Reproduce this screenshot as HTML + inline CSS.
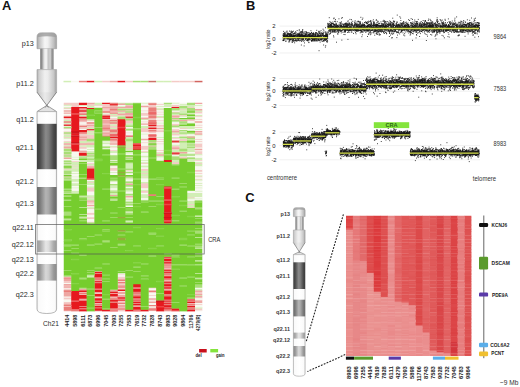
<!DOCTYPE html>
<html><head><meta charset="utf-8"><style>
html,body{margin:0;padding:0;background:#fff;width:520px;height:387px;overflow:hidden}
svg{display:block;font-family:"Liberation Sans",sans-serif}
</style></head><body>
<svg width="520" height="387" viewBox="0 0 520 387" font-family="Liberation Sans, sans-serif"><defs><linearGradient id="gcap" x1="0" y1="0" x2="1" y2="0"><stop offset="0" stop-color="#a8a8a8"/><stop offset="0.12" stop-color="#c4c4c4"/><stop offset="0.4" stop-color="#f6f6f6"/><stop offset="0.55" stop-color="#f0f0f0"/><stop offset="0.85" stop-color="#c0c0c0"/><stop offset="1" stop-color="#a0a0a0"/></linearGradient><linearGradient id="gstalk" x1="0" y1="0" x2="1" y2="0"><stop offset="0" stop-color="#a0a0a0"/><stop offset="0.12" stop-color="#8a8a8a"/><stop offset="0.3" stop-color="#e4e4e4"/><stop offset="0.45" stop-color="#f6f6f6"/><stop offset="0.6" stop-color="#c4c4c4"/><stop offset="0.75" stop-color="#d0d0d0"/><stop offset="0.88" stop-color="#8c8c8c"/><stop offset="1" stop-color="#a4a4a4"/></linearGradient><linearGradient id="gwide" x1="0" y1="0" x2="1" y2="0"><stop offset="0" stop-color="#a8a8a8"/><stop offset="0.1" stop-color="#cfcfcf"/><stop offset="0.4" stop-color="#f0f0f0"/><stop offset="0.55" stop-color="#ececec"/><stop offset="0.85" stop-color="#c8c8c8"/><stop offset="1" stop-color="#9c9c9c"/></linearGradient><linearGradient id="gdark" x1="0" y1="0" x2="1" y2="0"><stop offset="0" stop-color="#3e3e3e"/><stop offset="0.15" stop-color="#4a4a4a"/><stop offset="0.45" stop-color="#8a8a8a"/><stop offset="0.6" stop-color="#7c7c7c"/><stop offset="0.85" stop-color="#4a4a4a"/><stop offset="1" stop-color="#3a3a3a"/></linearGradient><linearGradient id="gmid" x1="0" y1="0" x2="1" y2="0"><stop offset="0" stop-color="#6a6a6a"/><stop offset="0.15" stop-color="#7a7a7a"/><stop offset="0.45" stop-color="#b4b4b4"/><stop offset="0.6" stop-color="#a8a8a8"/><stop offset="0.85" stop-color="#7a7a7a"/><stop offset="1" stop-color="#6a6a6a"/></linearGradient><linearGradient id="glight" x1="0" y1="0" x2="1" y2="0"><stop offset="0" stop-color="#a0a0a0"/><stop offset="0.15" stop-color="#a8a8a8"/><stop offset="0.45" stop-color="#e6e6e6"/><stop offset="0.6" stop-color="#dcdcdc"/><stop offset="0.85" stop-color="#aaaaaa"/><stop offset="1" stop-color="#9a9a9a"/></linearGradient><linearGradient id="gmid2" x1="0" y1="0" x2="1" y2="0"><stop offset="0" stop-color="#8c8c8c"/><stop offset="0.15" stop-color="#979797"/><stop offset="0.45" stop-color="#d8d8d8"/><stop offset="0.6" stop-color="#cccccc"/><stop offset="0.85" stop-color="#999999"/><stop offset="1" stop-color="#8a8a8a"/></linearGradient><linearGradient id="gwhite" x1="0" y1="0" x2="1" y2="0"><stop offset="0" stop-color="#e6e6e6"/><stop offset="0.08" stop-color="#fafafa"/><stop offset="0.5" stop-color="#ffffff"/><stop offset="0.92" stop-color="#fafafa"/><stop offset="1" stop-color="#e0e0e0"/></linearGradient><linearGradient id="gcone" x1="0" y1="0" x2="1" y2="0"><stop offset="0" stop-color="#c0c0c0"/><stop offset="0.4" stop-color="#e8e8e8"/><stop offset="0.6" stop-color="#dcdcdc"/><stop offset="1" stop-color="#b8b8b8"/></linearGradient></defs><text x="2.00" y="9.80" font-size="12.9" fill="#111" text-anchor="start" font-weight="bold" >A</text>
<path d="M37.00,48.70 L37.00,37.30 Q37.00,32.80 41.50,32.80 L52.10,32.80 Q56.60,32.80 56.60,37.30 L56.60,48.70 Z" fill="url(#gcap)" stroke="#a0a0a0" stroke-width="0.7"/>
<path d="M37.30,37.25 L37.30,37.30 Q37.30,33.10 41.50,33.10 L52.10,33.10 Q56.30,33.10 56.30,37.30 L56.30,37.25 Q46.80,35.47 37.30,37.25 Z" fill="#9c9c9c" opacity="0.8"/>
<rect x="40.00" y="48.70" width="13.80" height="20.90" fill="url(#gstalk)" />
<path d="M37.00,69.60 L56.60,69.60 L56.60,92.20 L46.80,105.40 L37.00,92.20 Z" fill="url(#gwide)"/>
<path d="M37.00,92.20 L56.60,92.20 L46.80,105.40 Z" fill="url(#gcone)" opacity="0.8"/>
<path d="M46.80,105.40 L56.60,111.60 L37.00,111.60 Z" fill="#e2e2e2"/>
<path d="M37.00,92.20 L48.41,107.57 M56.60,92.20 L45.19,107.57" stroke="#666" stroke-width="0.7" fill="none"/>
<path d="M37.00,111.60 L46.80,105.40 L56.60,111.60" stroke="#7a7a7a" stroke-width="0.7" fill="none"/>
<path d="M37.00,111.60 L56.60,111.60 L56.60,309.09 Q56.60,313.50 46.80,313.50 Q37.00,313.50 37.00,309.09 Z" fill="url(#gwhite)" stroke="#9a9a9a" stroke-width="0.7"/>
<rect x="37.00" y="123.80" width="19.60" height="45.40" fill="url(#gdark)" />
<rect x="37.00" y="187.00" width="19.60" height="27.50" fill="url(#gmid)" />
<rect x="37.00" y="240.40" width="19.60" height="11.70" fill="url(#glight)" />
<rect x="37.00" y="264.00" width="19.60" height="16.60" fill="url(#gmid2)" />
<path d="M37.00,92.20 L37.00,69.60 L56.60,69.60 L56.60,92.20" stroke="#a8a8a8" stroke-width="0.7" fill="none"/>
<text x="33.80" y="45.50" font-size="7.2" fill="#2a2a2a" text-anchor="end" font-weight="normal" >p13</text>
<text x="33.80" y="85.90" font-size="7.2" fill="#2a2a2a" text-anchor="end" font-weight="normal" >p11.2</text>
<text x="33.80" y="121.50" font-size="7.2" fill="#2a2a2a" text-anchor="end" font-weight="normal" >q11.2</text>
<text x="33.80" y="150.20" font-size="7.2" fill="#2a2a2a" text-anchor="end" font-weight="normal" >q21.1</text>
<text x="33.80" y="184.40" font-size="7.2" fill="#2a2a2a" text-anchor="end" font-weight="normal" >q21.2</text>
<text x="33.80" y="205.70" font-size="7.2" fill="#2a2a2a" text-anchor="end" font-weight="normal" >q21.3</text>
<text x="33.80" y="229.90" font-size="7.2" fill="#2a2a2a" text-anchor="end" font-weight="normal" >q22.11</text>
<text x="33.80" y="247.40" font-size="7.2" fill="#2a2a2a" text-anchor="end" font-weight="normal" >q22.12</text>
<text x="33.80" y="262.20" font-size="7.2" fill="#2a2a2a" text-anchor="end" font-weight="normal" >q22.13</text>
<text x="33.80" y="275.80" font-size="7.2" fill="#2a2a2a" text-anchor="end" font-weight="normal" >q22.2</text>
<text x="33.80" y="296.50" font-size="7.2" fill="#2a2a2a" text-anchor="end" font-weight="normal" >q22.3</text>
<text x="51.00" y="325.70" font-size="6.6" fill="#2a2a2a" text-anchor="middle" font-weight="normal" >Ch21</text>
<svg x="63.5" y="102.5" width="138.90" height="209.00" viewBox="0 0 18 190" preserveAspectRatio="none"><path fill="#f4cac6" d="M0 0h1.04v2.3h-1.04zM0 5h1.04v1.3h-1.04zM0 15h1.04v1.3h-1.04zM0 19h1.04v1.3h-1.04zM0 23h1.04v1.3h-1.04zM0 26h1.04v1.3h-1.04zM0 28h1.04v1.3h-1.04zM0 31h1.04v1.3h-1.04zM0 35h1.04v1.3h-1.04zM0 38h1.04v1.3h-1.04zM0 41h1.04v1.3h-1.04zM0 47h1.04v1.3h-1.04zM0 60h1.04v1.3h-1.04zM0 67h1.04v1.3h-1.04zM0 158h1.04v1.3h-1.04zM0 162h1.04v2.3h-1.04zM0 166h1.04v1.3h-1.04zM0 168h1.04v1.3h-1.04zM0 177h1.04v2.3h-1.04zM0 181h1.04v2.3h-1.04zM0 185h1.04v1.3h-1.04zM0 189h1.04v1.3h-1.04zM1 0h1.04v4.3h-1.04zM1 44h1.04v1.3h-1.04zM1 53h1.04v1.3h-1.04zM1 57h1.04v1.3h-1.04zM1 59h1.04v1.3h-1.04zM2 8h1.04v1.3h-1.04zM2 12h1.04v1.3h-1.04zM2 17h1.04v1.3h-1.04zM2 19h1.04v1.3h-1.04zM2 22h1.04v2.3h-1.04zM2 28h1.04v3.3h-1.04zM2 32h1.04v1.3h-1.04zM2 34h1.04v1.3h-1.04zM2 38h1.04v1.3h-1.04zM2 40h1.04v2.3h-1.04zM2 43h1.04v1.3h-1.04zM2 172h1.04v1.3h-1.04zM2 174h1.04v1.3h-1.04zM2 178h1.04v1.3h-1.04zM2 187h1.04v1.3h-1.04zM3 1h1.04v2.3h-1.04zM3 16h1.04v1.3h-1.04zM3 21h1.04v2.3h-1.04zM3 25h1.04v1.3h-1.04zM3 27h1.04v1.3h-1.04zM3 29h1.04v4.3h-1.04zM3 36h1.04v1.3h-1.04zM3 47h1.04v1.3h-1.04zM3 55h1.04v1.3h-1.04zM3 57h1.04v1.3h-1.04zM3 72h1.04v1.3h-1.04zM3 77h1.04v4.3h-1.04zM3 86h1.04v1.3h-1.04zM3 90h1.04v2.3h-1.04zM3 96h1.04v1.3h-1.04zM3 100h1.04v2.3h-1.04zM3 104h1.04v2.3h-1.04zM3 108h1.04v1.3h-1.04zM4 2h1.04v1.3h-1.04zM4 161h1.04v1.3h-1.04zM4 169h1.04v1.3h-1.04zM4 173h1.04v1.3h-1.04zM4 176h1.04v2.3h-1.04zM4 180h1.04v1.3h-1.04zM4 182h1.04v1.3h-1.04zM5 1h1.04v3.3h-1.04zM5 5h1.04v3.3h-1.04zM5 19h1.04v1.3h-1.04zM5 29h1.04v1.3h-1.04zM6 3h1.04v1.3h-1.04zM6 8h1.04v1.3h-1.04zM6 11h1.04v1.3h-1.04zM6 14h1.04v2.3h-1.04zM6 19h1.04v1.3h-1.04zM6 21h1.04v2.3h-1.04zM6 35h1.04v2.3h-1.04zM6 40h1.04v1.3h-1.04zM6 43h1.04v1.3h-1.04zM6 57h1.04v1.3h-1.04zM6 59h1.04v3.3h-1.04zM6 170h1.04v1.3h-1.04zM6 173h1.04v1.3h-1.04zM6 176h1.04v1.3h-1.04zM7 11h1.04v1.3h-1.04zM7 156h1.04v1.3h-1.04zM7 158h1.04v3.3h-1.04zM7 164h1.04v2.3h-1.04zM7 168h1.04v2.3h-1.04zM7 178h1.04v1.3h-1.04zM7 180h1.04v2.3h-1.04zM7 186h1.04v1.3h-1.04zM7 188h1.04v2.3h-1.04zM8 2h1.04v1.3h-1.04zM8 7h1.04v1.3h-1.04zM8 11h1.04v1.3h-1.04zM8 16h1.04v3.3h-1.04zM8 27h1.04v1.3h-1.04zM8 29h1.04v1.3h-1.04zM8 41h1.04v1.3h-1.04zM8 49h1.04v1.3h-1.04zM8 61h1.04v1.3h-1.04zM8 68h1.04v1.3h-1.04zM8 73h1.04v1.3h-1.04zM8 87h1.04v1.3h-1.04zM9 188h1.04v1.3h-1.04zM10 7h1.04v1.3h-1.04zM10 9h1.04v3.3h-1.04zM10 13h1.04v1.3h-1.04zM10 17h1.04v1.3h-1.04zM10 23h1.04v4.3h-1.04zM10 36h1.04v1.3h-1.04zM10 39h1.04v4.3h-1.04zM10 44h1.04v1.3h-1.04zM10 55h1.04v1.3h-1.04zM10 60h1.04v2.3h-1.04zM10 64h1.04v1.3h-1.04zM10 67h1.04v1.3h-1.04zM10 73h1.04v5.3h-1.04zM10 80h1.04v2.3h-1.04zM11 2h1.04v2.3h-1.04zM11 14h1.04v2.3h-1.04zM11 26h1.04v2.3h-1.04zM11 31h1.04v1.3h-1.04zM11 36h1.04v1.3h-1.04zM11 168h1.04v1.3h-1.04zM11 172h1.04v1.3h-1.04zM11 175h1.04v1.3h-1.04zM11 179h1.04v1.3h-1.04zM11 186h1.04v1.3h-1.04zM12 1h1.04v1.3h-1.04zM12 6h1.04v1.3h-1.04zM12 8h1.04v1.3h-1.04zM12 10h1.04v1.3h-1.04zM12 13h1.04v1.3h-1.04zM12 16h1.04v1.3h-1.04zM12 20h1.04v2.3h-1.04zM12 25h1.04v2.3h-1.04zM12 33h1.04v1.3h-1.04zM12 35h1.04v1.3h-1.04zM12 37h1.04v1.3h-1.04zM12 43h1.04v1.3h-1.04zM12 45h1.04v1.3h-1.04zM13 150h1.04v1.3h-1.04zM13 161h1.04v1.3h-1.04zM13 169h1.04v1.3h-1.04zM14 2h1.04v2.3h-1.04zM14 8h1.04v1.3h-1.04zM14 11h1.04v1.3h-1.04zM14 13h1.04v1.3h-1.04zM14 15h1.04v1.3h-1.04zM14 19h1.04v2.3h-1.04zM14 24h1.04v2.3h-1.04zM14 28h1.04v2.3h-1.04zM14 32h1.04v1.3h-1.04zM14 39h1.04v2.3h-1.04zM14 42h1.04v1.3h-1.04zM14 54h1.04v2.3h-1.04zM15 6h1.04v1.3h-1.04zM15 11h1.04v1.3h-1.04zM15 23h1.04v1.3h-1.04zM15 29h1.04v1.3h-1.04zM15 33h1.04v2.3h-1.04zM15 49h1.04v2.3h-1.04zM16 4h1.04v1.3h-1.04zM16 15h1.04v2.3h-1.04zM16 86h1.04v1.3h-1.04zM16 92h1.04v1.3h-1.04zM16 95h1.04v1.3h-1.04zM16 182h1.04v1.3h-1.04zM17 8h1.04v2.3h-1.04zM17 12h1.04v1.3h-1.04zM17 15h1.04v1.3h-1.04zM17 20h1.04v1.3h-1.04zM17 22h1.04v1.3h-1.04zM17 33h1.04v1.3h-1.04zM17 35h1.04v1.3h-1.04zM17 37h1.04v4.3h-1.04zM17 44h1.04v3.3h-1.04zM17 52h1.04v1.3h-1.04zM17 55h1.04v1.3h-1.04zM17 61h1.04v2.3h-1.04zM17 64h1.04v1.3h-1.04zM17 67h1.04v1.3h-1.04zM17 69h1.04v1.3h-1.04zM17 172h1.04v2.3h-1.04zM17 177h1.04v1.3h-1.04zM17 179h1.04v1.3h-1.04zM17 183h1.04v1.3h-1.04zM17 187h1.04v2.3h-1.04z"/><path fill="#d2eeb6" d="M0 2h1.04v1.3h-1.04zM0 4h1.04v1.3h-1.04zM0 16h1.04v1.3h-1.04zM0 18h1.04v1.3h-1.04zM0 29h1.04v2.3h-1.04zM0 32h1.04v1.3h-1.04zM0 36h1.04v1.3h-1.04zM0 39h1.04v1.3h-1.04zM0 44h1.04v1.3h-1.04zM0 49h1.04v1.3h-1.04zM0 52h1.04v1.3h-1.04zM0 54h1.04v1.3h-1.04zM0 61h1.04v1.3h-1.04zM0 65h1.04v1.3h-1.04zM0 70h1.04v1.3h-1.04zM0 78h1.04v1.3h-1.04zM0 82h1.04v1.3h-1.04zM0 88h1.04v1.3h-1.04zM0 106h1.04v1.3h-1.04zM1 49h1.04v1.3h-1.04zM1 51h1.04v1.3h-1.04zM1 54h1.04v3.3h-1.04zM1 58h1.04v1.3h-1.04zM1 60h1.04v3.3h-1.04zM1 64h1.04v1.3h-1.04zM1 67h1.04v1.3h-1.04zM1 69h1.04v3.3h-1.04zM1 73h1.04v3.3h-1.04zM1 77h1.04v1.3h-1.04zM1 80h1.04v3.3h-1.04zM2 2h1.04v1.3h-1.04zM2 11h1.04v1.3h-1.04zM2 35h1.04v2.3h-1.04zM2 39h1.04v1.3h-1.04zM2 48h1.04v1.3h-1.04zM2 50h1.04v1.3h-1.04zM2 52h1.04v2.3h-1.04zM2 68h1.04v1.3h-1.04zM2 85h1.04v1.3h-1.04zM2 95h1.04v1.3h-1.04zM2 101h1.04v1.3h-1.04zM2 104h1.04v1.3h-1.04zM3 3h1.04v2.3h-1.04zM3 15h1.04v1.3h-1.04zM3 23h1.04v1.3h-1.04zM3 26h1.04v1.3h-1.04zM3 28h1.04v1.3h-1.04zM3 35h1.04v1.3h-1.04zM3 38h1.04v3.3h-1.04zM3 42h1.04v1.3h-1.04zM3 44h1.04v2.3h-1.04zM3 49h1.04v2.3h-1.04zM3 52h1.04v2.3h-1.04zM3 56h1.04v1.3h-1.04zM3 71h1.04v1.3h-1.04zM3 73h1.04v2.3h-1.04zM3 76h1.04v1.3h-1.04zM3 84h1.04v2.3h-1.04zM3 87h1.04v2.3h-1.04zM3 95h1.04v1.3h-1.04zM3 157h1.04v2.3h-1.04zM4 0h1.04v2.3h-1.04zM4 4h1.04v1.3h-1.04zM5 9h1.04v1.3h-1.04zM5 36h1.04v2.3h-1.04zM5 39h1.04v1.3h-1.04zM6 10h1.04v1.3h-1.04zM6 12h1.04v1.3h-1.04zM6 17h1.04v1.3h-1.04zM6 20h1.04v1.3h-1.04zM6 23h1.04v1.3h-1.04zM6 27h1.04v1.3h-1.04zM6 39h1.04v1.3h-1.04zM6 44h1.04v2.3h-1.04zM6 54h1.04v1.3h-1.04zM6 63h1.04v1.3h-1.04zM6 71h1.04v1.3h-1.04zM6 75h1.04v3.3h-1.04zM6 79h1.04v2.3h-1.04zM6 82h1.04v2.3h-1.04zM7 0h1.04v1.3h-1.04zM7 3h1.04v1.3h-1.04zM7 5h1.04v1.3h-1.04zM7 8h1.04v2.3h-1.04zM7 12h1.04v1.3h-1.04zM8 0h1.04v1.3h-1.04zM8 5h1.04v1.3h-1.04zM8 14h1.04v1.3h-1.04zM8 19h1.04v2.3h-1.04zM8 23h1.04v1.3h-1.04zM8 25h1.04v1.3h-1.04zM8 31h1.04v2.3h-1.04zM8 35h1.04v6.3h-1.04zM8 42h1.04v2.3h-1.04zM8 46h1.04v1.3h-1.04zM8 51h1.04v1.3h-1.04zM8 55h1.04v5.3h-1.04zM8 69h1.04v1.3h-1.04zM8 71h1.04v1.3h-1.04zM8 76h1.04v1.3h-1.04zM8 79h1.04v2.3h-1.04zM8 84h1.04v1.3h-1.04zM8 88h1.04v1.3h-1.04zM8 91h1.04v1.3h-1.04zM8 93h1.04v1.3h-1.04zM8 107h1.04v2.3h-1.04zM10 0h1.04v1.3h-1.04zM10 15h1.04v1.3h-1.04zM10 21h1.04v2.3h-1.04zM10 28h1.04v1.3h-1.04zM10 45h1.04v1.3h-1.04zM10 48h1.04v2.3h-1.04zM10 52h1.04v1.3h-1.04zM10 54h1.04v1.3h-1.04zM10 57h1.04v2.3h-1.04zM10 62h1.04v2.3h-1.04zM10 65h1.04v2.3h-1.04zM10 68h1.04v1.3h-1.04zM10 72h1.04v1.3h-1.04zM10 79h1.04v1.3h-1.04zM10 83h1.04v4.3h-1.04zM10 88h1.04v1.3h-1.04zM12 3h1.04v1.3h-1.04zM12 5h1.04v1.3h-1.04zM12 12h1.04v1.3h-1.04zM12 18h1.04v1.3h-1.04zM12 31h1.04v1.3h-1.04zM12 46h1.04v1.3h-1.04zM12 48h1.04v2.3h-1.04zM13 1h1.04v3.3h-1.04zM14 0h1.04v1.3h-1.04zM14 10h1.04v1.3h-1.04zM14 17h1.04v1.3h-1.04zM14 22h1.04v1.3h-1.04zM14 27h1.04v1.3h-1.04zM14 31h1.04v1.3h-1.04zM14 38h1.04v1.3h-1.04zM14 43h1.04v2.3h-1.04zM14 48h1.04v1.3h-1.04zM14 52h1.04v2.3h-1.04zM15 1h1.04v1.3h-1.04zM15 5h1.04v1.3h-1.04zM15 7h1.04v3.3h-1.04zM15 12h1.04v1.3h-1.04zM15 15h1.04v1.3h-1.04zM15 19h1.04v1.3h-1.04zM15 21h1.04v2.3h-1.04zM15 28h1.04v1.3h-1.04zM15 32h1.04v1.3h-1.04zM15 36h1.04v6.3h-1.04zM15 44h1.04v1.3h-1.04zM15 46h1.04v1.3h-1.04zM15 48h1.04v1.3h-1.04zM16 2h1.04v2.3h-1.04zM16 9h1.04v2.3h-1.04zM16 12h1.04v1.3h-1.04zM16 18h1.04v1.3h-1.04zM16 21h1.04v3.3h-1.04zM16 25h1.04v1.3h-1.04zM16 28h1.04v1.3h-1.04zM16 30h1.04v1.3h-1.04zM16 33h1.04v1.3h-1.04zM16 37h1.04v1.3h-1.04zM16 39h1.04v1.3h-1.04zM16 41h1.04v4.3h-1.04zM16 46h1.04v1.3h-1.04zM16 49h1.04v1.3h-1.04zM16 51h1.04v3.3h-1.04zM16 82h1.04v4.3h-1.04zM16 87h1.04v1.3h-1.04zM16 89h1.04v3.3h-1.04zM16 93h1.04v2.3h-1.04zM17 2h1.04v1.3h-1.04zM17 7h1.04v1.3h-1.04zM17 11h1.04v1.3h-1.04zM17 24h1.04v1.3h-1.04zM17 29h1.04v1.3h-1.04zM17 47h1.04v1.3h-1.04zM17 50h1.04v2.3h-1.04zM17 54h1.04v1.3h-1.04zM17 56h1.04v2.3h-1.04zM17 66h1.04v1.3h-1.04zM17 70h1.04v1.3h-1.04zM17 73h1.04v1.3h-1.04zM17 75h1.04v1.3h-1.04zM17 77h1.04v1.3h-1.04zM17 80h1.04v1.3h-1.04zM17 82h1.04v4.3h-1.04zM17 87h1.04v1.3h-1.04zM17 103h1.04v1.3h-1.04zM17 122h1.04v1.3h-1.04zM17 132h1.04v1.3h-1.04zM17 137h1.04v1.3h-1.04zM17 143h1.04v1.3h-1.04zM17 147h1.04v1.3h-1.04zM17 155h1.04v1.3h-1.04zM17 159h1.04v1.3h-1.04zM17 169h1.04v2.3h-1.04zM17 175h1.04v1.3h-1.04zM17 186h1.04v1.3h-1.04z"/><path fill="#f8f8f0" d="M0 3h1.04v1.3h-1.04zM0 6h1.04v1.3h-1.04zM0 8h1.04v1.3h-1.04zM0 10h1.04v2.3h-1.04zM0 14h1.04v1.3h-1.04zM0 21h1.04v1.3h-1.04zM0 24h1.04v2.3h-1.04zM0 33h1.04v2.3h-1.04zM0 51h1.04v1.3h-1.04zM0 56h1.04v1.3h-1.04zM0 164h1.04v1.3h-1.04zM0 169h1.04v1.3h-1.04zM0 176h1.04v1.3h-1.04zM0 179h1.04v2.3h-1.04zM1 45h1.04v4.3h-1.04zM1 50h1.04v1.3h-1.04zM1 52h1.04v1.3h-1.04zM1 63h1.04v1.3h-1.04zM1 65h1.04v2.3h-1.04zM1 68h1.04v1.3h-1.04zM1 72h1.04v1.3h-1.04zM1 76h1.04v1.3h-1.04zM1 78h1.04v2.3h-1.04zM2 3h1.04v1.3h-1.04zM2 18h1.04v1.3h-1.04zM2 20h1.04v1.3h-1.04zM2 24h1.04v1.3h-1.04zM2 42h1.04v1.3h-1.04zM3 17h1.04v1.3h-1.04zM3 19h1.04v1.3h-1.04zM3 41h1.04v1.3h-1.04zM3 43h1.04v1.3h-1.04zM3 54h1.04v1.3h-1.04zM3 70h1.04v1.3h-1.04zM3 75h1.04v1.3h-1.04zM3 81h1.04v3.3h-1.04zM3 92h1.04v1.3h-1.04zM3 94h1.04v1.3h-1.04zM3 97h1.04v3.3h-1.04zM3 102h1.04v2.3h-1.04zM3 106h1.04v2.3h-1.04zM4 3h1.04v1.3h-1.04zM5 10h1.04v1.3h-1.04zM5 15h1.04v1.3h-1.04zM5 26h1.04v1.3h-1.04zM5 35h1.04v1.3h-1.04zM5 38h1.04v1.3h-1.04zM5 41h1.04v1.3h-1.04zM6 13h1.04v1.3h-1.04zM6 38h1.04v1.3h-1.04zM6 41h1.04v2.3h-1.04zM6 46h1.04v2.3h-1.04zM6 52h1.04v1.3h-1.04zM6 58h1.04v1.3h-1.04zM6 62h1.04v1.3h-1.04zM6 64h1.04v2.3h-1.04zM6 72h1.04v2.3h-1.04zM6 78h1.04v1.3h-1.04zM6 88h1.04v1.3h-1.04zM7 2h1.04v1.3h-1.04zM7 155h1.04v1.3h-1.04zM7 157h1.04v1.3h-1.04zM7 162h1.04v1.3h-1.04zM7 171h1.04v1.3h-1.04zM7 174h1.04v1.3h-1.04zM7 183h1.04v1.3h-1.04zM8 22h1.04v1.3h-1.04zM8 26h1.04v1.3h-1.04zM8 28h1.04v1.3h-1.04zM8 45h1.04v1.3h-1.04zM8 47h1.04v1.3h-1.04zM8 62h1.04v1.3h-1.04zM8 64h1.04v2.3h-1.04zM8 70h1.04v1.3h-1.04zM8 77h1.04v1.3h-1.04zM8 81h1.04v2.3h-1.04zM8 86h1.04v1.3h-1.04zM8 89h1.04v1.3h-1.04zM8 94h1.04v1.3h-1.04zM8 99h1.04v1.3h-1.04zM10 1h1.04v2.3h-1.04zM10 4h1.04v3.3h-1.04zM10 8h1.04v1.3h-1.04zM10 12h1.04v1.3h-1.04zM10 16h1.04v1.3h-1.04zM10 18h1.04v1.3h-1.04zM10 20h1.04v1.3h-1.04zM10 27h1.04v1.3h-1.04zM10 29h1.04v4.3h-1.04zM10 34h1.04v2.3h-1.04zM10 37h1.04v2.3h-1.04zM10 43h1.04v1.3h-1.04zM10 46h1.04v2.3h-1.04zM10 50h1.04v2.3h-1.04zM10 53h1.04v1.3h-1.04zM10 56h1.04v1.3h-1.04zM10 59h1.04v1.3h-1.04zM10 69h1.04v3.3h-1.04zM10 78h1.04v1.3h-1.04zM10 82h1.04v1.3h-1.04zM10 87h1.04v1.3h-1.04zM11 24h1.04v1.3h-1.04zM11 28h1.04v1.3h-1.04zM11 169h1.04v2.3h-1.04zM11 173h1.04v2.3h-1.04zM11 176h1.04v2.3h-1.04zM11 180h1.04v1.3h-1.04zM11 182h1.04v2.3h-1.04zM11 185h1.04v1.3h-1.04zM11 189h1.04v1.3h-1.04zM12 0h1.04v1.3h-1.04zM12 2h1.04v1.3h-1.04zM12 4h1.04v1.3h-1.04zM12 7h1.04v1.3h-1.04zM12 9h1.04v1.3h-1.04zM12 11h1.04v1.3h-1.04zM12 14h1.04v2.3h-1.04zM12 17h1.04v1.3h-1.04zM12 19h1.04v1.3h-1.04zM12 22h1.04v1.3h-1.04zM12 24h1.04v1.3h-1.04zM12 27h1.04v4.3h-1.04zM12 32h1.04v1.3h-1.04zM12 34h1.04v1.3h-1.04zM12 36h1.04v1.3h-1.04zM12 38h1.04v5.3h-1.04zM12 44h1.04v1.3h-1.04zM12 50h1.04v3.3h-1.04zM13 4h1.04v1.3h-1.04zM14 1h1.04v1.3h-1.04zM14 7h1.04v1.3h-1.04zM14 18h1.04v1.3h-1.04zM14 23h1.04v1.3h-1.04zM14 30h1.04v1.3h-1.04zM14 33h1.04v1.3h-1.04zM14 36h1.04v2.3h-1.04zM14 47h1.04v1.3h-1.04zM15 0h1.04v1.3h-1.04zM15 2h1.04v1.3h-1.04zM15 13h1.04v1.3h-1.04zM15 24h1.04v1.3h-1.04zM15 26h1.04v1.3h-1.04zM15 30h1.04v1.3h-1.04zM16 17h1.04v1.3h-1.04zM16 24h1.04v1.3h-1.04zM16 29h1.04v1.3h-1.04zM16 45h1.04v1.3h-1.04zM16 48h1.04v1.3h-1.04zM16 80h1.04v2.3h-1.04zM16 88h1.04v1.3h-1.04zM17 1h1.04v1.3h-1.04zM17 3h1.04v3.3h-1.04zM17 10h1.04v1.3h-1.04zM17 13h1.04v2.3h-1.04zM17 16h1.04v1.3h-1.04zM17 18h1.04v2.3h-1.04zM17 21h1.04v1.3h-1.04zM17 23h1.04v1.3h-1.04zM17 25h1.04v1.3h-1.04zM17 27h1.04v1.3h-1.04zM17 30h1.04v3.3h-1.04zM17 34h1.04v1.3h-1.04zM17 36h1.04v1.3h-1.04zM17 41h1.04v1.3h-1.04zM17 43h1.04v1.3h-1.04zM17 48h1.04v2.3h-1.04zM17 53h1.04v1.3h-1.04zM17 58h1.04v3.3h-1.04zM17 63h1.04v1.3h-1.04zM17 65h1.04v1.3h-1.04zM17 68h1.04v1.3h-1.04zM17 71h1.04v2.3h-1.04zM17 74h1.04v1.3h-1.04zM17 76h1.04v1.3h-1.04zM17 78h1.04v2.3h-1.04zM17 81h1.04v1.3h-1.04zM17 86h1.04v1.3h-1.04zM17 88h1.04v1.3h-1.04zM17 168h1.04v1.3h-1.04zM17 178h1.04v1.3h-1.04zM17 182h1.04v1.3h-1.04zM17 184h1.04v2.3h-1.04zM17 189h1.04v1.3h-1.04z"/><path fill="#eea6a2" d="M0 7h1.04v1.3h-1.04zM0 9h1.04v1.3h-1.04zM0 12h1.04v1.3h-1.04zM0 37h1.04v1.3h-1.04zM0 40h1.04v1.3h-1.04zM0 50h1.04v1.3h-1.04zM0 160h1.04v2.3h-1.04zM0 165h1.04v1.3h-1.04zM0 167h1.04v1.3h-1.04zM0 170h1.04v1.3h-1.04zM0 172h1.04v4.3h-1.04zM0 183h1.04v1.3h-1.04zM1 180h1.04v1.3h-1.04zM2 5h1.04v2.3h-1.04zM2 9h1.04v1.3h-1.04zM2 15h1.04v2.3h-1.04zM2 31h1.04v1.3h-1.04zM2 33h1.04v1.3h-1.04zM2 37h1.04v1.3h-1.04zM2 44h1.04v2.3h-1.04zM2 169h1.04v2.3h-1.04zM2 185h1.04v1.3h-1.04zM3 0h1.04v1.3h-1.04zM3 20h1.04v1.3h-1.04zM3 37h1.04v1.3h-1.04zM3 58h1.04v2.3h-1.04zM3 89h1.04v1.3h-1.04zM3 93h1.04v1.3h-1.04zM4 153h1.04v1.3h-1.04zM4 155h1.04v1.3h-1.04zM4 172h1.04v1.3h-1.04zM4 184h1.04v1.3h-1.04zM4 186h1.04v1.3h-1.04zM4 189h1.04v1.3h-1.04zM5 4h1.04v1.3h-1.04zM5 11h1.04v1.3h-1.04zM5 16h1.04v3.3h-1.04zM5 20h1.04v3.3h-1.04zM5 24h1.04v2.3h-1.04zM5 27h1.04v2.3h-1.04zM6 4h1.04v2.3h-1.04zM6 7h1.04v1.3h-1.04zM6 24h1.04v1.3h-1.04zM6 28h1.04v1.3h-1.04zM6 32h1.04v1.3h-1.04zM6 34h1.04v1.3h-1.04zM6 37h1.04v1.3h-1.04zM6 84h1.04v1.3h-1.04zM6 177h1.04v1.3h-1.04zM6 187h1.04v1.3h-1.04zM7 1h1.04v1.3h-1.04zM7 4h1.04v1.3h-1.04zM7 7h1.04v1.3h-1.04zM7 10h1.04v1.3h-1.04zM7 166h1.04v1.3h-1.04zM7 172h1.04v2.3h-1.04zM7 175h1.04v2.3h-1.04zM7 184h1.04v2.3h-1.04zM8 3h1.04v2.3h-1.04zM8 9h1.04v2.3h-1.04zM8 12h1.04v1.3h-1.04zM8 74h1.04v1.3h-1.04zM8 85h1.04v1.3h-1.04zM9 174h1.04v1.3h-1.04zM9 182h1.04v1.3h-1.04zM9 184h1.04v2.3h-1.04zM10 3h1.04v1.3h-1.04zM10 14h1.04v1.3h-1.04zM10 19h1.04v1.3h-1.04zM10 33h1.04v1.3h-1.04zM11 0h1.04v1.3h-1.04zM11 4h1.04v1.3h-1.04zM11 8h1.04v1.3h-1.04zM11 11h1.04v1.3h-1.04zM11 21h1.04v2.3h-1.04zM11 39h1.04v1.3h-1.04zM11 178h1.04v1.3h-1.04zM11 181h1.04v1.3h-1.04zM12 23h1.04v1.3h-1.04zM12 47h1.04v1.3h-1.04zM13 146h1.04v1.3h-1.04zM13 148h1.04v1.3h-1.04zM13 151h1.04v1.3h-1.04zM13 155h1.04v1.3h-1.04zM13 157h1.04v1.3h-1.04zM13 167h1.04v1.3h-1.04zM13 174h1.04v1.3h-1.04zM13 179h1.04v1.3h-1.04zM13 186h1.04v1.3h-1.04zM13 189h1.04v1.3h-1.04zM14 12h1.04v1.3h-1.04zM14 26h1.04v1.3h-1.04zM14 34h1.04v1.3h-1.04zM14 41h1.04v1.3h-1.04zM15 16h1.04v1.3h-1.04zM15 45h1.04v1.3h-1.04zM16 31h1.04v1.3h-1.04zM16 178h1.04v1.3h-1.04zM16 184h1.04v1.3h-1.04zM17 0h1.04v1.3h-1.04zM17 6h1.04v1.3h-1.04zM17 17h1.04v1.3h-1.04zM17 26h1.04v1.3h-1.04zM17 28h1.04v1.3h-1.04zM17 42h1.04v1.3h-1.04zM17 171h1.04v1.3h-1.04zM17 174h1.04v1.3h-1.04zM17 176h1.04v1.3h-1.04zM17 180h1.04v2.3h-1.04z"/><path fill="#e6191e" d="M0 13h1.04v1.3h-1.04zM1 4h1.04v6.3h-1.04zM1 11h1.04v15.3h-1.04zM1 28h1.04v2.3h-1.04zM1 31h1.04v5.3h-1.04zM1 38h1.04v6.3h-1.04zM1 171h1.04v9.3h-1.04zM1 181h1.04v7.3h-1.04zM2 0h1.04v2.3h-1.04zM2 4h1.04v1.3h-1.04zM2 7h1.04v1.3h-1.04zM2 13h1.04v1.3h-1.04zM2 25h1.04v2.3h-1.04zM2 46h1.04v2.3h-1.04zM2 171h1.04v1.3h-1.04zM2 175h1.04v3.3h-1.04zM2 180h1.04v5.3h-1.04zM2 186h1.04v1.3h-1.04zM2 188h1.04v2.3h-1.04zM3 5h1.04v1.3h-1.04zM3 60h1.04v9.3h-1.04zM4 154h1.04v1.3h-1.04zM4 156h1.04v3.3h-1.04zM4 162h1.04v1.3h-1.04zM4 164h1.04v5.3h-1.04zM4 170h1.04v2.3h-1.04zM4 174h1.04v2.3h-1.04zM4 178h1.04v2.3h-1.04zM4 181h1.04v1.3h-1.04zM4 185h1.04v1.3h-1.04zM4 187h1.04v2.3h-1.04zM5 0h1.04v1.3h-1.04zM5 12h1.04v1.3h-1.04zM5 14h1.04v1.3h-1.04zM5 188h1.04v2.3h-1.04zM6 1h1.04v1.3h-1.04zM6 29h1.04v1.3h-1.04zM6 31h1.04v1.3h-1.04zM6 172h1.04v1.3h-1.04zM6 174h1.04v2.3h-1.04zM6 179h1.04v2.3h-1.04zM6 182h1.04v5.3h-1.04zM6 189h1.04v1.3h-1.04zM7 15h1.04v7.3h-1.04zM7 23h1.04v16.3h-1.04zM7 170h1.04v1.3h-1.04zM7 177h1.04v1.3h-1.04zM7 179h1.04v1.3h-1.04zM8 188h1.04v2.3h-1.04zM9 38h1.04v2.3h-1.04zM9 42h1.04v1.3h-1.04zM9 165h1.04v3.3h-1.04zM9 169h1.04v3.3h-1.04zM9 176h1.04v2.3h-1.04zM9 179h1.04v1.3h-1.04zM9 181h1.04v1.3h-1.04zM9 183h1.04v1.3h-1.04zM9 186h1.04v2.3h-1.04zM9 189h1.04v1.3h-1.04zM10 188h1.04v2.3h-1.04zM11 9h1.04v1.3h-1.04zM11 18h1.04v1.3h-1.04zM11 20h1.04v1.3h-1.04zM11 23h1.04v1.3h-1.04zM11 29h1.04v1.3h-1.04zM11 32h1.04v2.3h-1.04zM12 181h1.04v4.3h-1.04zM12 186h1.04v4.3h-1.04zM13 52h1.04v2.3h-1.04zM13 76h1.04v1.3h-1.04zM13 78h1.04v10.3h-1.04zM13 89h1.04v3.3h-1.04zM13 93h1.04v7.3h-1.04zM13 101h1.04v3.3h-1.04zM13 105h1.04v2.3h-1.04zM13 108h1.04v2.3h-1.04zM13 140h1.04v1.3h-1.04zM13 142h1.04v2.3h-1.04zM13 145h1.04v1.3h-1.04zM13 152h1.04v1.3h-1.04zM13 154h1.04v1.3h-1.04zM13 158h1.04v2.3h-1.04zM13 163h1.04v1.3h-1.04zM13 165h1.04v2.3h-1.04zM13 168h1.04v1.3h-1.04zM13 171h1.04v3.3h-1.04zM13 176h1.04v3.3h-1.04zM13 180h1.04v1.3h-1.04zM13 182h1.04v1.3h-1.04zM13 184h1.04v2.3h-1.04zM13 187h1.04v1.3h-1.04zM14 4h1.04v1.3h-1.04zM14 187h1.04v2.3h-1.04zM16 179h1.04v1.3h-1.04zM16 181h1.04v1.3h-1.04zM16 185h1.04v1.3h-1.04zM16 188h1.04v2.3h-1.04z"/><path fill="#ea7e7a" d="M0 17h1.04v1.3h-1.04zM0 159h1.04v1.3h-1.04zM0 171h1.04v1.3h-1.04zM0 184h1.04v1.3h-1.04zM0 186h1.04v3.3h-1.04zM1 188h1.04v2.3h-1.04zM2 10h1.04v1.3h-1.04zM2 14h1.04v1.3h-1.04zM2 21h1.04v1.3h-1.04zM2 27h1.04v1.3h-1.04zM2 173h1.04v1.3h-1.04zM2 179h1.04v1.3h-1.04zM3 18h1.04v1.3h-1.04zM4 159h1.04v2.3h-1.04zM4 163h1.04v1.3h-1.04zM4 183h1.04v1.3h-1.04zM5 8h1.04v1.3h-1.04zM5 23h1.04v1.3h-1.04zM5 30h1.04v1.3h-1.04zM6 0h1.04v1.3h-1.04zM6 2h1.04v1.3h-1.04zM6 6h1.04v1.3h-1.04zM6 9h1.04v1.3h-1.04zM6 16h1.04v1.3h-1.04zM6 18h1.04v1.3h-1.04zM6 25h1.04v2.3h-1.04zM6 30h1.04v1.3h-1.04zM6 33h1.04v1.3h-1.04zM6 171h1.04v1.3h-1.04zM6 178h1.04v1.3h-1.04zM6 181h1.04v1.3h-1.04zM6 188h1.04v1.3h-1.04zM7 161h1.04v1.3h-1.04zM7 163h1.04v1.3h-1.04zM7 167h1.04v1.3h-1.04zM7 182h1.04v1.3h-1.04zM7 187h1.04v1.3h-1.04zM8 30h1.04v1.3h-1.04zM9 168h1.04v1.3h-1.04zM9 172h1.04v2.3h-1.04zM9 175h1.04v1.3h-1.04zM9 178h1.04v1.3h-1.04zM9 180h1.04v1.3h-1.04zM11 1h1.04v1.3h-1.04zM11 5h1.04v3.3h-1.04zM11 10h1.04v1.3h-1.04zM11 12h1.04v2.3h-1.04zM11 16h1.04v2.3h-1.04zM11 19h1.04v1.3h-1.04zM11 25h1.04v1.3h-1.04zM11 30h1.04v1.3h-1.04zM11 83h1.04v2.3h-1.04zM11 171h1.04v1.3h-1.04zM11 184h1.04v1.3h-1.04zM11 187h1.04v2.3h-1.04zM13 141h1.04v1.3h-1.04zM13 144h1.04v1.3h-1.04zM13 147h1.04v1.3h-1.04zM13 149h1.04v1.3h-1.04zM13 153h1.04v1.3h-1.04zM13 156h1.04v1.3h-1.04zM13 160h1.04v1.3h-1.04zM13 162h1.04v1.3h-1.04zM13 164h1.04v1.3h-1.04zM13 170h1.04v1.3h-1.04zM13 175h1.04v1.3h-1.04zM13 181h1.04v1.3h-1.04zM13 183h1.04v1.3h-1.04zM13 188h1.04v1.3h-1.04zM14 45h1.04v1.3h-1.04zM16 180h1.04v1.3h-1.04zM16 183h1.04v1.3h-1.04zM16 186h1.04v2.3h-1.04z"/><path fill="#e43c3c" d="M0 20h1.04v1.3h-1.04zM3 24h1.04v1.3h-1.04zM8 13h1.04v1.3h-1.04zM14 35h1.04v1.3h-1.04zM14 46h1.04v1.3h-1.04z"/><path fill="#a8de76" d="M0 22h1.04v1.3h-1.04zM0 27h1.04v1.3h-1.04zM0 42h1.04v2.3h-1.04zM0 45h1.04v2.3h-1.04zM0 48h1.04v1.3h-1.04zM0 53h1.04v1.3h-1.04zM0 55h1.04v1.3h-1.04zM0 57h1.04v1.3h-1.04zM0 59h1.04v1.3h-1.04zM0 62h1.04v3.3h-1.04zM0 68h1.04v2.3h-1.04zM0 80h1.04v2.3h-1.04zM0 84h1.04v2.3h-1.04zM0 94h1.04v1.3h-1.04zM0 99h1.04v4.3h-1.04zM0 105h1.04v1.3h-1.04zM0 130h1.04v1.3h-1.04zM0 134h1.04v1.3h-1.04zM0 152h1.04v1.3h-1.04zM0 157h1.04v1.3h-1.04zM1 129h1.04v1.3h-1.04zM1 132h1.04v1.3h-1.04zM2 49h1.04v1.3h-1.04zM2 55h1.04v1.3h-1.04zM2 65h1.04v1.3h-1.04zM2 74h1.04v1.3h-1.04zM2 84h1.04v1.3h-1.04zM2 86h1.04v1.3h-1.04zM2 88h1.04v1.3h-1.04zM2 103h1.04v1.3h-1.04zM2 105h1.04v1.3h-1.04zM2 107h1.04v1.3h-1.04zM2 123h1.04v1.3h-1.04zM2 138h1.04v1.3h-1.04zM2 159h1.04v2.3h-1.04zM2 168h1.04v1.3h-1.04zM3 33h1.04v2.3h-1.04zM3 46h1.04v1.3h-1.04zM3 48h1.04v1.3h-1.04zM3 51h1.04v1.3h-1.04zM3 109h1.04v1.3h-1.04zM3 121h1.04v1.3h-1.04zM3 152h1.04v1.3h-1.04zM3 154h1.04v1.3h-1.04zM3 156h1.04v1.3h-1.04zM3 175h1.04v1.3h-1.04zM4 22h1.04v1.3h-1.04zM4 27h1.04v1.3h-1.04zM4 120h1.04v1.3h-1.04zM4 150h1.04v1.3h-1.04zM5 34h1.04v1.3h-1.04zM5 40h1.04v1.3h-1.04zM5 42h1.04v1.3h-1.04zM5 115h1.04v1.3h-1.04zM5 125h1.04v2.3h-1.04zM5 146h1.04v1.3h-1.04zM5 162h1.04v1.3h-1.04zM5 178h1.04v1.3h-1.04zM6 48h1.04v4.3h-1.04zM6 53h1.04v1.3h-1.04zM6 68h1.04v1.3h-1.04zM6 70h1.04v1.3h-1.04zM6 74h1.04v1.3h-1.04zM6 81h1.04v1.3h-1.04zM6 85h1.04v1.3h-1.04zM6 87h1.04v1.3h-1.04zM6 100h1.04v1.3h-1.04zM6 104h1.04v1.3h-1.04zM6 131h1.04v1.3h-1.04zM7 6h1.04v1.3h-1.04zM7 13h1.04v2.3h-1.04zM7 46h1.04v1.3h-1.04zM7 60h1.04v1.3h-1.04zM7 80h1.04v1.3h-1.04zM7 95h1.04v1.3h-1.04zM7 120h1.04v1.3h-1.04zM7 128h1.04v2.3h-1.04zM7 153h1.04v1.3h-1.04zM8 1h1.04v1.3h-1.04zM8 6h1.04v1.3h-1.04zM8 8h1.04v1.3h-1.04zM8 15h1.04v1.3h-1.04zM8 21h1.04v1.3h-1.04zM8 24h1.04v1.3h-1.04zM8 33h1.04v2.3h-1.04zM8 50h1.04v1.3h-1.04zM8 54h1.04v1.3h-1.04zM8 60h1.04v1.3h-1.04zM8 63h1.04v1.3h-1.04zM8 67h1.04v1.3h-1.04zM8 72h1.04v1.3h-1.04zM8 75h1.04v1.3h-1.04zM8 78h1.04v1.3h-1.04zM8 83h1.04v1.3h-1.04zM8 90h1.04v1.3h-1.04zM8 92h1.04v1.3h-1.04zM8 96h1.04v1.3h-1.04zM8 98h1.04v1.3h-1.04zM8 100h1.04v2.3h-1.04zM8 104h1.04v1.3h-1.04zM8 152h1.04v1.3h-1.04zM9 0h1.04v1.3h-1.04zM9 23h1.04v1.3h-1.04zM9 91h1.04v1.3h-1.04zM9 149h1.04v1.3h-1.04zM9 153h1.04v1.3h-1.04zM10 90h1.04v1.3h-1.04zM10 146h1.04v1.3h-1.04zM10 185h1.04v1.3h-1.04zM11 34h1.04v2.3h-1.04zM11 38h1.04v1.3h-1.04zM11 40h1.04v3.3h-1.04zM11 50h1.04v1.3h-1.04zM11 69h1.04v1.3h-1.04zM11 94h1.04v1.3h-1.04zM11 119h1.04v1.3h-1.04zM12 85h1.04v1.3h-1.04zM12 173h1.04v1.3h-1.04zM13 0h1.04v1.3h-1.04zM13 47h1.04v1.3h-1.04zM14 5h1.04v2.3h-1.04zM14 9h1.04v1.3h-1.04zM14 14h1.04v1.3h-1.04zM14 16h1.04v1.3h-1.04zM14 21h1.04v1.3h-1.04zM14 49h1.04v3.3h-1.04zM14 56h1.04v1.3h-1.04zM14 78h1.04v1.3h-1.04zM14 107h1.04v1.3h-1.04zM14 147h1.04v1.3h-1.04zM14 181h1.04v1.3h-1.04zM15 3h1.04v2.3h-1.04zM15 10h1.04v1.3h-1.04zM15 17h1.04v2.3h-1.04zM15 25h1.04v1.3h-1.04zM15 27h1.04v1.3h-1.04zM15 31h1.04v1.3h-1.04zM15 35h1.04v1.3h-1.04zM15 42h1.04v2.3h-1.04zM15 47h1.04v1.3h-1.04zM15 73h1.04v1.3h-1.04zM15 76h1.04v1.3h-1.04zM15 98h1.04v1.3h-1.04zM15 129h1.04v1.3h-1.04zM15 147h1.04v1.3h-1.04zM15 166h1.04v1.3h-1.04zM16 0h1.04v2.3h-1.04zM16 5h1.04v3.3h-1.04zM16 13h1.04v1.3h-1.04zM16 27h1.04v1.3h-1.04zM16 32h1.04v1.3h-1.04zM16 34h1.04v1.3h-1.04zM16 36h1.04v1.3h-1.04zM16 38h1.04v1.3h-1.04zM16 40h1.04v1.3h-1.04zM16 47h1.04v1.3h-1.04zM16 50h1.04v1.3h-1.04zM16 130h1.04v1.3h-1.04zM17 90h1.04v1.3h-1.04zM17 95h1.04v2.3h-1.04zM17 102h1.04v1.3h-1.04zM17 105h1.04v1.3h-1.04zM17 108h1.04v1.3h-1.04zM17 110h1.04v1.3h-1.04zM17 114h1.04v1.3h-1.04zM17 116h1.04v3.3h-1.04zM17 128h1.04v1.3h-1.04zM17 130h1.04v2.3h-1.04zM17 139h1.04v1.3h-1.04zM17 144h1.04v1.3h-1.04zM17 160h1.04v1.3h-1.04zM17 163h1.04v1.3h-1.04zM17 165h1.04v3.3h-1.04z"/><path fill="#76cd2e" d="M0 58h1.04v1.3h-1.04zM0 66h1.04v1.3h-1.04zM0 71h1.04v7.3h-1.04zM0 79h1.04v1.3h-1.04zM0 83h1.04v1.3h-1.04zM0 86h1.04v2.3h-1.04zM0 89h1.04v5.3h-1.04zM0 95h1.04v4.3h-1.04zM0 103h1.04v2.3h-1.04zM0 107h1.04v8.3h-1.04zM0 116h1.04v8.3h-1.04zM0 126h1.04v3.3h-1.04zM0 131h1.04v3.3h-1.04zM0 135h1.04v17.3h-1.04zM0 153h1.04v4.3h-1.04zM1 83h1.04v46.3h-1.04zM1 130h1.04v2.3h-1.04zM1 133h1.04v3.3h-1.04zM1 137h1.04v5.3h-1.04zM1 143h1.04v12.3h-1.04zM1 156h1.04v8.3h-1.04zM1 165h1.04v6.3h-1.04zM2 51h1.04v1.3h-1.04zM2 54h1.04v1.3h-1.04zM2 56h1.04v9.3h-1.04zM2 66h1.04v2.3h-1.04zM2 69h1.04v5.3h-1.04zM2 75h1.04v9.3h-1.04zM2 87h1.04v1.3h-1.04zM2 89h1.04v6.3h-1.04zM2 96h1.04v5.3h-1.04zM2 102h1.04v1.3h-1.04zM2 106h1.04v1.3h-1.04zM2 108h1.04v15.3h-1.04zM2 125h1.04v13.3h-1.04zM2 139h1.04v20.3h-1.04zM2 161h1.04v7.3h-1.04zM3 6h1.04v5.3h-1.04zM3 12h1.04v3.3h-1.04zM3 110h1.04v11.3h-1.04zM3 122h1.04v7.3h-1.04zM3 130h1.04v22.3h-1.04zM3 153h1.04v1.3h-1.04zM3 155h1.04v1.3h-1.04zM3 159h1.04v10.3h-1.04zM3 170h1.04v5.3h-1.04zM3 176h1.04v10.3h-1.04zM3 187h1.04v3.3h-1.04zM4 5h1.04v2.3h-1.04zM4 10h1.04v12.3h-1.04zM4 23h1.04v4.3h-1.04zM4 28h1.04v23.3h-1.04zM4 53h1.04v43.3h-1.04zM4 97h1.04v23.3h-1.04zM4 121h1.04v7.3h-1.04zM4 129h1.04v21.3h-1.04zM4 151h1.04v2.3h-1.04zM5 31h1.04v3.3h-1.04zM5 43h1.04v4.3h-1.04zM5 48h1.04v16.3h-1.04zM5 65h1.04v13.3h-1.04zM5 79h1.04v28.3h-1.04zM5 108h1.04v7.3h-1.04zM5 117h1.04v8.3h-1.04zM5 127h1.04v19.3h-1.04zM5 147h1.04v9.3h-1.04zM5 157h1.04v3.3h-1.04zM5 161h1.04v1.3h-1.04zM5 163h1.04v11.3h-1.04zM5 175h1.04v3.3h-1.04zM5 179h1.04v8.3h-1.04zM6 55h1.04v2.3h-1.04zM6 66h1.04v2.3h-1.04zM6 69h1.04v1.3h-1.04zM6 86h1.04v1.3h-1.04zM6 89h1.04v11.3h-1.04zM6 101h1.04v3.3h-1.04zM6 105h1.04v26.3h-1.04zM6 132h1.04v38.3h-1.04zM7 39h1.04v1.3h-1.04zM7 41h1.04v5.3h-1.04zM7 47h1.04v13.3h-1.04zM7 61h1.04v2.3h-1.04zM7 64h1.04v2.3h-1.04zM7 67h1.04v13.3h-1.04zM7 81h1.04v14.3h-1.04zM7 96h1.04v8.3h-1.04zM7 105h1.04v11.3h-1.04zM7 117h1.04v3.3h-1.04zM7 121h1.04v2.3h-1.04zM7 125h1.04v3.3h-1.04zM7 130h1.04v23.3h-1.04zM7 154h1.04v1.3h-1.04zM8 44h1.04v1.3h-1.04zM8 48h1.04v1.3h-1.04zM8 52h1.04v2.3h-1.04zM8 66h1.04v1.3h-1.04zM8 95h1.04v1.3h-1.04zM8 97h1.04v1.3h-1.04zM8 102h1.04v2.3h-1.04zM8 105h1.04v2.3h-1.04zM8 109h1.04v8.3h-1.04zM8 118h1.04v16.3h-1.04zM8 135h1.04v17.3h-1.04zM8 153h1.04v5.3h-1.04zM8 159h1.04v29.3h-1.04zM9 1h1.04v12.3h-1.04zM9 14h1.04v9.3h-1.04zM9 25h1.04v12.3h-1.04zM9 43h1.04v4.3h-1.04zM9 48h1.04v15.3h-1.04zM9 64h1.04v5.3h-1.04zM9 70h1.04v4.3h-1.04zM9 75h1.04v16.3h-1.04zM9 92h1.04v2.3h-1.04zM9 95h1.04v18.3h-1.04zM9 114h1.04v16.3h-1.04zM9 131h1.04v14.3h-1.04zM9 146h1.04v3.3h-1.04zM9 150h1.04v3.3h-1.04zM9 154h1.04v11.3h-1.04zM10 89h1.04v1.3h-1.04zM10 91h1.04v8.3h-1.04zM10 100h1.04v46.3h-1.04zM10 147h1.04v10.3h-1.04zM10 158h1.04v2.3h-1.04zM10 161h1.04v24.3h-1.04zM10 186h1.04v2.3h-1.04zM11 37h1.04v1.3h-1.04zM11 43h1.04v7.3h-1.04zM11 51h1.04v18.3h-1.04zM11 70h1.04v13.3h-1.04zM11 85h1.04v4.3h-1.04zM11 90h1.04v4.3h-1.04zM11 95h1.04v23.3h-1.04zM11 120h1.04v12.3h-1.04zM11 133h1.04v6.3h-1.04zM11 140h1.04v28.3h-1.04zM12 53h1.04v15.3h-1.04zM12 70h1.04v4.3h-1.04zM12 75h1.04v10.3h-1.04zM12 86h1.04v3.3h-1.04zM12 90h1.04v2.3h-1.04zM12 93h1.04v21.3h-1.04zM12 115h1.04v6.3h-1.04zM12 122h1.04v8.3h-1.04zM12 131h1.04v31.3h-1.04zM12 163h1.04v10.3h-1.04zM12 174h1.04v6.3h-1.04zM13 5h1.04v20.3h-1.04zM13 26h1.04v17.3h-1.04zM13 44h1.04v3.3h-1.04zM13 48h1.04v4.3h-1.04zM13 54h1.04v22.3h-1.04zM13 110h1.04v27.3h-1.04zM13 138h1.04v2.3h-1.04zM14 57h1.04v11.3h-1.04zM14 69h1.04v9.3h-1.04zM14 79h1.04v6.3h-1.04zM14 86h1.04v16.3h-1.04zM14 103h1.04v4.3h-1.04zM14 108h1.04v30.3h-1.04zM14 139h1.04v1.3h-1.04zM14 141h1.04v6.3h-1.04zM14 148h1.04v3.3h-1.04zM14 152h1.04v29.3h-1.04zM14 182h1.04v5.3h-1.04zM15 14h1.04v1.3h-1.04zM15 20h1.04v1.3h-1.04zM15 51h1.04v22.3h-1.04zM15 74h1.04v2.3h-1.04zM15 77h1.04v12.3h-1.04zM15 90h1.04v3.3h-1.04zM15 94h1.04v4.3h-1.04zM15 99h1.04v24.3h-1.04zM15 125h1.04v4.3h-1.04zM15 130h1.04v17.3h-1.04zM15 148h1.04v11.3h-1.04zM15 160h1.04v6.3h-1.04zM15 167h1.04v23.3h-1.04zM16 8h1.04v1.3h-1.04zM16 11h1.04v1.3h-1.04zM16 14h1.04v1.3h-1.04zM16 19h1.04v2.3h-1.04zM16 26h1.04v1.3h-1.04zM16 35h1.04v1.3h-1.04zM16 54h1.04v9.3h-1.04zM16 64h1.04v16.3h-1.04zM16 96h1.04v7.3h-1.04zM16 104h1.04v12.3h-1.04zM16 117h1.04v3.3h-1.04zM16 121h1.04v9.3h-1.04zM16 131h1.04v9.3h-1.04zM16 141h1.04v6.3h-1.04zM16 148h1.04v10.3h-1.04zM16 159h1.04v15.3h-1.04zM16 175h1.04v2.3h-1.04zM17 89h1.04v1.3h-1.04zM17 91h1.04v4.3h-1.04zM17 97h1.04v5.3h-1.04zM17 104h1.04v1.3h-1.04zM17 106h1.04v2.3h-1.04zM17 109h1.04v1.3h-1.04zM17 111h1.04v3.3h-1.04zM17 115h1.04v1.3h-1.04zM17 119h1.04v3.3h-1.04zM17 123h1.04v5.3h-1.04zM17 129h1.04v1.3h-1.04zM17 133h1.04v4.3h-1.04zM17 138h1.04v1.3h-1.04zM17 140h1.04v3.3h-1.04zM17 145h1.04v2.3h-1.04zM17 148h1.04v7.3h-1.04zM17 156h1.04v3.3h-1.04zM17 161h1.04v2.3h-1.04zM17 164h1.04v1.3h-1.04z"/><path fill="#86d446" d="M0 115h1.04v1.3h-1.04zM0 124h1.04v2.3h-1.04zM0 129h1.04v1.3h-1.04zM1 136h1.04v1.3h-1.04zM1 142h1.04v1.3h-1.04zM1 155h1.04v1.3h-1.04zM1 164h1.04v1.3h-1.04zM2 124h1.04v1.3h-1.04zM3 11h1.04v1.3h-1.04zM3 129h1.04v1.3h-1.04zM3 169h1.04v1.3h-1.04zM3 186h1.04v1.3h-1.04zM4 7h1.04v3.3h-1.04zM4 51h1.04v2.3h-1.04zM4 96h1.04v1.3h-1.04zM4 128h1.04v1.3h-1.04zM5 47h1.04v1.3h-1.04zM5 64h1.04v1.3h-1.04zM5 78h1.04v1.3h-1.04zM5 107h1.04v1.3h-1.04zM5 116h1.04v1.3h-1.04zM5 156h1.04v1.3h-1.04zM5 160h1.04v1.3h-1.04zM5 174h1.04v1.3h-1.04zM5 187h1.04v1.3h-1.04zM8 117h1.04v1.3h-1.04zM8 134h1.04v1.3h-1.04zM8 158h1.04v1.3h-1.04zM9 13h1.04v1.3h-1.04zM9 24h1.04v1.3h-1.04zM9 47h1.04v1.3h-1.04zM9 63h1.04v1.3h-1.04zM9 69h1.04v1.3h-1.04zM9 74h1.04v1.3h-1.04zM9 94h1.04v1.3h-1.04zM9 113h1.04v1.3h-1.04zM9 130h1.04v1.3h-1.04zM9 145h1.04v1.3h-1.04zM10 99h1.04v1.3h-1.04zM10 157h1.04v1.3h-1.04zM10 160h1.04v1.3h-1.04zM11 89h1.04v1.3h-1.04zM11 118h1.04v1.3h-1.04zM11 132h1.04v1.3h-1.04zM11 139h1.04v1.3h-1.04zM12 68h1.04v2.3h-1.04zM12 74h1.04v1.3h-1.04zM12 89h1.04v1.3h-1.04zM12 92h1.04v1.3h-1.04zM12 114h1.04v1.3h-1.04zM12 121h1.04v1.3h-1.04zM12 130h1.04v1.3h-1.04zM12 162h1.04v1.3h-1.04zM13 25h1.04v1.3h-1.04zM13 43h1.04v1.3h-1.04zM13 137h1.04v1.3h-1.04zM14 68h1.04v1.3h-1.04zM14 85h1.04v1.3h-1.04zM14 102h1.04v1.3h-1.04zM14 138h1.04v1.3h-1.04zM14 140h1.04v1.3h-1.04zM14 151h1.04v1.3h-1.04zM15 89h1.04v1.3h-1.04zM15 93h1.04v1.3h-1.04zM15 123h1.04v2.3h-1.04zM15 159h1.04v1.3h-1.04zM16 63h1.04v1.3h-1.04zM16 103h1.04v1.3h-1.04zM16 116h1.04v1.3h-1.04zM16 120h1.04v1.3h-1.04zM16 140h1.04v1.3h-1.04zM16 147h1.04v1.3h-1.04zM16 158h1.04v1.3h-1.04zM16 174h1.04v1.3h-1.04zM16 177h1.04v1.3h-1.04z"/><path fill="#ec4646" d="M1 10h1.04v1.3h-1.04zM1 37h1.04v1.3h-1.04zM3 69h1.04v1.3h-1.04zM5 13h1.04v1.3h-1.04zM7 22h1.04v1.3h-1.04zM9 37h1.04v1.3h-1.04zM9 40h1.04v2.3h-1.04zM12 185h1.04v1.3h-1.04zM13 77h1.04v1.3h-1.04zM13 88h1.04v1.3h-1.04zM13 92h1.04v1.3h-1.04zM13 107h1.04v1.3h-1.04zM14 189h1.04v1.3h-1.04z"/><path fill="#d2141c" d="M1 26h1.04v2.3h-1.04zM1 30h1.04v1.3h-1.04zM1 36h1.04v1.3h-1.04zM12 180h1.04v1.3h-1.04zM13 100h1.04v1.3h-1.04zM13 104h1.04v1.3h-1.04z"/><path fill="#96aa3c" d="M7 40h1.04v1.3h-1.04zM7 63h1.04v1.3h-1.04zM7 66h1.04v1.3h-1.04zM7 104h1.04v1.3h-1.04zM7 116h1.04v1.3h-1.04zM7 123h1.04v2.3h-1.04z"/></svg>
<rect x="63.50" y="80.80" width="7.77" height="1.50" fill="#d2eeb6" />
<rect x="71.22" y="80.80" width="7.77" height="1.50" fill="#f8f8f0" />
<rect x="78.93" y="80.80" width="7.77" height="1.50" fill="#ea7e7a" />
<rect x="86.65" y="80.80" width="7.77" height="1.50" fill="#e6191e" />
<rect x="94.37" y="80.80" width="7.77" height="1.50" fill="#d2eeb6" />
<rect x="102.08" y="80.80" width="7.77" height="1.50" fill="#f4cac6" />
<rect x="109.80" y="80.80" width="7.77" height="1.50" fill="#eea6a2" />
<rect x="117.52" y="80.80" width="7.77" height="1.50" fill="#e6191e" />
<rect x="125.23" y="80.80" width="7.77" height="1.50" fill="#f4cac6" />
<rect x="132.95" y="80.80" width="7.77" height="1.50" fill="#a8de76" />
<rect x="140.67" y="80.80" width="7.77" height="1.50" fill="#a8de76" />
<rect x="148.38" y="80.80" width="7.77" height="1.50" fill="#cd7369" />
<rect x="156.10" y="80.80" width="7.77" height="1.50" fill="#d2eeb6" />
<rect x="163.82" y="80.80" width="7.77" height="1.50" fill="#d2eeb6" />
<rect x="171.53" y="80.80" width="7.77" height="1.50" fill="#f4cac6" />
<rect x="179.25" y="80.80" width="7.77" height="1.50" fill="#f4cac6" />
<rect x="186.97" y="80.80" width="7.77" height="1.50" fill="#f4cac6" />
<rect x="194.68" y="80.80" width="7.77" height="1.50" fill="#d2645f" />
<rect x="35.6" y="224.4" width="168.6" height="29.6" fill="none" stroke="#555" stroke-width="0.8" opacity="0.85"/>
<text x="208.20" y="242.00" font-size="6.8" fill="#2a2a2a" text-anchor="start" font-weight="normal"  textLength="12.2" lengthAdjust="spacingAndGlyphs">CRA</text>
<text transform="translate(69.26,314.8) rotate(-90)" font-size="5.5" fill="#222" font-weight="bold" text-anchor="end" textLength="12.0" lengthAdjust="spacingAndGlyphs">4414</text>
<text transform="translate(76.98,314.8) rotate(-90)" font-size="5.5" fill="#222" font-weight="bold" text-anchor="end" textLength="12.0" lengthAdjust="spacingAndGlyphs">5898</text>
<text transform="translate(84.69,314.8) rotate(-90)" font-size="5.5" fill="#222" font-weight="bold" text-anchor="end" textLength="12.0" lengthAdjust="spacingAndGlyphs">6111</text>
<text transform="translate(92.41,314.8) rotate(-90)" font-size="5.5" fill="#222" font-weight="bold" text-anchor="end" textLength="12.0" lengthAdjust="spacingAndGlyphs">6873</text>
<text transform="translate(100.12,314.8) rotate(-90)" font-size="5.5" fill="#222" font-weight="bold" text-anchor="end" textLength="12.0" lengthAdjust="spacingAndGlyphs">6996</text>
<text transform="translate(107.84,314.8) rotate(-90)" font-size="5.5" fill="#222" font-weight="bold" text-anchor="end" textLength="12.0" lengthAdjust="spacingAndGlyphs">7045</text>
<text transform="translate(115.56,314.8) rotate(-90)" font-size="5.5" fill="#222" font-weight="bold" text-anchor="end" textLength="12.0" lengthAdjust="spacingAndGlyphs">7093</text>
<text transform="translate(123.28,314.8) rotate(-90)" font-size="5.5" fill="#222" font-weight="bold" text-anchor="end" textLength="12.0" lengthAdjust="spacingAndGlyphs">7255</text>
<text transform="translate(130.99,314.8) rotate(-90)" font-size="5.5" fill="#222" font-weight="bold" text-anchor="end" textLength="12.0" lengthAdjust="spacingAndGlyphs">7583</text>
<text transform="translate(138.71,314.8) rotate(-90)" font-size="5.5" fill="#222" font-weight="bold" text-anchor="end" textLength="12.0" lengthAdjust="spacingAndGlyphs">7619</text>
<text transform="translate(146.43,314.8) rotate(-90)" font-size="5.5" fill="#222" font-weight="bold" text-anchor="end" textLength="12.0" lengthAdjust="spacingAndGlyphs">7732</text>
<text transform="translate(154.14,314.8) rotate(-90)" font-size="5.5" fill="#222" font-weight="bold" text-anchor="end" textLength="12.0" lengthAdjust="spacingAndGlyphs">7828</text>
<text transform="translate(161.86,314.8) rotate(-90)" font-size="5.5" fill="#222" font-weight="bold" text-anchor="end" textLength="12.0" lengthAdjust="spacingAndGlyphs">8743</text>
<text transform="translate(169.58,314.8) rotate(-90)" font-size="5.5" fill="#222" font-weight="bold" text-anchor="end" textLength="12.0" lengthAdjust="spacingAndGlyphs">8983</text>
<text transform="translate(177.29,314.8) rotate(-90)" font-size="5.5" fill="#222" font-weight="bold" text-anchor="end" textLength="12.0" lengthAdjust="spacingAndGlyphs">9028</text>
<text transform="translate(185.01,314.8) rotate(-90)" font-size="5.5" fill="#222" font-weight="bold" text-anchor="end" textLength="12.0" lengthAdjust="spacingAndGlyphs">9864</text>
<text transform="translate(192.72,314.8) rotate(-90)" font-size="5.5" fill="#222" font-weight="bold" text-anchor="end" textLength="13.8" lengthAdjust="spacingAndGlyphs">11706</text>
<text transform="translate(200.44,314.8) rotate(-90)" font-size="5.5" fill="#222" font-weight="bold" text-anchor="end" textLength="16.3" lengthAdjust="spacingAndGlyphs">4279(R)</text>
<rect x="199.10" y="349.00" width="7.60" height="3.50" fill="#c8101c" />
<rect x="210.30" y="349.00" width="7.80" height="3.40" fill="#84e43c" />
<text x="195.40" y="357.40" font-size="4.8" fill="#222" text-anchor="start" font-weight="bold"  textLength="6.2" lengthAdjust="spacingAndGlyphs">del</text>
<text x="216.00" y="357.40" font-size="4.8" fill="#222" text-anchor="start" font-weight="bold"  textLength="8.5" lengthAdjust="spacingAndGlyphs">gain</text>
<text x="246.00" y="9.80" font-size="12.9" fill="#111" text-anchor="start" font-weight="bold" >B</text>
<line x1="279.5" y1="26.10" x2="480" y2="26.10" stroke="#e6e6e6" stroke-width="0.6"/>
<line x1="279.5" y1="39.10" x2="480" y2="39.10" stroke="#e6e6e6" stroke-width="0.6"/>
<line x1="279.5" y1="53.00" x2="480" y2="53.00" stroke="#e6e6e6" stroke-width="0.6"/>
<text transform="translate(269.60,39.20) rotate(-90)" font-size="4.7" fill="#222" text-anchor="middle">log2 ratio</text>
<text x="274.0" y="28.20" font-size="5.9" fill="#222" text-anchor="middle">2</text>
<text x="274.0" y="41.20" font-size="5.9" fill="#222" text-anchor="middle">0</text>
<text x="274.0" y="55.10" font-size="5.9" fill="#222" text-anchor="middle">-2</text>
<text x="493.60" y="38.90" font-size="6.4" fill="#333" text-anchor="start" font-weight="normal"  textLength="12.7" lengthAdjust="spacingAndGlyphs">9864</text>
<line x1="279.5" y1="78.50" x2="480" y2="78.50" stroke="#e6e6e6" stroke-width="0.6"/>
<line x1="279.5" y1="91.20" x2="480" y2="91.20" stroke="#e6e6e6" stroke-width="0.6"/>
<line x1="279.5" y1="105.50" x2="480" y2="105.50" stroke="#e6e6e6" stroke-width="0.6"/>
<text transform="translate(269.60,91.60) rotate(-90)" font-size="4.7" fill="#222" text-anchor="middle">log2 ratio</text>
<text x="274.0" y="80.60" font-size="5.9" fill="#222" text-anchor="middle">2</text>
<text x="274.0" y="93.30" font-size="5.9" fill="#222" text-anchor="middle">0</text>
<text x="274.0" y="107.60" font-size="5.9" fill="#222" text-anchor="middle">-2</text>
<text x="493.60" y="91.30" font-size="6.4" fill="#333" text-anchor="start" font-weight="normal"  textLength="12.7" lengthAdjust="spacingAndGlyphs">7583</text>
<line x1="279.5" y1="132.20" x2="480" y2="132.20" stroke="#e6e6e6" stroke-width="0.6"/>
<line x1="279.5" y1="145.60" x2="480" y2="145.60" stroke="#e6e6e6" stroke-width="0.6"/>
<line x1="279.5" y1="159.80" x2="480" y2="159.80" stroke="#e6e6e6" stroke-width="0.6"/>
<text transform="translate(269.60,146.40) rotate(-90)" font-size="4.7" fill="#222" text-anchor="middle">log2 ratio</text>
<text x="274.0" y="134.30" font-size="5.9" fill="#222" text-anchor="middle">2</text>
<text x="274.0" y="147.70" font-size="5.9" fill="#222" text-anchor="middle">0</text>
<text x="274.0" y="161.90" font-size="5.9" fill="#222" text-anchor="middle">-2</text>
<text x="493.60" y="146.10" font-size="6.4" fill="#333" text-anchor="start" font-weight="normal"  textLength="12.7" lengthAdjust="spacingAndGlyphs">8983</text>
<path transform="scale(0.1)" stroke="#1a1a1a" stroke-width="9" fill="none" d="M2824 909h9m-9 24h9m-8-60h9m-9 20h9m-8 20h9m-9-509h9m-9-51h9m-8 23h9m-9 30h9m-9 551h9m-9 3h9m-9-90h9m-8-481h9m-9-40h9m-9-10h9m-9 563h9m-9-539h9m-9 551h9m-9 505h9m-9 24h9m-8-1045h9m-9 517h9m-9 513h9m-9-542h9m-9-24h9m-9 59h9m-9 542h9m-8-38h9m-9-538h9m-9 7h9m-9 519h9m-9-1079h9m-9 1093h9m-9-1064h9m-8 1069h9m-9-1027h9m-9 514h9m-9 0h9m-9 550h9m-9-576h9m-9 28h9m-8-516h9m-9-37h9m-9 538h9m-9 35h9m-9-627h9m-9 630h9m-9 507h9m-8-1069h9m-9 1032h9m-9-1056h9m-9 1087h9m-9-16h9m-9 28h9m-9-32h9m-9-1071h9m-9 516h9m-9 45h9m-9-541h9m-8 503h9m-9 13h9m-9 55h9m-9-35h9m-9-548h9m-9 1074h9m-9-521h9m-9 539h9m-8-1100h9m-9 1081h9m-9 20h9m-9-545h9m-9 51h9m-9-597h9m-9 1062h9m-9 17h9m-9 4h9m-9-1047h9m-8 0h9m-9 1023h9m-9-540h9m-9 560h9m-9-20h9m-9-1074h9m-8 27h9m-9 544h9m-9 531h9m-9-1102h9m-9 34h9m-9 1056h9m-8-1073h9m-9 1060h9m-9-1081h9m-9 541h9m-9 11h9m-9 531h9m-8-4h9m-9 29h9m-9-14h9m-9-1072h9m-9-7h9m-9-23h9m-9 1085h9m-9-516h9m-9 554h9m-8-548h9m-9 492h9m-9-1031h9m-9 1091h9m-9-66h9m-9-486h9m-8 497h9m-9-559h9m-9-523h9m-9 58h9m-8-30h9m-9 1103h9m-9-20h9m-9-527h9m-9-30h9m-8 20h9m-9 532h9m-9-25h9m-9-1036h9m-9-38h9m-9 546h9m-8-495h9m-9 1026h9m-9-532h9m-8-485h9m-9 503h9m-9-534h9m-9 1093h9m-9-1088h9m-9 1071h9m-9-534h9m-9-562h9m-9 1092h9m-8 18h9m-9-45h9m-9-1048h9m-9 570h9m-9-589h9m-9 1064h9m-9-527h9m-9-525h9m-9 1112h9m-9-10h9m-9-556h9m-8 555h9m-9-577h9m-9 597h9m-8-20h9m-9-2h9m-9-554h9m-9-21h9m-9-503h9m-9 1057h9m-9 11h9m-9 2h9m-8-510h9m-9-48h9m-9-548h9m-9 23h9m-9 615h9m-9 472h9m-8-602h9m-9 577h9m-9-1074h9m-9 1091h9m-9-528h9m-9-12h9m-8-9h9m-9-511h9m-9 1049h9m-9-532h9m-8-485h9m-9 1021h9m-9-1064h9m-9 3h9m-8 1060h9m-9-1055h9m-9 1073h9m-8-1127h9m-8 629h9m-9 503h9m-9-25h9m-8-1073h9m-9 589h9m-9-21h9m-9-50h9m-9-510h9m-9 1088h9m-9-580h9m-8-462h9m-9 506h9m-9 8h9m-9 510h9m-9-1069h9m-9 513h9m-9 8h9m-9-513h9m-9 1058h9m-9-1076h9m-9-1h9m-8 14h9m-9 5h9m-9 521h9m-9 564h9m-8-1080h9m-9 523h9m-8-530h9m-9 545h9m-9 544h9m-9-1105h9m-8 1081h9m-9-548h9m-9 17h9m-9 565h9m-9-66h9m-9-470h9m-8-32h9m-9 539h9m-9-20h9m-9-494h9m-8-53h9m-9 25h9m-9 506h9m-9-522h9m-9-522h9m-9-14h9m-8 540h9m-9-525h9m-9 543h9m-9-587h9m-9 1142h9m-8-1097h9m-9 15h9m-9 530h9m-8-32h9m-9 552h9m-9-1046h9m-9-32h9m-9-40h9m-9 601h9m-8-567h9m-9 1108h9m-9-1064h9m-9 3h9m-9 503h9m-9-538h9m-8 1067h9m-9 34h9m-9-4h9m-9-607h9m-9 567h9m-9-540h9m-9-543h9m-9 54h9m-9-48h9m-9 553h9m-8 539h9m-9-1047h9m-9 1030h9m-9 43h9m-8-534h9m-9-51h9m-9-517h9m-9 537h9m-9 563h9m-8-1074h9m-9-11h9m-9-5h9m-9 1099h9m-9-1102h9m-9-5h9m-9 589h9m-9-118h9m-8-458h9m-9-19h9m-9 34h9m-9 554h9m-8 488h9m-9 27h9m-9-1068h9m-9 537h9m-9-564h9m-9 1101h9m-9-1106h9m-9 33h9m-9 518h9m-9 33h9m-8-60h9m-9-515h9m-9 21h9m-9 1056h9m-9-565h9m-8 572h9m-9-61h9m-9 49h9m-9-17h9m-9-497h9m-8-542h9m-9 1057h9m-9-538h9m-9-563h9m-9 571h9m-9-44h9m-9 46h9m-9 499h9m-9-476h9m-9-590h9m-8-3h9m-9 1140h9m-9-1101h9m-9 1065h9m-9-1107h9m-8 65h9m-9 555h9m-9-571h9m-9 524h9m-9 3h9m-9 552h9m-9-1112h9m-9 1087h9m-9-7h9m-9-522h9m-8 573h9m-9-16h9m-9-542h9m-9-579h9m-8 28h9m-9 533h9m-9-518h9m-9 553h9m-8-554h9m-9-8h9m-9 1058h9m-9-1070h9m-9-3h9m-9 1044h9m-9 60h9m-8-14h9m-9-570h9m-9 20h9m-9-536h9m-9 1048h9m-9-514h9m-9-481h9m-9 1019h9m-8-579h9m-9-488h9m-9 1076h9m-9-1079h9m-8 1059h9m-9-543h9m-9 579h9m-9-92h9m-9-1003h9m-9 1063h9m-9-559h9m-9 38h9m-9 545h9m-9-5h9m-9-1110h9m-8 1076h9m-9-1051h9m-9 546h9m-9 526h9m-9 23h9m-9-35h9m-9-525h9m-9-4h9m-8 507h9m-9-548h9m-9 62h9m-9-16h9m-9 524h9m-9 10h9m-9-1064h9m-9 1076h9m-8-1062h9m-9 1052h9m-9-550h9m-9 571h9m-9-41h9m-8-1057h9m-9 567h9m-9-581h9m-9 51h9m-9 1075h9m-9-563h9m-9-560h9m-9 563h9m-9 7h9m-8-19h9m-9 5h9m-9-513h9m-9 1064h9m-9-6h9m-9-528h9m-8-585h9m-9 21h9m-9 553h9m-9-10h9m-9-483h9m-9 1016h9m-9 34h9m-8-52h9m-9 41h9m-9-1077h9m-9 512h9m-9-489h9m-9-92h9m-8 579h9m-9-534h9m-9 1060h9m-9-528h9m-9 21h9m-9 496h9m-9-502h9m-9-557h9m-9 1095h9m-9-543h9m-8 5h9m-9-28h9m-9 6h9m-9 37h9m-9 533h9m-9-17h9m-9 63h9m-8-1089h9m-9 545h9m-9-581h9m-9 539h9m-8 539h9m-9-1085h9m-9 1089h9m-9-22h9m-9 4h9m-9-1076h9m-9 567h9m-8-588h9m-9 1086h9m-9 16h9m-9-21h9m-9-10h9m-9-491h9m-9-574h9m-9 51h9m-9 500h9m-8 10h9m-9-571h9m-9 55h9m-9 501h9m-8-526h9m-9-15h9m-9 37h9m-9 5h9m-9 557h9m-9 414h9m-9-1004h9m-9 1070h9m-8-1069h9m-9 567h9m-9-37h9m-9 534h9m-9 3h9m-9-1055h9m-9 524h9m-9-557h9m-9 1106h9m-9-1052h9m-9-24h9m-8 1062h9m-9-31h9m-9-513h9m-9 42h9m-9-21h9m-9 519h9m-8-502h9m-9 15h9m-9-574h9m-8 531h9m-9 538h9m-9-567h9m-9 54h9m-9 514h9m-8-17h9m-9-1079h9m-9 548h9m-9 539h9m-9-549h9m-9 547h9m-9-579h9m-9 601h9m-9-575h9m-9-484h9m-9 1025h9m-9-1016h9m-8 477h9m-9 573h9m-9-574h9m-9 25h9m-9 527h9m-9-1089h9m-8 566h9m-9-585h9m-9 33h9m-9 1084h9m-9-12h9m-9-504h9m-9-558h9m-9 533h9m-9 2h9m-9 594h9m-8-528h9m-9-69h9m-9-526h9m-9 1091h9m-9-1108h9m-9 550h9m-9 55h9m-9 460h9m-9 25h9m-9-1063h9m-8-11h9m-9-39h9m-9 31h9m-9 564h9m-9-566h9m-9 42h9m-9 512h9m-9 10h9m-9 553h9m-8-589h9m-9 543h9m-9-1116h9m-9 37h9m-9 1066h9m-9-1062h9m-8 539h9m-9 562h9m-9-18h9m-9-1110h9m-9 1110h9m-9-1070h9m-8 16h9m-9 1044h9m-9-507h9m-9-5h9m-9-554h9m-8 539h9m-9 552h9m-9-531h9m-9 521h9m-9-509h9m-9 472h9m-9-558h9m-9-500h9m-9 537h9m-9 34h9m-8-23h9m-9 547h9m-9-493h9m-9-567h9m-9 1072h9m-9-563h9m-9-16h9m-9 570h9m-9-521h9m-9 18h9m-8-7h9m-9 509h9m-9-1083h9m-9-1h9m-9 542h9m-9-30h9m-9 558h9m-9 52h9m-8-21h9m-9-1038h9m-9 535h9m-9-603h9m-9 12h9m-9 569h9m-8-40h9m-9-513h9m-9 15h9m-9 1026h9m-9-1072h9m-9 1125h9m-9 3h9m-9-1106h9m-9 1039h9m-8 18h9m-9-1042h9m-9 517h9m-9 6h9m-9 42h9m-9-634h9m-9 1104h9m-9-1040h9m-8 1049h9m-9 23h9m-9-562h9m-8-488h9m-9-65h9m-9 1154h9m-9-1111h9m-9 521h9m-9-18h9m-8-32h9m-9 576h9m-9-1109h9m-9 1118h9m-9-517h9m-8-514h9m-9-38h9m-9 55h9m-9 1007h9m-8 32h9m-9-530h9m-9-32h9m-9-534h9m-9 0h9m-9-5h9m-8 1092h9m-9-1054h9m-9-22h9m-9 546h9m-9-600h9m-8 598h9m-9 478h9m-9-1015h9m-9 1043h9m-9-554h9m-9-511h9m-9 1069h9m-8-1080h9m-9 532h9m-9-467h9m-8 1021h9m-9-1070h9m-9 559h9m-9-11h9m-9-541h9m-9 1043h9m-8-1038h9m-9-18h9m-9 557h9m-9-16h9m-9-533h9m-9 535h9m-9-505h9m-9-56h9m-9 561h9m-9-537h9m-9 511h9m-8 549h9m-9-12h9m-9-509h9m-9 546h9m-9-547h9m-9 20h9m-9 19h9m-9 517h9m-9-580h9m-9-521h9m-8 555h9m-9 505h9m-9-1039h9m-9 1042h9m-8 25h9m-9 10h9m-9-537h9m-9 538h9m-9-565h9m-9-499h9m-9-27h9m-8-10h9m-9 1085h9m-9-12h9m-9 13h9m-9-544h9m-9 540h9m-9-566h9m-9-466h9m-9-50h9m-9-46h9m-8 589h9m-9 1h9m-9 517h9m-9-531h9m-9 31h9m-9 476h9m-9-492h9m-8 5h9m-9-572h9m-9 574h9m-9-551h9m-8-10h9m-9 41h9m-9-21h9m-9 1016h9m-9-1002h9m-9 487h9m-9 13h9m-9-520h9m-9 37h9m-8 489h9m-9 502h9m-9 13h9m-9-487h9m-9 500h9m-9-35h9m-9 21h9m-8-505h9m-9 485h9m-9 25h9m-9-452h9m-9-546h9m-9-30h9m-9 502h9m-9-511h9m-8 530h9m-9-533h9m-9-31h9m-9 1053h9m-9 13h9m-8-492h9m-9 511h9m-9-1013h9m-9 983h9m-9-1015h9m-9-2h9m-9-39h9m-9 1064h9m-9-497h9m-8-531h9m-9-16h9m-9 570h9m-9-564h9m-8 1022h9m-9-1021h9m-9 4h9m-9 1h9m-9 542h9m-9-533h9m-9-16h9m-8 1026h9m-9 20h9m-9-12h9m-9-513h9m-9 91h9m-9-641h9m-9 26h9m-9 1048h9m-9-8h9m-9 35h9m-8-506h9m-9 13h9m-9 468h9m-9-493h9m-9-29h9m-9-502h9m-9 520h9m-8-567h9m-9 1071h9m-9-44h9m-9 18h9m-9-471h9m-9-550h9m-9 17h9m-9 532h9m-9-533h9m-9 51h9m-8 477h9m-9-7h9m-9-9h9m-9 8h9m-8-494h9m-9 1002h9m-9-18h9m-9-488h9m-9 496h9m-9-506h9m-9-6h9m-9 42h9m-9-569h9m-9 552h9m-9 490h9m-8-1019h9m-9-53h9m-9 34h9m-9 1039h9m-9 3h9m-8 23h9m-9-581h9m-9 525h9m-9-508h9m-8-455h9m-9-44h9m-9 562h9m-9-61h9m-9 531h9m-8 12h9m-9 3h9m-9-511h9m-9-518h9m-9 1022h9m-9-529h9m-9-527h9m-8 34h9m-9 3h9m-9 1042h9m-9-1022h9m-9 1019h9m-9-1086h9m-9 1056h9m-9 5h9m-9-568h9m-8 91h9m-9-561h9m-9 532h9m-9-483h9m-9-52h9m-9 550h9m-9-4h9m-9 512h9m-9-30h9m-9 52h9m-8-52h9m-9-487h9m-9-579h9m-9 550h9m-8 541h9m-9-490h9m-9 10h9m-9-536h9m-9 1010h9m-9-483h9m-9 486h9m-9-11h9m-8-485h9m-9 471h9m-9 33h9m-9-28h9m-9-1033h9m-8 21h9m-9 483h9m-9 525h9m-9 28h9m-9-501h9m-8-508h9m-9 521h9m-9 502h9m-9-550h9m-8 55h9m-9-606h9m-9 577h9m-9-537h9m-9 515h9m-9 36h9m-9-4h9m-8-8h9m-9 516h9m-9-5h9m-9 12h9m-9-46h9m-9-1022h9m-9 558h9m-9 10h9m-9-15h9m-8-26h9m-9 11h9m-8 49h9m-9 10h9m-9 418h9m-9 35h9m-9-1040h9m-9 1045h9m-8-1009h9m-9 1020h9m-9 0h9m-9-24h9m-9-497h9m-9-559h9m-8 67h9m-9-50h9m-9 19h9m-9 1025h9m-9-489h9m-8-526h9m-9-18h9m-8 1046h9m-9-28h9m-9 16h9m-9-1064h9m-9 1081h9m-9-8h9m-9 9h9m-9-9h9m-8-462h9m-9 451h9m-9-514h9m-9 518h9m-9-509h9m-8 4h9m-9 11h9m-9 12h9m-9-570h9m-8 1056h9m-9-24h9m-9 3h9m-9-477h9m-9-503h9m-8 969h9m-9 65h9m-9-585h9m-9 503h9m-9-1056h9m-9 84h9m-8 536h9m-9-11h9m-9 16h9m-9-13h9m-9 471h9m-9 30h9m-9-529h9m-9 535h9m-8-1060h9m-9-17h9m-8 11h9m-9 1041h9m-9-499h9m-9 511h9m-9-507h9m-9 477h9m-9-488h9m-9-20h9m-9-516h9m-9 1074h9m-9-1093h9m-8 48h9m-9 494h9m-9 510h9m-9-7h9m-9-492h9m-9 8h9m-8-522h9m-9 27h9m-9 1024h9m-9 0h9m-8-12h9m-9-1032h9m-9-4h9m-9 3h9m-9-4h9m-8 508h9m-9-528h9m-9 22h9m-8-43h9m-9 1087h9m-9-514h9m-9-533h9m-9 18h9m-9 519h9m-9-26h9m-8 518h9m-9-4h9m-9-479h9m-9 460h9m-9 13h9m-9-1023h9m-9 1013h9m-8 16h9m-9-1057h9m-9 5h9m-9 13h9m-9-2h9m-9-12h9m-9 1041h9m-8-476h9m-9 501h9m-9-1034h9m-9 515h9m-9 502h9m-9-1052h9m-9 531h9m-8 32h9m-9-17h9m-9 504h9m-9-1065h9m-9 14h9m-9 584h9m-9-572h9m-9 544h9m-9 17h9m-9 480h9m-8 1h9m-9-1009h9m-9 1016h9m-9-542h9m-9 51h9m-9-17h9m-8 520h9m-9-37h9m-9-482h9m-9 7h9m-9 504h9m-9 21h9m-8-542h9m-9-502h9m-9 522h9m-9-559h9m-9 1056h9m-9-517h9m-9 492h9m-9-510h9m-9 26h9m-9 20h9m-8-578h9m-9 561h9m-9-497h9m-9 501h9m-9-23h9m-9-511h9m-9 13h9m-9 1026h9m-8-86h9m-9-427h9m-9 466h9m-9-959h9m-9-19h9m-9 498h9m-8 495h9m-9 19h9m-9-1007h9m-9 1007h9m-9-1013h9m-9 499h9m-9 30h9m-9 9h9m-8 498h9m-9-2h9m-9-18h9m-9-9h9m-9-501h9m-9-540h9m-9 1057h9m-9-494h9m-9-31h9m-9-533h9m-9 1049h9m-8-1012h9m-9 1036h9m-9-542h9m-9 498h9m-9-496h9m-9 23h9m-8-57h9m-9-483h9m-9-69h9m-9 72h9m-9 4h9m-9 1027h9m-9-1092h9m-9 79h9m-9 1023h9m-8-1062h9m-9 1h9m-9 59h9m-9-28h9m-9 540h9m-9-563h9m-9 511h9m-9-483h9m-8-1h9m-9-43h9m-8 1067h9m-9-1h9m-9-17h9m-9-477h9m-9-8h9m-9-536h9m-9-4h9m-9 1023h9m-8 35h9m-9-97h9m-9-415h9m-9-13h9m-9 3h9m-9-1h9m-9-545h9m-9 532h9m-9-546h9m-8-10h9m-9 585h9m-9-37h9m-9 512h9m-9 0h9m-9-1018h9m-9 1h9m-8-24h9m-9 34h9m-9 538h9m-9-551h9m-9 566h9m-8-600h9m-9 8h9m-9 1070h9m-9-10h9m-9-1044h9m-9 1091h9m-9-55h9m-9-526h9m-9 69h9m-9-17h9m-9 456h9m-9 39h9m-9-22h9m-9-1029h9m-9 540h9m-8 14h9m-9 465h9m-9-1013h9m-9-20h9m-9-9h9m-9 544h9m-9 93h9m-9 393h9m-9 10h9m-9-469h9m-9-587h9m-8 1105h9m-9-1057h9m-9 515h9m-9 487h9m-8-971h9m-9-34h9m-9-16h9m-8-34h9m-9 1085h9m-9 14h9m-9-1044h9m-8 1023h9m-9-1040h9m-9 578h9m-8-27h9m-9 23h9m-9-14h9m-9-31h9m-9 474h9m-8-963h9m-9 469h9m-9-492h9m-9-60h9m-9 59h9m-9 507h9m-9-7h9m-9 80h9m-9-595h9m-8 562h9m-9-568h9m-9 564h9m-9-39h9m-9-518h9m-8 536h9m-9 16h9m-9-540h9m-9 1042h9m-9-511h9m-8 480h9m-9-15h9m-8-986h9m-9 1025h9m-9-13h9m-9-1038h9m-9 1049h9m-9-1053h9m-9 1043h9m-9-1037h9m-8 525h9m-9 29h9m-9-57h9m-9 533h9m-9-1038h9m-9 43h9m-9 471h9m-9 50h9m-9-44h9m-8-528h9m-9 13h9m-9 553h9m-9 510h9m-9-21h9m-9-483h9m-9 524h9m-8-1063h9m-9-35h9m-9 1079h9m-9-513h9m-9-459h9m-9-110h9m-9 1046h9m-9-479h9m-9-538h9m-9-39h9m-8 84h9m-9 521h9m-9-26h9m-9-521h9m-8-69h9m-9 605h9m-9-522h9m-9 533h9m-9-40h9m-9 480h9m-9 70h9m-8-550h9m-9-542h9m-9 20h9m-9-53h9m-8 51h9m-9 540h9m-9 510h9m-9-27h9m-9-502h9m-9 491h9m-9 61h9m-9-50h9m-9-10h9m-8-533h9m-9 560h9m-9-1047h9m-9-10h9m-8 1064h9m-9-469h9m-9 469h9m-9-522h9m-9 501h9m-9-21h9m-9-8h9m-9-994h9m-8 1025h9m-9-1085h9m-9 608h9m-9-546h9m-9-30h9m-9 549h9m-9 522h9m-9-6h9m-8-560h9m-9-515h9m-9 21h9m-9 29h9m-9 517h9m-9-531h9m-8 557h9m-9 481h9m-9-476h9m-9-12h9m-9-569h9m-9 1054h9m-9-1046h9m-9-34h9m-8 68h9m-9-79h9m-9 552h9m-9 522h9m-8-1010h9m-9 510h9m-9 530h9m-9-1058h9m-9-2h9m-9 1052h9m-9 9h9m-9-1046h9m-8 0h9m-9 527h9m-9 30h9m-9-27h9m-9 20h9m-9-572h9m-9-30h9m-9 1057h9m-9 44h9m-9-505h9m-8 468h9m-9-1002h9m-9 1018h9m-9-452h9m-9 445h9m-9-1092h9m-9 65h9m-8 1073h9m-9-1095h9m-9 1052h9m-9-1040h9m-9 20h9m-9-84h9m-9 1107h9m-9-3h9m-9-1020h9m-9 986h9m-9-440h9m-8-22h9m-9 502h9m-9-1002h9m-9 1027h9m-8-531h9m-9-498h9m-9 1032h9m-9-532h9m-9-504h9m-9 491h9m-9 37h9m-9 465h9m-9-22h9m-8-1010h9m-9 2h9m-9 555h9m-9-542h9m-9 528h9m-9-559h9m-9 1086h9m-8 3h9m-9-1036h9m-9 517h9m-8 33h9m-9-532h9m-9 458h9m-9 521h9m-9-461h9m-9 472h9m-8-467h9m-9 458h9m-9 19h9m-9-1048h9m-9 569h9m-9 506h9m-9-1060h9m-8 999h9m-9 22h9m-9-14h9m-9 19h9m-9 8h9m-9-1033h9m-9 526h9m-9-585h9m-9 1092h9m-9-481h9m-9-24h9m-9-525h9m-9 983h9m-8 28h9m-9-490h9m-9 40h9m-9-587h9m-9 7h9m-8 530h9m-9 483h9m-9 23h9m-9-498h9m-9 519h9m-9-1039h9m-9-18h9m-9 539h9m-9 495h9m-9 5h9m-8-493h9m-9 22h9m-9-538h9m-9-37h9m-9 580h9m-9-41h9m-8 530h9m-9-1092h9m-9 1043h9m-9-463h9m-9-544h9m-9 1047h9m-9-1042h9m-9 511h9m-7 525h9m-9-25h9m-9-495h9m-9-541h9m-9 9h9m-8 541h9m-9-529h9m-9 553h9m-9-569h9m-9 556h9m-9-453h9m-9-89h9m-9 526h9m-9 3h9m-9-542h9m-8 1h9m-9 559h9m-9-43h9m-9-512h9m-9 564h9m-8-15h9m-9 488h9m-9 20h9m-9 6h9m-9 0h9m-8-567h9m-9-499h9m-9 1023h9m-9 22h9m-9-1030h9m-9 543h9m-8-552h9m-9 64h9m-9-61h9m-9-48h9m-8 1098h9m-9-1049h9m-9 493h9m-9 37h9m-9 0h9m-9-492h9m-9 460h9m-8-488h9m-9 1038h9m-8-29h9m-9-19h9m-9 33h9m-9-3h9m-9-1065h9m-8 514h9m-9-491h9m-9 1076h9m-9-1060h9m-9-9h9m-9 546h9m-8 466h9m-9 5h9m-9-474h9m-9-27h9m-9-535h9m-9 24h9m-9-4h9m-8 1049h9m-9-7h9m-9-1053h9m-9 1047h9m-9-1036h9m-9 13h9m-9 988h9m-9 44h9m-9-24h9m-8-487h9m-9 505h9m-9-495h9m-9-20h9m-9 491h9m-9-489h9m-9-6h9m-9-534h9m-9 1045h9m-9-517h9m-9 36h9m-8 511h9m-9-1070h9m-9 1025h9m-9-488h9m-9-5h9m-9-14h9m-9 27h9m-9 3h9m-9 493h9m-8-486h9m-9 493h9m-9 20h9m-9-535h9m-9-493h9m-9 1024h9m-8-511h9m-9-525h9m-9 3h9m-9 0h9m-8-42h9m-9 554h9m-9-3h9m-9 32h9m-9 6h9m-8 457h9m-9-1006h9m-9 986h9m-9-496h9m-9-520h9m-9 530h9m-9-519h9m-8 555h9m-9 481h9m-9 8h9m-9-7h9m-9-537h9m-9-501h9m-9-33h9m-8 7h9m-9 23h9m-9 497h9m-9-501h9m-9-43h9m-9 66h9m-9-34h9m-8 1055h9m-9-484h9m-9 483h9m-9-484h9m-9 491h9m-9-533h9m-9-504h9m-8 1038h9m-9-1088h9m-9 1094h9m-9-10h9m-9-1057h9m-9-13h9m-9 1071h9m-8-512h9m-9 510h9m-9-1038h9m-9 509h9m-9 18h9m-8-570h9m-9 1077h9m-9 10h9m-9 8h9m-9-512h9m-9 479h9m-9-474h9m-9 496h9m-8-1039h9m-9 1037h9m-9-1017h9m-9-5h9m-9 495h9m-9 17h9m-8 546h9m-9-1092h9m-9 1066h9m-9-518h9m-8 24h9m-9 497h9m-9-1056h9m-8 521h9m-9 504h9m-9-504h9m-9 7h9m-9 66h9m-9-553h9m-9 479h9m-9-521h9m-9 537h9m-9 600h9m-9-617h9m-8 13h9m-9 514h9m-9-1020h9m-9-62h9m-9 1074h9m-9-1050h9m-8 527h9m-9 517h9m-9-991h9m-9 490h9m-7 14h9m-9-582h9m-9 16h9m-9 1064h9m-9-1039h9m-9 1045h9m-8-520h9m-9 522h9m-9-518h9m-9 14h9m-9 496h9m-8-520h9m-9 528h9m-9-6h9m-9-3h9m-9 7h9m-8 4h9m-9-13h9m-9-1048h9m-9 1057h9m-9-515h9m-9 34h9m-9-559h9m-9 0h9m-9 1025h9m-8-999h9m-9 980h9m-9 28h9m-9-1035h9m-9 1018h9m-9-1029h9m-8 11h9m-9 520h9m-8-485h9m-9-66h9m-9 64h9m-9 552h9m-9 420h9m-9-479h9m-9 4h9m-9-491h9m-9-12h9m-8-23h9m-9 1027h9m-9-501h9m-9 26h9m-9-37h9m-9-1h9m-9-496h9m-9-13h9m-9 556h9m-9 463h9m-8 7h9m-9-1023h9m-9 1010h9m-9 32h9m-9-16h9m-9-495h9m-8 460h9m-9-441h9m-9-34h9m-9 469h9m-9 22h9m-9 31h9m-9-534h9m-9 510h9m-9-1021h9m-8 1028h9m-9-10h9m-9-1005h9m-9 506h9m-9 518h9m-8-18h9m-9-517h9m-9-523h9m-9 504h9m-9-507h9m-9 19h9m-9 529h9m-9 0h9m-9 517h9m-9-513h9m-8 496h9m-8-13h9m-9-1033h9m-9 1076h9m-9-27h9m-9-1040h9m-8 1032h9m-9-1005h9m-9 1027h9m-8-18h9m-9-28h9m-9-1025h9m-9 1030h9m-8-987h9m-9 1012h9m-9-999h9m-9-75h9m-9 95h9m-9 482h9m-9-509h9m-9 501h9m-9-6h9m-8 43h9m-9-546h9m-9-37h9m-9 549h9m-9-498h9m-8 423h9m-9-397h9m-9 989h9m-9-542h9m-9-509h9m-9 1012h9m-9 39h9m-8-496h9m-9 526h9m-9-549h9m-9 560h9m-9-555h9m-9-1h9m-9-1h9m-8 518h9m-9-1042h9m-9 1054h9m-9-1067h9m-9 1041h9m-9-496h9m-9 474h9m-9-1033h9m-9-14h9m-9 545h9m-8 545h9m-9-523h9m-9 505h9m-9-1061h9m-9 553h9m-9-539h9m-9 8h9m-9 1053h9m-8-1038h9m-9 1034h9m-9-509h9m-9 23h9m-9 454h9m-9-1019h9m-9 532h9m-9 502h9m-9-1003h9m-9-26h9m-8 1039h9m-9-1066h9m-9 1051h9m-9 31h9m-9-1069h9m-9 31h9m-9 1019h9m-9-1052h9m-8 1045h9m-9 28h9m-9-538h9m-9-519h9m-9 1047h9m-9-51h9m-9-428h9m-8-33h9m-9 35h9m-9 486h9m-9-515h9m-9-17h9m-9 496h9m-9-1009h9m-8 1015h9m-9 11h9m-9-535h9m-9 541h9m-8-529h9m-9-520h9m-9 25h9m-9 1002h9m-9 6h9m-9-29h9m-9 53h9m-9-1090h9m-8 591h9m-9-27h9m-9 459h9m-9-486h9m-8-526h9m-9 558h9m-9-527h9m-8-9h9m-9 2h9m-9 527h9m-9-497h9m-9 454h9m-9 30h9m-8 34h9m-9-538h9m-9 513h9m-9-53h9m-9 564h9m-8-495h9m-9-6h9m-9-31h9m-9 528h9m-9-460h9m-9-592h9m-9 1082h9m-9-14h9m-9 11h9m-8-45h9m-9-1008h9m-9 1057h9m-9-527h9m-9-535h9m-9 1040h9m-9 12h9m-8-4h9m-8-1054h9m-9 562h9m-9-586h9m-9 1086h9m-9-528h9m-9 37h9m-8 464h9m-9 36h9m-9-54h9m-9 60h9m-9-518h9m-9 470h9m-9-460h9m-9-571h9m-9-22h9m-8 1063h9m-9 11h9m-9-1058h9m-9 589h9m-9-574h9m-9 1029h9m-8 0h9m-9 2h9m-9-502h9m-9 13h9m-9-601h9m-8 71h9m-9-7h9m-9 508h9m-9-526h9m-9 1047h9m-9 14h9m-9-1078h9m-9 52h9m-9 991h9m-9-457h9m-9 485h9m-9-16h9m-9-1019h9m-8 497h9m-9 526h9m-9-525h9m-9 112h9m-9 433h9m-9 1h9m-9-516h9m-9-22h9m-9-474h9m-8 1022h9m-9-595h9m-9 59h9m-9-527h9m-9 517h9m-9-494h9m-9 504h9m-9 532h9m-8-1055h9m-9 538h9m-9-526h9m-9 572h9m-9-47h9m-9-19h9m-9-525h9m-9 550h9m-9 4h9m-8 481h9m-9 23h9m-9-4h9m-9-529h9m-9-479h9m-9 483h9m-9-506h9m-9 29h9m-9-86h9m-9 31h9m-9 1000h9m-9-5h9m-9-449h9m-8-527h9m-9 533h9m-9-558h9m-9 544h9m-9-514h9m-9 960h9m-9 2h9m-9-968h9m-9 4h9m-8 981h9m-9-455h9m-9-32h9m-9 482h9m-9-463h9m-9-568h9m-9 577h9m-9-20h9m-8-477h9m-9 484h9m-9 465h9m-9 14h9m-9-993h9m-8 14h9m-9 491h9m-9 476h9m-9 4h9m-8 22h9m-9-39h9m-9-979h9m-9 1037h9m-9-507h9m-9-519h9m-9 30h9m-8-26h9m-9 488h9m-9-2h9m-9-484h9m-8-11h9m-9 42h9m-9 449h9m-9 16h9m-9 20h9m-9 96h9m-9-645h9m-9 523h9m-8 11h9m-9-505h9m-9 12h9m-9 977h9m-9-453h9m-8 436h9m-9-974h9m-9-39h9m-9 71h9m-9 911h9m-8 41h9m-9-1001h9m-9 1007h9m-9-970h9m-9 964h9m-8 29h9m-9-100h9m-9-947h9m-9 545h9m-9-498h9m-9 503h9m-9-509h9m-8-27h9m-9 1024h9m-9-489h9m-9 449h9m-9-943h9m-9-27h9m-9-17h9m-9 529h9m-9 483h9m-8-477h9m-9-521h9m-9 27h9m-9-16h9m-8-21h9m-9 567h9m-9 425h9m-9-442h9m-9 429h9m-9-975h9m-9 493h9m-8 502h9m-9-455h9m-9-495h9m-9 435h9m-8-466h9m-9 982h9m-9-1014h9m-9 528h9m-9 30h9m-9-56h9m-9-447h9m-9-29h9m-9 28h9m-9 526h9m-9-564h9m-9-19h9m-8 535h9m-9 495h9m-9-468h9m-9-38h9m-9-51h9m-9 530h9m-9 20h9m-9 7h9m-8-490h9m-9 474h9m-9-455h9m-9 458h9m-9 16h9m-8-457h9m-9-548h9m-9 505h9m-9-542h9m-9 1024h9m-9-943h9m-9 960h9m-8-988h9m-9 1029h9m-9-526h9m-9-485h9m-9-59h9m-9 1026h9m-9-13h9m-9-463h9m-9 464h9m-9-1012h9m-9 558h9m-8 455h9m-9-463h9m-9-24h9m-8 36h9m-9 450h9m-9-4h9m-9-455h9m-9 487h9m-9-1049h9m-9 54h9m-9 491h9m-8-546h9m-9 1007h9m-9-952h9m-9 504h9m-9 479h9m-9-995h9m-9 483h9m-8-507h9m-9 515h9m-9 12h9m-9-515h9m-8 1006h9m-9-492h9m-9 5h9m-9 16h9m-9-549h9m-9 991h9m-9 23h9m-9-487h9m-9-513h9m-8 510h9m-9-6h9m-9 475h9m-9-983h9m-9 992h9m-9 1h9m-9-490h9m-9-524h9m-9 29h9m-9 1035h9m-9-65h9m-9-445h9m-9-498h9m-9-24h9m-9 996h9m-9 0h9m-9-510h9m-8 467h9m-9-982h9m-9 999h9m-9-435h9m-9-534h9m-8 992h9m-9-981h9m-9 0h9m-9 1h9m-9 527h9m-8-506h9m-9 470h9m-9-512h9m-8 24h9m-9 951h9m-9 0h9m-9-974h9m-9 23h9m-9 471h9m-8 459h9m-9-472h9m-9-22h9m-9 524h9m-9 20h9m-9 14h9m-9-985h9m-9 447h9m-9 512h9m-8-480h9m-9 476h9m-9-982h9m-9 545h9m-9-521h9m-8 979h9m-9-470h9m-9 462h9m-9-468h9m-8 14h9m-9 526h9m-9-1059h9m-9 987h9m-9-953h9m-9 432h9m-9-479h9m-8 973h9m-9-433h9m-9 447h9m-9-495h9m-9 30h9m-9 0h9m-9-482h9m-9 472h9m-9 493h9m-8-474h9m-9 465h9m-9-953h9m-9 505h9m-9 457h9m-8-47h9m-9-973h9m-9 30h9m-9 4h9m-9-29h9m-9-7h9m-9 548h9m-9-519h9m-8 544h9m-9-29h9m-9-493h9m-9 977h9m-9-1004h9m-9 991h9m-8-500h9m-9-520h9m-9 522h9m-9-506h9m-9 20h9m-8 500h9m-9-490h9m-9-46h9m-9 581h9m-8 418h9m-9-969h9m-9 980h9m-9-441h9m-9-539h9m-9-32h9m-9 549h9m-9-534h9m-8 540h9m-9 455h9m-9-472h9m-9 3h9m-9-500h9m-9 477h9m-9-505h9m-9 1025h9m-9-1049h9m-9 38h9m-8 528h9m-9-510h9m-9 510h9m-9-513h9m-9 10h9m-9 941h9m-9 4h9m-9-1006h9m-8 1005h9m-9 25h9m-9-2h9m-9-490h9m-9-544h9m-9 47h9m-9 550h9m-9-56h9m-9 67h9m-8-562h9m-9 9h9m-9 959h9m-9 21h9m-9 12h9m-9-11h9m-9-484h9m-9 1h9m-9-13h9m-9 13h9m-8 95h9m-9 379h9m-9-456h9m-9-30h9m-8 0h9m-9 44h9m-9-39h9m-9 17h9m-9-516h9m-9 969h9m-9-464h9m-9 476h9m-9-479h9m-9-509h9m-9 537h9m-8 474h9m-9-456h9m-9-547h9m-9 36h9m-9-37h9m-9 1000h9m-8-1022h9m-9 1019h9m-9-987h9m-9 25h9m-9 467h9m-9 18h9m-9-494h9m-9-17h9m-8 962h9m-9-1015h9m-9 513h9m-9-456h9m-9 503h9m-9-488h9m-9 486h9m-9-24h9m-9 44h9m-8 444h9m-9-463h9m-8-8h9m-9 8h9m-9-2h9m-9-512h9m-9 555h9m-9-559h9m-9 19h9m-9 954h9m-8-435h9m-9-23h9m-9 474h9m-9-33h9m-9 30h9m-9 36h9m-9-1088h9m-9 554h9m-9-12h9m-9 508h9m-9 7h9m-8 2h9m-9-469h9m-9 5h9m-9-568h9m-9 558h9m-8 466h9m-9-993h9m-9-26h9m-8 562h9m-9-30h9m-9 510h9m-9-484h9m-9 439h9m-9-985h9m-8 552h9m-9-41h9m-9 25h9m-9 462h9m-9 23h9m-9-510h9m-9 21h9m-8-520h9m-9 1012h9m-9-5h9m-9-482h9m-9 511h9m-8-1035h9m-9 1011h9m-8-962h9m-9 948h9m-9-487h9m-9-3h9m-9-500h9m-9 488h9m-9 490h9m-9-449h9m-9 473h9m-8-487h9m-9-519h9m-9 15h9m-9 449h9m-9-470h9m-9 999h9m-9-26h9m-8-944h9m-9-26h9m-9 9h9m-9 521h9m-9 474h9m-9-509h9m-8-453h9m-9 473h9m-9 4h9m-9 456h9m-9-1000h9m-9 548h9m-9-539h9m-8 534h9m-9 12h9m-9 461h9m-9 21h9m-9-480h9m-9-521h9m-8 21h9m-9 952h9m-9 19h9m-9 8h9m-9-518h9m-9 43h9m-9 25h9m-9-528h9m-8-49h9m-9 1013h9m-9 0h9m-9 4h9m-9-986h9m-9 526h9m-9-528h9m-9 463h9m-9 37h9m-8 478h9m-9 29h9m-9-479h9m-9-19h9m-9-24h9m-8 505h9m-9-989h9m-9-27h9m-8 1009h9m-9-990h9m-9 27h9m-9 0h9m-9 477h9m-9-502h9m-8 1017h9m-9-472h9m-9 421h9m-9-382h9m-9-95h9m-9-501h9m-8 508h9m-9 10h9m-9 472h9m-9-502h9m-9 516h9m-9-470h9m-9-4h9m-8-480h9m-9-51h9m-9 1008h9m-9-1042h9m-9 54h9m-8 970h9m-9-455h9m-9-520h9m-9 534h9m-9-516h9m-9 973h9m-9-12h9m-8 16h9m-9-974h9m-9-24h9m-9 987h9m-8 19h9m-9-1009h9m-9 527h9m-9 473h9m-9-7h9m-9-1045h9m-9 595h9m-9-549h9m-8 1004h9m-9-477h9m-9 9h9m-9-493h9m-9 106h9m-9-192h9m-9 16h9m-8 1003h9m-9 14h9m-9-950h9m-9-44h9m-9 1017h9m-9-30h9m-9-460h9m-9-16h9m-9-480h9m-8 501h9m-9 458h9m-9 3h9m-9 56h9m-9-1h9m-9-1071h9m-9 21h9m-8 522h9m-9 512h9m-9-980h9m-9-77h9m-9 1025h9m-9 5h9m-9-32h9m-8 18h9m-9-968h9m-9 511h9m-9-514h9m-9 512h9m-9 452h9m-9 38h9m-9-498h9m-9 469h9m-8 6h9m-9-455h9m-9 14h9m-9-75h9m-9-474h9m-9 505h9m-9 479h9m-8 18h9m-9-25h9m-9-4h9m-9-471h9m-9 25h9m-9 8h9m-8-108h9m-9 564h9m-9-28h9m-9-991h9m-8 41h9m-9-7h9m-9 497h9m-9-491h9m-9 967h9m-8-454h9m-9 3h9m-9-535h9m-9 997h9m-9-518h9m-9 524h9m-8-4h9m-9-13h9m-9-971h9m-9 30h9m-9 451h9m-8 488h9m-9 19h9m-9 8h9m-9-5h9m-9-486h9m-9 18h9m-9-574h9m-9 1041h9m-9-940h9m-9 436h9m-9-511h9m-8 521h9m-9 512h9m-9-1000h9m-9 998h9m-9-492h9m-9-531h9m-9 553h9m-9-574h9m-8 32h9m-9 27h9m-9 956h9m-9-993h9m-9 516h9m-9 56h9m-9-50h9m-8 1h9m-9 18h9m-9 9h9m-9-21h9m-8-488h9m-9-18h9m-9 506h9m-9 26h9m-9-25h9m-8-7h9m-9 481h9m-9-985h9m-9 992h9m-9-1010h9m-9-4h9m-9 999h9m-8-7h9m-9-411h9m-9 423h9m-8-1007h9m-9 1039h9m-9-1006h9m-9 470h9m-9-472h9m-9 1009h9m-8-492h9m-9 54h9m-9-35h9m-9-561h9m-9 1031h9m-9-506h9m-8 500h9m-9-981h9m-9 952h9m-9 41h9m-9-1032h9m-9 505h9m-9-488h9m-9 10h9m-9 503h9m-9-584h9m-8 70h9m-9 489h9m-9-531h9m-9 1031h9m-9-7h9m-9-17h9m-8-943h9m-9-47h9m-9 539h9m-9 21h9m-9 461h9m-8-31h9m-9-1013h9m-9 1001h9m-8 10h9m-9-978h9m-9 513h9m-9 5h9m-9 449h9m-9-408h9m-9 444h9m-8-6h9m-9-36h9m-9 42h9m-9-450h9m-8-48h9m-9 77h9m-9-577h9m-9 1007h9m-9-16h9m-9-982h9m-9 16h9m-8 963h9m-9-964h9m-9 2h9m-9 509h9m-9 455h9m-9-968h9m-9 524h9m-8-512h9m-9 955h9m-9-448h9m-8-46h9m-9-484h9m-8-25h9m-9 33h9m-9 522h9m-9-562h9m-9 1055h9m-9-1066h9m-9 542h9m-9 418h9m-9-918h9m-8 548h9m-9 405h9m-9-914h9m-9 449h9m-8-530h9m-9 538h9m-9 60h9m-9 463h9m-9-25h9m-9 2h9m-8-2h9m-9-9h9m-9-987h9m-9 516h9m-9 464h9m-9 31h9m-9-460h9m-9-574h9m-9 542h9m-9 447h9m-9 26h9m-9-29h9m-8-956h9m-9 943h9m-9-967h9m-9 1042h9m-9-498h9m-9 464h9m-9-1029h9m-9 1012h9m-9-454h9m-8 463h9m-9-494h9m-9 12h9m-8 518h9m-9-1057h9m-9 543h9m-9 461h9m-9 29h9m-8 11h9m-9-1002h9m-9 970h9m-9-974h9m-8 3h9m-9 519h9m-9-27h9m-9 32h9m-9 486h9m-9-26h9m-9-6h9m-9-1001h9m-9-17h9m-9 1013h9m-8-938h9m-9 932h9m-9-457h9m-9 467h9m-9-969h9m-9-28h9m-8-65h9m-9 57h9m-9 554h9m-9-583h9m-9 1011h9m-9-448h9m-9-5h9m-9-481h9m-9 474h9m-8 470h9m-9-413h9m-9-587h9m-8 518h9m-9-476h9m-9 978h9m-9-479h9m-9 503h9m-8-1023h9m-9 1015h9m-9-988h9m-9-18h9m-9 1007h9m-9-1005h9m-9 1h9m-8 494h9m-9-23h9m-9 493h9m-9-998h9m-9 1031h9m-9-466h9m-9-58h9m-9 514h9m-9-990h9m-9-1h9m-8 492h9m-9 46h9m-9 453h9m-9-2h9m-8-909h9m-9 435h9m-9 456h9m-9 24h9m-9-1009h9m-9 49h9m-9-77h9m-8 542h9m-9 485h9m-9 32h9m-9-568h9m-9 86h9m-9-529h9m-9 998h9m-9-45h9m-8 44h9m-9-477h9m-9-35h9m-9-489h9m-9-69h9m-9 1014h9m-9 34h9m-9 27h9m-9-970h9m-9 505h9m-8-6h9m-9 422h9m-9-919h9m-9-54h9m-9 51h9m-9 926h9m-9 34h9m-9-15h9m-8-17h9m-9-430h9m-9 410h9m-9-433h9m-9 488h9m-8-9h9m-9-500h9m-9 493h9m-9-485h9m-9-18h9m-9 514h9m-9-12h9m-9-455h9m-8-23h9m-9 484h9m-9-29h9m-9 49h9m-8-17h9m-9-974h9m-9 503h9m-9-42h9m-9 495h9m-9-970h9m-8 1001h9m-9-37h9m-9-957h9m-9-7h9m-9 533h9m-8 442h9m-9-452h9m-9 471h9m-9-979h9m-9 932h9m-9 32h9m-9-467h9m-9 478h9m-8-1000h9m-9-8h9m-9 987h9m-9-988h9m-9 40h9m-9 920h9m-9-470h9m-9 531h9m-9-6h9m-8-495h9m-9-504h9m-9 22h9m-9-6h9m-9 491h9m-9 540h9m-9-1064h9m-8 495h9m-9-444h9m-9 476h9m-9 522h9m-9-44h9m-9-424h9m-9 400h9m-9 15h9m-9-961h9m-9-17h9m-8 498h9m-9 484h9m-9 15h9m-8-1011h9m-9 530h9m-9 489h9m-9-477h9m-9-3h9m-9 499h9m-9-47h9m-9 26h9m-9-993h9m-9-61h9m-8 1054h9m-9-495h9m-9 470h9m-9 164h9m-8-1194h9m-9 66h9m-9 483h9m-9 492h9m-8-890h9m-9 381h9m-9 5h9m-9-462h9m-9-30h9m-9-11h9m-9 996h9m-9-979h9m-9 1004h9m-9-467h9m-9-527h9m-8 968h9m-9 187h9m-9-647h9m-8-509h9m-9 984h9m-9-960h9m-9 949h9m-9-467h9m-9 22h9m-9-631h9m-9 89h9m-8 971h9m-9 28h9m-9-1003h9m-8-22h9m-9 20h9m-9 544h9m-9-513h9m-9 475h9m-9-3h9m-9 496h9m-9-465h9m-9-437h9m-9-100h9m-8 1003h9m-9-518h9m-9 18h9m-9 511h9m-9 169h9m-9-1194h9m-9 971h9m-9-1h9m-9-960h9m-9 495h9m-8 467h9m-9-966h9m-9-21h9m-9 1195h9m-9-15h9m-9-653h9m-9-474h9m-9 474h9m-9-470h9m-8 1142h9m-9-10h9m-9-182h9m-9-1000h9m-9 15h9m-9 510h9m-9-488h9m-9 493h9m-9-505h9m-8 2h9m-9 1165h9m-9-202h9m-9-986h9m-9 48h9m-9 503h9m-9 448h9m-9-1019h9m-9 1237h9m-9-700h9m-9-37h9m-8-463h9m-9 496h9m-9 472h9m-9-930h9m-9-35h9m-9 931h9m-9 46h9m-9 192h9m-9-1136h9m-8 909h9m-9-966h9m-9 994h9m-9 191h9m-9-1151h9m-9 974h9m-9-960h9m-9 509h9m-9-523h9m-8 944h9m-9 239h9m-9-35h9m-9-1142h9m-9 951h9m-9-957h9m-9 959h9m-9-951h9m-8-21h9m-9-5h9m-9 990h9m-9-11h9m-9-21h9m-9-962h9m-8 1007h9m-9 155h9m-9-1099h9m-9 903h9m-9-4h9m-9 13h9m-9-925h9m-9 917h9m-9 23h9m-8-922h9m-9 898h9m-9-455h9m-9 490h9m-9-974h9m-9 877h9m-9-886h9m-8 931h9m-9-433h9m-9 31h9m-9-541h9m-9 28h9m-9-35h9m-9 967h9m-9 28h9m-8-444h9m-9-13h9m-9 431h9m-9-407h9m-9-45h9m-9 12h9m-9-492h9m-9 496h9m-8 437h9m-9-974h9m-9 21h9m-8 943h9m-9-944h9m-9 547h9m-9 440h9m-9-1007h9m-9 498h9m-9 58h9m-9-31h9m-8 8h9m-9 456h9m-9-980h9m-9 481h9m-9 475h9m-9-939h9m-9 520h9m-9 432h9m-9-38h9m-8-412h9m-9-38h9m-9 482h9m-9 15h9m-9-7h9m-9-957h9m-9 562h9m-9-509h9m-9 873h9m-9-421h9m-9-504h9m-9 500h9m-8 45h9m-9-547h9m-9 935h9m-9-941h9m-9 46h9m-9-19h9m-9-32h9m-9 977h9m-9-37h9m-9-370h9m-9-583h9m-9 993h9m-9-961h9m-8-17h9m-9 973h9m-9-478h9m-9 30h9m-8 438h9m-9 23h9m-9-457h9m-9 414h9m-9-890h9m-9-79h9m-9 977h9m-8-401h9m-9 422h9m-9-405h9m-9-542h9m-9 508h9m-9-24h9m-8 461h9m-9-17h9m-9-951h9m-9 950h9m-9-1077h9m-9 638h9m-9 1h9m-9 449h9m-9-1001h9m-9 990h9m-9-468h9m-8 494h9m-9 9h9m-9-434h9m-9-112h9m-9-522h9m-9 1051h9m-9-1067h9m-9 1056h9m-9-457h9m-9-612h9m-9-11h9m-8 711h9m-9-81h9m-9-602h9m-9 609h9m-9 452h9m-8-476h9m-9 56h9m-9 398h9m-9-451h9m-9-40h9m-9 61h9m-9-603h9m-9-14h9m-8 649h9m-9-582h9m-9 553h9m-9 2h9m-9-631h9m-9 19h9m-8-1h9m-9 625h9m-9-47h9m-9-577h9m-9-21h9m-9 1074h9m-9-9h9m-8-1050h9m-9 6h9m-9 7h9m-9 0h9m-9 1035h9m-8-433h9m-9-602h9m-9-3h9m-9 37h9m-9 1030h9m-8-1056h9m-9 1033h9m-9-469h9m-9-574h9m-8 622h9m-9-8h9m-9 412h9m-9-1015h9m-8 610h9m-9-553h9m-9 567h9m-9-78h9m-9-563h9m-8 13h9m-9 571h9m-9 19h9m-9 37h9m-9 404h9m-9-1044h9m-9 569h9m-9 505h9m-8-429h9m-9-647h9m-9 1059h9m-9 20h9m-9-477h9m-9-629h9m-9 652h9m-8 427h9m-9-1028h9m-9 25h9m-9 1025h9m-9-440h9m-9 416h9m-9-456h9m-9-26h9m-9 57h9m-9-635h9m-9 1079h9m-9-7h9m-9-4h9m-8-1037h9m-9 1037h9m-9-435h9m-9 422h9m-9-1008h9m-9-124h9m-8 726h9m-9 406h9m-9-432h9m-9-9h9m-9 13h9m-9-27h9m-9 71h9m-9 406h9m-8-1070h9m-9 648h9m-9 412h9m-9-438h9m-9 444h9m-9-1045h9m-9 609h9m-8-6h9m-9-6h9m-9 441h9m-8-460h9m-9-607h9m-9 26h9m-9 1043h9m-9-457h9m-9-555h9m-9 606h9m-8-22h9m-9 423h9m-9-425h9m-9-3h9m-9-13h9m-9-534h9m-8-45h9m-9-80h9m-9 642h9m-9 15h9m-9 469h9m-9-1068h9m-9 595h9m-9 10h9m-9-611h9m-9-33h9m-9 1083h9m-8-2h9m-9-1011h9m-9 564h9m-9-28h9m-9 467h9m-8-1060h9m-9 1063h9m-9-1013h9m-9-50h9m-9 1062h9m-9 7h9m-8-449h9m-9-536h9m-9 535h9m-9 460h9m-9-501h9m-9 478h9m-9-382h9m-8-32h9m-9 448h9m-9-3h9m-9-1084h9m-9 642h9m-9-634h9m-9-8h9m-9 621h9m-9-601h9m-9 1035h9m-9-1010h9m-9-7h9m-8 615h9m-9-572h9m-9 996h9m-9-485h9m-9-567h9m-9 619h9m-8-9h9m-9-601h9m-9 1047h9m-9-1022h9m-9-64h9m-8 629h9m-9 444h9m-9-456h9m-9 446h9m-9-404h9m-9-8h9m-9-4h9m-9-593h9m-9 585h9m-8 434h9m-9-1043h9m-9-31h9m-9 17h9m-9 23h9m-9 608h9m-9-647h9m-9 22h9m-9 567h9m-9 487h9m-9-1010h9m-9 591h9m-8-681h9m-9 1104h9m-9 15h9m-9-1055h9m-9 40h9m-9 572h9m-9 412h9m-9 36h9m-9-1098h9m-9 657h9m-8-647h9m-9 18h9m-9 626h9m-9-51h9m-9 62h9m-9 405h9m-9-1021h9m-9 590h9m-9 440h9m-8-463h9m-9-588h9m-9 1054h9m-9-6h9m-9-1061h9m-9 608h9m-9-582h9m-8 1055h9m-9-1114h9m-9 42h9m-9 562h9m-8 13h9m-9 31h9m-9 459h9m-9-1078h9m-9 1058h9m-9-451h9m-8 2h9m-9-575h9m-9-36h9m-9 626h9m-9 474h9m-9-494h9m-8-579h9m-9 1061h9m-9-22h9m-9-6h9m-9-1040h9m-9 1045h9m-9-445h9m-9 446h9m-9-472h9m-8-555h9m-9-6h9m-9-44h9m-9 1079h9m-9-486h9m-9-598h9m-9 1092h9m-9-468h9m-9 19h9m-9-629h9m-9 1085h9m-9 4h9m-9-18h9m-9-430h9m-8-30h9m-9 454h9m-9-1055h9m-9-31h9m-9 1093h9m-9-469h9m-9-590h9m-8 51h9m-9-90h9m-9 70h9m-9 1024h9m-8-432h9m-9 1h9m-9-637h9m-9 20h9m-9 604h9m-9-42h9m-9-48h9m-8 105h9m-9-17h9m-9 18h9m-9-612h9m-9-20h9m-8 1078h9m-9-454h9m-9-620h9m-9 1069h9m-8-1037h9m-9 1029h9m-9-399h9m-9 388h9m-9 2h9m-8-6h9m-9 7h9m-9-440h9m-9-609h9m-8-5h9m-9-1h9m-9 1104h9m-9-1100h9m-9 1051h9m-8 11h9m-9-38h9m-9-418h9m-9 408h9m-9-1002h9m-9 560h9m-9-532h9m-9 576h9m-8-22h9m-9 510h9m-9-1139h9m-9 64h9m-9 552h9m-9-563h9m-8-25h9m-9-25h9m-9 655h9m-9-604h9m-9-17h9m-8 29h9m-9 15h9m-9 1002h9m-9-438h9m-9 469h9m-9-427h9m-8 400h9m-9-502h9m-9 490h9m-9-458h9m-9-9h9m-9 476h9m-9-2h9m-8-1004h9m-9 11h9m-9 558h9m-9-662h9m-9 1104h9m-9-464h9m-8-622h9m-9 55h9m-9-6h9m-9-20h9m-9 632h9m-9-605h9m-9 590h9m-9-621h9m-9 646h9m-9-29h9m-8 426h9m-9-1008h9m-9 581h9m-9 461h9m-9-33h9m-9-443h9m-9 65h9m-9 389h9m-9-13h9m-9 19h9m-8-436h9m-9 41h9m-9 409h9m-9-2h9m-9-448h9m-9 436h9m-8-458h9m-9-15h9m-9-589h9m-9 1084h9m-9-467h9m-9 451h9m-9-1067h9m-8-30h9m-9 647h9m-9 436h9m-9 16h9m-9-485h9m-9-551h9m-9 1009h9m-9-993h9m-9 574h9m-9 438h9m-8-1077h9m-9 33h9m-9 602h9m-9-620h9m-9 623h9m-9 447h9m-8-1069h9m-9 95h9m-9-70h9m-8-18h9m-9 1045h9m-8-512h9m-9-559h9m-9 645h9m-9 423h9m-9-1016h9m-8 1012h9m-9-938h9m-9 527h9m-9 0h9m-9 416h9m-9-994h9m-9-132h9m-8 53h9m-9 1082h9m-9-19h9m-9 9h9m-9-1042h9m-9 1032h9m-9 38h9m-9-1036h9m-8 576h9m-9-582h9m-9-118h9m-9 1113h9m-9-461h9m-9 50h9m-9-20h9m-9 471h9m-9-434h9m-9-13h9m-9-613h9m-9 4h9m-8 1067h9m-9-1072h9m-9 1070h9m-9 0h9m-9-24h9m-8-430h9m-9-607h9m-9 690h9m-9-113h9m-9 29h9m-9-10h9m-9-568h9m-9 563h9m-9 23h9m-9 439h9m-8-449h9m-9 424h9m-9 20h9m-9-466h9m-9 432h9m-9-454h9m-8-521h9m-9-3h9m-9-56h9m-9 1065h9m-9-23h9m-9-405h9m-9 438h9m-9-431h9m-9 415h9m-9-445h9m-9-580h9m-8-49h9m-9 631h9m-9 3h9m-9 422h9m-9-1054h9m-9-34h9m-9 1106h9m-9 26h9m-9-465h9m-8-609h9m-9-15h9m-9 18h9m-9 601h9m-9 448h9m-9-1024h9m-8-5h9m-9-12h9m-9 568h9m-9-547h9m-9 1007h9m-9-421h9m-9 435h9m-8-1047h9m-9 1047h9m-9-504h9m-9 477h9m-9-370h9m-9 392h9m-9-416h9m-9-612h9m-9 1007h9m-8-997h9m-9 580h9m-9-637h9m-9 63h9m-9 537h9m-9 489h9m-9 6h9m-9-481h9m-9-27h9m-8-520h9m-9 986h9m-9-1022h9m-9 5h9m-9 1053h9m-9-1034h9m-9 1011h9m-9-1054h9m-8 602h9m-9 469h9m-9-4h9m-9-1074h9m-9 609h9m-9-3h9m-9-605h9m-8 1072h9m-9-24h9m-9-20h9m-9-984h9m-9 535h9m-9 493h9m-8 4h9m-9-414h9m-9-61h9m-9-568h9m-9 607h9m-8 446h9m-9-444h9m-9 420h9m-9 6h9m-9-416h9m-9-634h9m-9 1033h9m-9-1019h9m-8 1026h9m-9-1113h9m-9 691h9m-9-674h9m-9 666h9m-8-595h9m-9-9h9m-9 12h9m-9 606h9m-9 415h9m-9-429h9m-8 446h9m-9-1002h9m-9 542h9m-9 58h9m-9-621h9m-9 1036h9m-9-3h9m-9-1104h9m-8 34h9m-9 621h9m-9-596h9m-9 1033h9m-9-1058h9m-9 619h9m-9 440h9m-8-456h9m-9 468h9m-9-487h9m-9 15h9m-9-591h9m-8 1041h9m-9-1053h9m-9 629h9m-9-617h9m-9 43h9m-9 968h9m-9-991h9m-8-23h9m-9-26h9m-9 35h9m-9 557h9m-9-560h9m-9 592h9m-9 444h9m-9-1055h9m-9 12h9m-9 11h9m-9 1020h9m-9 10h9m-8-1020h9m-9 4h9m-9 622h9m-9-666h9m-9 1076h9m-8 12h9m-9-1101h9m-9 11h9m-9 638h9m-9 441h9m-9-457h9m-8 17h9m-9 30h9m-9 417h9m-9-1057h9m-9 604h9m-9 455h9m-9-1075h9m-9 1107h9m-9-89h9m-9-428h9m-9 59h9m-8-488h9m-9 434h9m-9 453h9m-9 19h9m-9-408h9m-8 440h9m-9-1083h9m-9 608h9m-9 20h9m-9 441h9m-8-464h9m-9 15h9m-9 439h9m-9-442h9m-9-39h9m-9 478h9m-9-14h9m-9 28h9m-9-472h9m-8-615h9m-9 1074h9m-9 3h9m-9-21h9m-9-450h9m-9 468h9m-9-450h9m-9-615h9m-8 18h9m-9-7h9m-9 7h9m-9-21h9m-9 22h9m-9-13h9m-9 20h9m-9 1019h9m-8-7h9m-9 10h9m-9-471h9m-9-526h9m-9 1008h9m-9-4h9m-9-1017h9m-9-33h9m-9 1064h9m-9-6h9m-8-32h9m-9-1h9m-9-999h9m-9 1026h9m-9-1042h9m-8-67h9m-9 1089h9m-9-500h9m-9 58h9m-9 467h9m-9-460h9m-8 36h9m-9-653h9m-9 24h9m-9 2h9m-9 584h9m-9-592h9m-9 612h9m-9 8h9m-9-32h9m-8-606h9m-9 606h9m-9-600h9m-9 36h9m-9 606h9m-9-36h9m-9-3h9m-9-582h9m-8 620h9m-9 434h9m-9-996h9m-9 968h9m-9 18h9m-9-454h9m-8-3h9m-9 15h9m-9-32h9m-9-563h9m-9 1028h9m-9-7h9m-8-1037h9m-9 1030h9m-9-409h9m-9 433h9m-9-1066h9m-9 1064h9m-9-1065h9m-9 43h9m-9 1014h9m-8-1022h9m-9 1037h9m-9-1022h9m-9 572h9m-9-586h9m-9 1038h9m-8-443h9m-9-606h9m-9 1023h9m-9-477h9m-9 497h9m-9-443h9m-9-593h9m-9 600h9m-9-14h9m-8 444h9m-9-981h9m-9 1009h9m-9-513h9m-9-564h9m-8 44h9m-9-48h9m-9 648h9m-9-56h9m-9 10h9m-9 420h9m-9-981h9m-9 997h9m-8-421h9m-9 427h9m-9-1h9m-9 21h9m-9-456h9m-9 14h9m-8 1h9m-9-620h9m-9-21h9m-9 1090h9m-9-449h9m-9 419h9m-9 10h9m-9 8h9m-8-455h9m-9 13h9m-9 432h9m-9-1053h9m-8 599h9m-9 7h9m-9 447h9m-8-1017h9m-9 610h9m-9 425h9m-9-1045h9m-9 544h9m-9-509h9m-9-38h9m-8 515h9m-9-482h9m-9-61h9m-9 1048h9m-9-431h9m-9-609h9m-8 18h9m-9 1026h9m-9 7h9m-9-1021h9m-9 1009h9m-9-423h9m-8 442h9m-9-443h9m-9 442h9m-9-2h9m-9-1135h9m-8 1123h9m-9-410h9m-9-10h9m-9 34h9m-9-626h9m-9 1016h9m-9 10h9m-9-438h9m-8-618h9m-9 621h9m-9-580h9m-9 1008h9m-9-475h9m-8-539h9m-9-74h9m-9 678h9m-9 412h9m-9-1014h9m-9 562h9m-9 450h9m-8 1h9m-9-429h9m-9-635h9m-9 1069h9m-9-1027h9m-9 585h9m-8-7h9m-9-583h9m-9 620h9m-9 5h9m-9-11h9m-8-627h9m-9 1045h9m-9 10h9m-8-447h9m-9 433h9m-9 23h9m-9-441h9m-9-631h9m-9 1043h9m-9 2h9m-9-443h9m-8 448h9m-9-428h9m-9-48h9m-8 19h9m-9-8h9m-9-611h9m-9 44h9m-9 593h9m-9-3h9m-9 6h9m-9-13h9m-9 28h9m-9 421h9m-8-449h9m-9 26h9m-9-4h9m-9 44h9m-9-663h9m-8 1266h9m-8-702h9m-9 67h9m-9-631h9m-9 1256h9m-9-1263h9m-9 600h9m-8 688h9m-9-689h9m-9 666h9m-9-50h9m-9 56h9m-9-1315h9m-8 1285h9m-9-629h9m-9 637h9m-9 11h9m-8-1264h9m-9 37h9m-9-69h9m-9 1300h9m-8 50h9m-9-1268h9m-9 1205h9m-9 12h9m-9-625h9m-9 604h9m-8 34h9m-9-1258h9m-9 5h9m-9 626h9m-9-60h9m-9 654h9m-9-629h9m-9-623h9m-8 1240h9m-9 24h9m-9-635h9m-9 651h9m-9-1281h9m-9 46h9m-8-45h9m-9-21h9m-9 639h9m-8 35h9m-9-668h9m-9 621h9m-9-611h9m-9 612h9m-8-5h9m-9 726h9m-9-708h9m-9-579h9m-9 619h9m-9-647h9m-9 598h9m-9 667h9m-8-27h9m-9-1278h9m-9 1300h9m-9-18h9m-9-1253h9m-9-8h9m-9 26h9m-9-5h9m-9 31h9m-8 591h9m-9-567h9m-9 602h9m-9-60h9m-9 615h9m-8-617h9m-9-12h9m-9-29h9m-9-514h9m-8 1219h9m-9-26h9m-9 42h9m-9-48h9m-9-654h9m-9 673h9m-9-1213h9m-8 1236h9m-9-1290h9m-9 1255h9m-9-1227h9m-9-62h9m-9 1299h9m-9-631h9m-9 635h9m-8-1239h9m-9 1229h9m-9-1248h9m-8 628h9m-9-64h9m-9-562h9m-9-83h9m-9 1359h9m-9-659h9m-9-8h9m-9-18h9m-8 38h9m-9-494h9m-9 1143h9m-9 23h9m-9-713h9m-9 667h9m-8 2h9m-9 3h9m-8-695h9m-9 47h9m-9-611h9m-8 1270h9m-9-667h9m-9-604h9m-9 1272h9m-8-664h9m-9-699h9m-8 99h9m-9 6h9m-9 1209h9m-9-1222h9m-9 606h9m-8-20h9m-9 20h9m-9 45h9m-9 577h9m-9 49h9m-8-41h9m-9-615h9m-9-45h9m-9 706h9m-9-1255h9m-9 571h9m-9 5h9m-8-584h9m-9 19h9m-9 1209h9m-9-1273h9m-9 31h9m-8 15h9m-9 617h9m-8-1h9m-9-613h9m-9 32h9m-9 1179h9m-8 29h9m-9 1h9m-9-656h9m-9 10h9m-9-643h9m-8 615h9m-9-1h9m-9 677h9m-9-634h9m-9 613h9m-9-606h9m-9-31h9m-8 17h9m-9-637h9m-9 568h9m-9 711h9m-9-631h9m-9-638h9m-8 660h9m-9-8h9m-9 621h9m-9-1258h9m-9 571h9m-9 30h9m-8-595h9m-9 1188h9m-9 90h9m-9-666h9m-8-651h9m-9 1268h9m-9-1238h9m-9 19h9m-9-5h9m-8 1242h9m-9-8h9m-9-642h9m-9-633h9m-9 1263h9m-9-656h9m-9-40h9m-9 94h9m-9 619h9m-8-641h9m-9 12h9m-9 612h9m-9 10h9m-9-626h9m-8-637h9m-9 11h9m-9 553h9m-9 58h9m-9-21h9m-9 685h9m-9-24h9m-9-1227h9m-8 1218h9m-9-1248h9m-9 1249h9m-9 13h9m-9-1243h9m-9-4h9m-9 5h9m-9 553h9m-8 706h9m-9-1279h9m-9 578h9m-9 47h9m-9 626h9m-9-1171h9m-9 535h9m-9 631h9m-9-605h9m-9-17h9m-8-1h9m-9 13h9m-9-6h9m-9-49h9m-9 668h9m-9-14h9m-9-1238h9m-9 1246h9m-8-574h9m-9-611h9m-9 1174h9m-8 7h9m-9-1232h9m-9 1238h9m-9-1269h9m-9 1278h9m-9-1210h9m-9-7h9m-8-63h9m-9 1290h9m-9-1265h9m-9 595h9m-9 24h9m-9 634h9m-8-630h9m-9-12h9m-9 69h9m-8-632h9m-9 1246h9m-9-693h9m-9 3h9m-9-592h9m-9 1259h9m-8-1242h9m-9 609h9m-9-22h9m-9-600h9m-8 1254h9m-9-610h9m-9-655h9m-9 38h9m-9-18h9m-9 567h9m-9 679h9m-9-1250h9m-8 629h9m-9 596h9m-9 25h9m-9-1271h9m-9 18h9m-9 1245h9m-9-1250h9m-9 32h9m-8-15h9m-9 1224h9m-9-624h9m-9 640h9m-9 2h9m-9-1280h9m-9-13h9m-9 1278h9m-8-624h9m-9 611h9m-9-643h9m-9 77h9m-9-596h9m-8 526h9m-9 664h9m-9-1289h9m-9 40h9m-9 1228h9m-9-629h9m-9-28h9m-9-560h9m-9 1259h9m-9-60h9m-9-652h9m-9-527h9m-8-2h9m-9 531h9m-9 694h9m-9-632h9m-9-661h9m-9 51h9m-9-3h9m-9-6h9m-9 568h9m-9 672h9m-9-1263h9m-9 630h9m-9 637h9m-8-15h9m-9 28h9m-9-653h9m-9 607h9m-9-637h9m-9 32h9m-9-17h9m-9 659h9m-8-1301h9m-9 639h9m-9-608h9m-9 628h9m-9 638h9m-9-1301h9m-9 624h9m-9 25h9m-9-619h9m-8 638h9m-9-43h9m-9-553h9m-9 564h9m-9-563h9m-9 588h9m-9-26h9m-9-549h9m-9 574h9m-9-7h9m-9 622h9m-8-1219h9m-9-4h9m-9 1220h9m-9-629h9m-9 30h9m-8-628h9m-9 8h9m-9 19h9m-9 564h9m-9 666h9m-8-1280h9m-9 1252h9m-9 19h9m-9 5h9m-9-705h9m-9 52h9m-9 664h9m-8-5h9m-9-21h9m-9-1277h9m-8 1312h9m-9-1313h9m-9 1292h9m-9-1252h9m-9 1223h9m-9-603h9m-8-655h9m-9 47h9m-9 571h9m-9-595h9m-9 643h9m-9-35h9m-8-645h9m-9 604h9m-9 43h9m-9 679h9m-9-1250h9m-9 1229h9m-9-1260h9m-9 584h9m-9 11h9m-9-602h9m-9 576h9m-8 680h9m-9-612h9m-9-44h9m-9 620h9m-9 75h9m-9-1304h9m-9 17h9m-9 7h9m-9 584h9m-9 676h9m-8-9h9m-9 18h9m-9-56h9m-8-588h9m-9-636h9m-9 619h9m-9 628h9m-9-28h9m-9-1212h9m-8-16h9m-9 31h9m-9 1268h9m-9-1307h9m-9 628h9m-9 50h9m-9-92h9m-8-553h9m-9 0h9m-9 611h9m-9-45h9m-9 76h9m-9-646h9m-9-15h9m-9 594h9m-9-3h9m-9-609h9m-8 627h9m-9-633h9m-9-9h9m-9 1280h9m-9-1222h9m-9 1203h9m-9-1228h9m-9 609h9m-8-585h9m-9 1198h9m-9 10h9m-9-619h9m-9-617h9m-9 1293h9m-9-54h9m-9-635h9m-8 667h9m-9-12h9m-9-1241h9m-9 1246h9m-9-684h9m-9-567h9m-8 1239h9m-9-684h9m-9 683h9m-9-1266h9m-9 1318h9m-8-13h9m-9-649h9m-9 634h9m-9-711h9m-9-554h9m-9-33h9m-9 658h9m-8-596h9m-9 582h9m-9-604h9m-9 578h9m-8 20h9m-9-2h9m-9 17h9m-9-20h9m-9 647h9m-9-656h9m-9 684h9m-8-1225h9m-9 1220h9m-9-1281h9m-9 15h9m-9 1255h9m-9-1241h9m-8 9h9m-9 1235h9m-9-1238h9m-9 546h9m-9-570h9m-9 12h9m-9 623h9m-9 612h9m-8 16h9m-9-1289h9m-9-8h9m-9 661h9m-9-646h9m-9 641h9m-9-612h9m-9 1260h9m-9-687h9m-9 68h9m-9-651h9m-8-56h9m-9 49h9m-9 24h9m-9 1262h9m-9-28h9m-8-1131h9m-9 471h9m-9 653h9m-9-1264h9m-9 1262h9m-8-661h9m-9 699h9m-9-1262h9m-9 548h9m-9 661h9m-8-1249h9m-9 556h9m-9-600h9m-9 1317h9m-9-1273h9m-9-17h9m-9 36h9m-8 613h9m-9 642h9m-9-637h9m-9-615h9m-9 573h9m-9 1h9m-9-561h9m-9-5h9m-9 1219h9m-8-1255h9m-9 1284h9m-9-1249h9m-9 25h9m-9 583h9m-9 14h9m-9-652h9m-8 57h9m-9 571h9m-9-10h9m-9 666h9m-9-1245h9m-9 596h9m-8-609h9m-9 1285h9m-9-1276h9m-9 1242h9m-8-629h9m-9 628h9m-9-604h9m-9-59h9m-9 661h9m-9-626h9m-9-33h9m-8 661h9m-9-1208h9m-9 1224h9m-9-670h9m-9-29h9m-8 689h9m-9-672h9m-9 4h9m-9 666h9m-8-668h9m-9 30h9m-9 2h9m-9 631h9m-9-12h9m-9-24h9m-9 20h9m-9-1228h9m-8 18h9m-9 1232h9m-9-557h9m-9-651h9m-9 510h9m-8-589h9m-9-18h9m-9 1301h9m-9-1221h9m-9-27h9m-9-7h9m-8 6h9m-9 1234h9m-9-657h9m-9 670h9m-9-21h9m-9 24h9m-8-1293h9m-9 2h9m-9 1282h9m-9-1215h9m-9-30h9m-8 570h9m-9-596h9m-9 593h9m-9 677h9m-9 43h9m-8-1299h9m-9 1242h9m-9 10h9m-9 16h9m-9-24h9m-9-1227h9m-9 7h9m-9-9h9m-9 1253h9m-8-26h9m-9-625h9m-9-623h9m-9 1269h9m-9-1243h9m-8 568h9m-9-561h9m-9 543h9m-9 700h9m-9-1231h9m-9-4h9m-9 587h9m-9 613h9m-9-602h9m-9-616h9m-8 619h9m-9 620h9m-9-665h9m-9 675h9m-9-16h9m-9-694h9m-9-536h9m-9 605h9m-8-650h9m-9 58h9m-9 551h9m-9-653h9m-9 605h9m-9-533h9m-9 28h9m-9 9h9m-9 566h9m-9 4h9m-9 0h9m-9-571h9m-8 606h9m-9-22h9m-9-604h9m-9 6h9m-8 5h9m-9 1246h9m-9-626h9m-9-13h9m-9 654h9m-8-676h9m-9-16h9m-9 668h9m-9-668h9m-9 665h9m-9-669h9m-9 23h9m-8-14h9m-9 46h9m-9 627h9m-9-2h9m-9-41h9m-9 15h9m-9-615h9m-9-593h9m-9 614h9m-9 637h9m-9-699h9m-8 694h9m-9-1269h9m-9 593h9m-9-596h9m-8 1234h9m-9-1243h9m-9 615h9m-8-604h9m-9 1249h9m-9-682h9m-9 20h9m-8-570h9m-9-27h9m-9-13h9m-9 1262h9m-9-636h9m-9-639h9m-8 30h9m-9 1266h9m-9-1h9m-9-25h9m-9 33h9m-9-30h9m-9 9h9m-8-4h9m-9-667h9m-9 707h9m-9-1266h9m-9 1237h9m-9-650h9m-9-624h9m-9-15h9m-9 30h9m-9 1278h9m-9-647h9m-9 601h9m-8 24h9m-9-1260h9m-9 1246h9m-9-640h9m-9-586h9m-9 1226h9m-8-3h9m-9 6h9m-9 5h9m-9-644h9m-8 591h9m-9 87h9m-9-1237h9m-9 1243h9m-9-692h9m-9 687h9m-8-1336h9m-9 670h9m-9-585h9m-9 1225h9m-9-14h9m-9-603h9m-8-637h9m-9 1253h9m-9-1284h9m-9 30h9m-8-47h9m-9-34h9m-9 686h9m-9-640h9m-9 15h9m-8 1275h9m-9-649h9m-9 664h9m-9-1h9m-9-50h9m-8-638h9m-9 664h9m-9-1225h9m-9 614h9m-9-649h9m-8 1254h9m-9-4h9m-9 28h9m-9-1239h9m-9-11h9m-8 1210h9m-9 33h9m-9-653h9m-9 1h9m-9-7h9m-9 18h9m-9-572h9m-9 532h9m-8 647h9m-9-1200h9m-9 1236h9m-9-1295h9m-8 649h9m-9-601h9m-9 1235h9m-9-644h9m-9 654h9m-9 4h9m-9 7h9m-8-682h9m-9 654h9m-9 44h9m-9-95h9m-9 62h9m-9-1295h9m-9 1299h9m-9-633h9m-8-2h9m-9 633h9m-9-1288h9m-8 645h9m-9-634h9m-9 1258h9m-9-578h9m-9 576h9m-8 17h9m-9-648h9m-9-627h9m-9 1289h9m-9-42h9m-9-652h9m-9 676h9m-9 8h9m-8-1231h9m-9 548h9m-9-549h9m-9 637h9m-9-64h9m-9-585h9m-8 625h9m-9-698h9m-9 704h9m-8 613h9m-9-658h9m-9-612h9m-9 1242h9m-9 34h9m-8-1259h9m-9 610h9m-9 641h9m-9-634h9m-9 602h9m-9-671h9m-8 72h9m-9-33h9m-9 6h9m-9-581h9m-9 1249h9m-9-655h9m-9 555h9m-8 68h9m-9 36h9m-9-1283h9m-8 17h9m-9 4h9m-9 1276h9m-9-1279h9m-9 1246h9m-9-16h9m-9 18h9m-8-7h9m-9 33h9m-9-664h9m-8-585h9m-9 1252h9m-9-12h9m-9-3h9m-9-19h9m-9-655h9m-9-531h9m-9 1212h9m-8-694h9m-9 20h9m-9 658h9m-9-631h9m-9-12h9m-9-18h9m-9 640h9m-8 3h9m-9-612h9m-9 627h9m-9 1h9m-9-642h9m-8-31h9m-9 59h9m-9-81h9m-9-550h9m-9-6h9m-8 631h9m-9-641h9m-9 37h9m-9 618h9m-9-68h9m-9-573h9m-9 622h9m-9-21h9m-9-618h9m-8-3h9m-9-1h9m-9 1277h9m-9-1258h9m-9 616h9m-9 5h9m-9-608h9m-8 1213h9m-9-1205h9m-9 1246h9m-9-21h9m-8-5h9m-9-738h9m-9 747h9m-9-6h9m-9-672h9m-9 43h9m-8 620h9m-9-1236h9m-9 1232h9m-9-665h9m-9 21h9m-9 681h9m-9-1254h9m-9-2h9m-9-42h9m-9 618h9m-9 669h9m-9-7h9m-9-1281h9m-9 637h9m-8-601h9m-9 1232h9m-9-634h9m-9 23h9m-8-16h9m-9 621h9m-9-4h9m-9-1216h9m-9 575h9m-9 677h9m-9-1249h9m-8 1232h9m-9-605h9m-9 9h9m-9-707h9m-9 671h9m-9 631h9m-9-630h9m-8-622h9m-9 1257h9m-9-636h9m-9 613h9m-9-617h9m-9-57h9m-9-592h9m-9 628h9m-9 649h9m-8-639h9m-9-9h9m-9-615h9m-9 636h9m-9 3h9m-9-14h9m-9 655h9m-8-1273h9m-9 1276h9m-9-691h9m-9-537h9m-9 1218h9m-8-1299h9m-9 1301h9m-9-1278h9m-9 4h9m-9 642h9m-9-657h9m-9 1262h9m-8-1201h9m-9 645h9m-8-700h9m-9 631h9m-9 654h9m-9-1323h9m-8 1338h9m-9-724h9m-9-530h9m-9 7h9m-9 1220h9m-8-1246h9m-9 1213h9m-8 63h9m-9-642h9m-9 645h9m-9-1253h9m-9 591h9m-9-564h9m-9 526h9m-8 55h9m-9-671h9m-8 610h9m-9 718h9m-9-1271h9m-9 1237h9m-9 8h9m-9 11h9m-8-1243h9m-9 1240h9m-9-41h9m-9 74h9m-9-35h9m-9-1266h9m-9 605h9m-9-596h9m-8 550h9m-9 688h9m-9-14h9m-8-632h9m-9-622h9m-9 1275h9m-9-662h9m-9-600h9m-9-25h9m-8 688h9m-9 613h9m-9-634h9m-9-8h9m-9-624h9m-9 22h9m-9-81h9m-9 117h9m-8 448h9m-9 101h9m-9 694h9m-9-58h9m-9 15h9m-8-10h9m-9-1222h9m-9-65h9m-9 52h9m-9-26h9m-9 49h9m-9 1219h9m-8 22h9m-9-711h9m-9-584h9m-9-14h9m-9 53h9m-9-32h9m-9 626h9m-9-11h9m-8 664h9m-9-24h9m-9-680h9m-9 636h9m-9-684h9m-8 103h9m-9 6h9m-9 620h9m-9-1270h9m-9 615h9m-9-599h9m-9 615h9m-9-18h9m-9 678h9m-8-31h9m-9-60h9m-9 70h9m-9 9h9m-9-8h9m-9-627h9m-8-657h9m-9 15h9m-9 1270h9m-9-1252h9m-9 1252h9m-9-1284h9m-9 62h9m-9 1226h9m-8-611h9m-9-46h9m-9-607h9m-9 632h9m-9-604h9m-9 11h9m-8 633h9m-9 524h9m-9-1167h9m-9 634h9m-9 580h9m-9-1200h9m-8 555h9m-9-627h9m-9 1295h9m-9 5h9m-9 3h9m-9-663h9m-9-575h9m-9 570h9m-9 36h9m-9 623h9m-9 15h9m-8-670h9m-9-585h9m-9 561h9m-9 658h9m-9 45h9m-9-53h9m-8 10h9m-9-666h9m-9-554h9m-9-23h9m-9 565h9m-8 684h9m-9 55h9m-9-56h9m-9-622h9m-8 633h9m-9-629h9m-9-638h9m-9 1256h9m-9-1275h9m-9 37h9m-8 1221h9m-9 41h9m-9-653h9m-9-22h9m-9-580h9m-9 1241h9m-9-1263h9m-9 582h9m-9-581h9m-8-48h9m-9 51h9m-9-19h9m-9 39h9m-9 1231h9m-9-1230h9m-9-26h9m-8 1239h9m-9-1249h9m-9 1269h9m-9-664h9m-9-2h9m-9-601h9m-8 25h9m-9 29h9m-9 1221h9m-9-607h9m-9-615h9m-9 554h9m-8 2h9m-9 644h9m-9-661h9m-9 638h9m-8-1179h9m-9-7h9m-9 1208h9m-9-617h9m-9 653h9m-8-696h9m-9-540h9m-9-97h9m-9 651h9m-9-589h9m-8 5h9m-9 574h9m-9 698h9m-9-1267h9m-9 19h9m-9 551h9m-9-571h9m-8 541h9m-9 697h9m-9-1237h9m-9 1288h9m-8-27h9m-9-3h9m-9-1247h9m-9 1248h9m-8-1263h9m-9 694h9m-9-722h9m-9 644h9m-9 660h9m-8-1252h9m-9-36h9m-9 1247h9m-9-1269h9m-9-30h9m-9 1315h9m-9-1257h9m-8 608h9m-9 17h9m-9-37h9m-9 36h9m-9 616h9m-9-1241h9m-9 1242h9m-8 18h9m-9-1255h9m-9-25h9m-9 653h9m-9 601h9m-9-21h9m-9 44h9m-9 24h9m-9-688h9m-9 27h9m-9-673h9m-9 1308h9m-9 29h9m-9-645h9m-9 609h9m-8-3h9m-9-1263h9m-8 1282h9m-9-51h9m-9-605h9m-9 616h9m-8-1259h9m-9 23h9m-9 1h9m-9 1286h9m-8-11h9m-9-1272h9m-9 643h9m-9-632h9m-9 638h9m-9 633h9m-9-1274h9m-9 1202h9m-9 59h9m-9-1266h9m-8 1252h9m-9 2h9m-9-1250h9m-9 1234h9m-9-683h9m-9 707h9m-8-1261h9m-9 0h9m-9 630h9m-8 612h9m-9 0h9m-9-1236h9m-9 1257h9m-9-1228h9m-9 1171h9m-9-605h9m-9 665h9m-9-1262h9m-8-33h9m-9 637h9m-9 2h9m-9 631h9m-9-1238h9m-9 635h9m-9 593h9m-9 25h9m-8-1279h9m-9 672h9m-9-2h9m-9-26h9m-9 636h9m-9-662h9m-9-559h9m-9 584h9m-9 675h9m-9-1341h9m-8 1264h9m-9-560h9m-9-41h9m-9 623h9m-9-1233h9m-8 1276h9m-9-663h9m-9 661h9m-9-23h9m-9-641h9m-9-26h9m-9-568h9m-9 1239h9m-9-666h9m-8-609h9m-9 45h9m-9-83h9m-9 656h9m-9-619h9m-9 20h9m-9 2h9m-9 610h9m-9-599h9m-9 618h9m-9-31h9m-8 655h9m-9 14h9m-9-1278h9m-9 4h9m-9-45h9m-9 638h9m-9-28h9m-8-506h9m-9-49h9m-9-57h9m-9 87h9m-9-29h9m-9 638h9m-8-50h9m-9-602h9m-9-25h9m-9 685h9m-8 579h9m-9-1205h9m-9 551h9m-8-546h9m-9 1221h9m-9-1288h9m-9 42h9m-9-10h9m-9 604h9m-9 1h9m-9 648h9m-9-11h9m-9-9h9m-9-607h9m-8 670h9m-9-680h9m-9-7h9m-9 613h9m-9-634h9m-9 646h9m-9-582h9m-9 625h9m-9-8h9m-9-1236h9m-9-67h9m-8 1280h9m-9-652h9m-9-2h9m-8 18h9m-9 14h9m-9-586h9m-9-135h9m-9 740h9m-9 8h9m-9 609h9m-9-601h9m-9-108h9m-9 38h9m-9 26h9m-9 663h9m-8-654h9m-9-32h9m-9-586h9m-9 591h9m-9 682h9m-9-692h9m-9 652h9m-9 16h9m-8 41h9m-9-29h9m-9-1258h9m-9-6h9m-9-13h9m-9 588h9m-9-526h9m-9-22h9m-8 1252h9m-9-11h9m-9-43h9m-9-637h9m-9-596h9m-9 631h9m-9 622h9m-8-661h9m-9-598h9m-9 1289h9m-9-1287h9m-9 629h9m-9 645h9m-9-660h9m-9-13h9m-9 21h9m-8 640h9m-9-1271h9m-9 627h9m-9-598h9m-9 1242h9m-9-29h9m-9-661h9m-9 690h9m-9-17h9m-8-1248h9m-9 18h9m-9 1240h9m-9-1203h9m-9 1194h9m-9-602h9m-8-2h9m-9-605h9m-9 1245h9m-9-11h9m-9-647h9m-9 50h9m-9 571h9m-8-1233h9m-9 0h9m-9 1250h9m-9-6h9m-9-1246h9m-9-6h9m-9 46h9m-9 562h9m-8-554h9m-9-39h9m-9 567h9m-9-567h9m-9 591h9m-9-623h9m-9 58h9m-9-21h9m-8 82h9m-9 516h9m-9 638h9m-9-1266h9m-9 1285h9m-9-25h9m-9-620h9m-8 636h9m-9-16h9m-9 11h9m-9-1275h9m-9 31h9m-9 1234h9m-9-1232h9m-8 596h9m-9 657h9m-9-681h9m-9-589h9m-9 635h9m-9-8h9m-8 8h9m-9 635h9m-9-699h9m-9 35h9m-9-9h9m-9-575h9m-9 591h9m-9-558h9m-9 513h9m-8 698h9m-9-4h9m-9 12h9m-9-1266h9m-9-81h9m-9 1335h9m-9-630h9m-9-648h9m-8 97h9m-9 1190h9m-9 1h9m-9-1282h9m-9 41h9m-9 1226h9m-8-645h9m-9 652h9m-9-12h9m-9-7h9m-9-612h9m-9-36h9m-9 672h9m-9-5h9m-8 6h9m-9-1251h9m-9 9h9m-9 589h9m-9-625h9m-9-28h9m-9 1310h9m-9-32h9m-9-1240h9m-8 43h9m-9-66h9m-9 660h9m-9-649h9m-8 1296h9m-9-1298h9m-9 1271h9m-9-20h9m-8-1325h9m-9 1348h9m-9-685h9m-9 56h9m-8 622h9m-9-1231h9m-9 573h9m-9 26h9m-9 614h9m-9-1252h9m-9 1293h9m-9-34h9m-8 23h9m-9-656h9m-9-585h9m-9 29h9m-9-47h9m-8 1297h9m-9-640h9m-9 608h9m-9-1284h9m-9 1272h9m-9-4h9m-9-1226h9m-8 1219h9m-9-1276h9m-9 1284h9m-9-646h9m-9-607h9m-9 1260h9m-9-688h9m-8-549h9m-9-7h9m-9 626h9m-9 615h9m-8 14h9m-9 6h9m-9-1292h9m-9 1299h9m-9-751h9m-9 741h9m-9-710h9m-9 128h9m-8-94h9m-9 40h9m-9 631h9m-9-30h9m-9-1233h9m-9 1227h9m-8-621h9m-9 647h9m-9-1239h9m-9 1251h9m-9-24h9m-9-23h9m-9-1239h9m-9 4h9m-9 1240h9m-9-1212h9m-8 584h9m-9-565h9m-9 1232h9m-9-18h9m-9-635h9m-9 630h9m-9-644h9m-9 32h9m-9-13h9m-9 621h9m-8-1270h9m-9 638h9m-9-597h9m-9 636h9m-9-47h9m-9-587h9m-9-5h9m-8-35h9m-9 61h9m-9 1215h9m-9 2h9m-9-642h9m-9 637h9m-9-15h9m-8-613h9m-9 625h9m-9 15h9m-9-653h9m-9-600h9m-9 1206h9m-9 45h9m-8-32h9m-9-1228h9m-9 1253h9m-9-1246h9m-9 562h9m-9 25h9m-9-605h9m-8 1241h9m-9 15h9m-9-614h9m-9 656h9m-9-1288h9m-9 600h9m-9 38h9m-9-24h9m-9 645h9m-9-1281h9m-9 642h9m-9-21h9m-8-565h9m-9-19h9m-9 629h9m-9-631h9m-9 1253h9m-9 1h9m-9-1266h9m-9 575h9m-9-582h9m-9 601h9m-8 670h9m-9-1241h9m-9 1250h9m-9-1293h9m-8 1300h9m-9-1323h9m-9 33h9m-9 1251h9m-9-1254h9m-9 1249h9m-9-674h9m-9 18h9m-8 702h9m-9-19h9m-9-1283h9m-9 634h9m-9-574h9m-9 1235h9m-9-1260h9m-8 1238h9m-9 2h9m-9-624h9m-9 9h9m-9 631h9m-9-5h9m-9-549h9m-8-690h9m-9-19h9m-9 30h9m-9-3h9m-9 1227h9m-9-670h9m-9-635h9m-8 1294h9m-9-636h9m-8 14h9m-9 690h9m-9-682h9m-9-20h9m-9 675h9m-9-1296h9m-9 645h9m-8-37h9m-9 677h9m-9 7h9m-9-1282h9m-8 1216h9m-9-609h9m-9 651h9m-9-688h9m-8 716h9m-9-35h9m-9-622h9m-9 17h9m-9 603h9m-9-680h9m-9 46h9m-8-3h9m-9 629h9m-9-629h9m-9 624h9m-9-1254h9m-9 618h9m-9 625h9m-9-1190h9m-9 566h9m-8-30h9m-9 661h9m-9-1228h9m-9 1263h9m-9-662h9m-9-77h9m-9 702h9m-8-610h9m-9 15h9m-9-109h9m-9-582h9m-9 645h9m-9-588h9m-8 607h9m-9-601h9m-9-13h9m-9 624h9m-9-10h9m-9 634h9m-8 3h9m-9-657h9m-9-564h9m-9 1215h9m-9-1212h9m-9 23h9m-9 573h9m-8-677h9m-9 648h9m-9-577h9m-9 1227h9m-9-1231h9m-9 1252h9m-9-644h9m-8 612h9m-9 8h9m-9 23h9m-9 3h9m-9-1274h9m-8 24h9m-9 648h9m-9-32h9m-8-672h9m-9 1278h9m-9 1h9m-9 49h9m-8-26h9m-9-47h9m-9-626h9m-9 664h9m-9-675h9m-9 628h9m-8-598h9m-9 626h9m-9-649h9m-9-636h9m-9 636h9m-9-570h9m-9 551h9m-9-577h9m-8 531h9m-9-570h9m-9 1288h9m-9-734h9m-9 765h9m-9-699h9m-9-9h9m-9-552h9m-9 1231h9m-8 15h9m-9-13h9m-9 5h9m-9-1251h9m-9 544h9m-9-585h9m-9 32h9m-9 7h9m-9 40h9m-9 500h9m-9-22h9m-8 741h9m-9-19h9m-9-3h9m-9-668h9m-9-18h9m-9-527h9m-9 1241h9m-9-1228h9m-8-16h9m-9 1269h9m-9-684h9m-9 10h9m-8 642h9m-9-1227h9m-9-36h9m-9 521h9m-9 91h9m-9-24h9m-9-567h9m-8-19h9m-9 566h9m-9 699h9m-9-674h9m-9 670h9m-9-46h9m-9-672h9m-9 675h9m-9 50h9m-9-714h9m-9 729h9m-9-1279h9m-9 532h9m-8-545h9m-9 561h9m-9 699h9m-9-1210h9m-9-19h9m-9 524h9m-9-537h9m-9 1267h9m-9-728h9m-9-20h9m-8-520h9m-9-36h9m-9 14h9m-9 16h9m-9 579h9m-9-4h9m-9 685h9m-9-1259h9m-8 22h9m-9 520h9m-9-504h9m-9 1212h9m-9-1213h9m-8 504h9m-9-592h9m-9 84h9m-9 523h9m-9 698h9m-9-643h9m-9-516h9m-9-77h9m-8 542h9m-9-595h9m-9 24h9m-9 1289h9m-9-705h9m-8 0h9m-9-563h9m-9-26h9m-9 514h9m-9 736h9m-9-656h9m-8-571h9m-9-13h9m-9 37h9m-9 1228h9m-9-700h9m-9 57h9m-9-626h9m-9 5h9m-8 1245h9m-9-7h9m-9-632h9m-9 659h9m-9-20h9m-9-647h9m-9 655h9m-9-665h9m-9 677h9m-9-728h9m-8-523h9m-9 27h9m-9-10h9m-8 1244h9m-9-731h9m-9 712h9m-9 2h9m-9-13h9m-9-1287h9m-8 1326h9m-9-1241h9m-9 1190h9m-8-1236h9m-9 1264h9m-9-2h9m-9 3h9m-9-1267h9m-9-37h9m-9 87h9m-8 1201h9m-9 6h9m-9-1254h9m-9 564h9m-9 708h9m-9-1276h9m-9 82h9m-9 499h9m-8 686h9m-9-1219h9m-9-5h9m-9 40h9m-9-75h9m-9 598h9m-8 631h9m-9 31h9m-9-57h9m-9-1220h9m-9 44h9m-9 543h9m-9 24h9m-8-34h9m-9-615h9m-9 645h9m-9-12h9m-9 670h9m-8-680h9m-9-33h9m-8-553h9m-9 1271h9m-9-16h9m-9-1229h9m-9-33h9m-9 561h9m-9 3h9m-8 734h9m-9-23h9m-9-1210h9m-9 1217h9m-9-685h9m-9-66h9m-9 62h9m-9-583h9m-9 34h9m-9 522h9m-9 1h9m-8 709h9m-9-1272h9m-9 1289h9m-9-13h9m-8-2h9m-9-707h9m-9-485h9m-9 1215h9m-9-720h9m-9 702h9m-9-656h9m-9-76h9m-8-534h9m-9 1262h9m-9 13h9m-9-703h9m-9-5h9m-9 729h9m-8-739h9m-9 10h9m-9 45h9m-9 6h9m-9-30h9m-9-23h9m-9-546h9m-9 18h9m-9 1240h9m-8-31h9m-9-616h9m-9 659h9m-9-737h9m-9 711h9m-8-670h9m-9 682h9m-9-6h9m-9-1259h9m-9 26h9m-9 573h9m-9-605h9m-8 556h9m-9-519h9m-9 554h9m-9-574h9m-9 582h9m-9 689h9m-8-712h9m-9-591h9m-9 567h9m-9-568h9m-9 1291h9m-9-22h9m-9-639h9m-9-42h9m-9 8h9m-9-576h9m-9 1241h9m-8-1196h9m-9 1224h9m-9-1248h9m-9 1247h9m-8-1267h9m-9 1289h9m-9-1341h9m-9 1256h9m-9-626h9m-9-48h9m-9-552h9m-9 56h9m-9 538h9m-9 696h9m-8-1239h9m-9 1234h9m-9-667h9m-9-535h9m-9 506h9m-9-556h9m-8 527h9m-9 733h9m-9-687h9m-9 675h9m-9-25h9m-9-684h9m-9-9h9m-9 14h9m-9-54h9m-9-553h9m-9 110h9m-8 21h9m-9 1185h9m-9-9h9m-9 25h9m-9-14h9m-9-1273h9m-8 1270h9m-9-1276h9m-9-44h9m-9 615h9m-9 680h9m-9-1275h9m-8 82h9m-9 531h9m-8 7h9m-9-59h9m-9-537h9m-9 541h9m-9-545h9m-9 588h9m-9 693h9m-9-13h9m-9-680h9m-8 716h9m-9-691h9m-9-657h9m-9 641h9m-9-45h9m-9 693h9m-9 12h9m-9-4h9m-8-645h9m-9 655h9m-9-1212h9m-8-34h9m-9 561h9m-9 691h9m-9-1249h9m-9 537h9m-9-533h9m-9 564h9m-8-499h9m-9-52h9m-9 1245h9m-9-1226h9m-9 481h9m-9 20h9m-9-524h9m-9 1212h9m-9-656h9m-9-27h9m-8-563h9m-9 590h9m-9-583h9m-9 587h9m-9 689h9m-9-3h9m-9-1281h9m-9 30h9m-8 5h9m-9-5h9m-9-12h9m-9 3h9m-9 579h9m-9-521h9m-9 1218h9m-9-38h9m-8-1245h9m-9 566h9m-9 46h9m-9 652h9m-9 32h9m-9-1326h9m-9 644h9m-9-614h9m-8 1295h9m-9-51h9m-9-1h9m-9-1282h9m-9 1291h9m-9-3h9m-9-670h9m-9 18h9m-8-55h9m-9-560h9m-9 1293h9m-9 2h9m-9-18h9m-9-684h9m-9 673h9m-9 30h9m-8-1236h9m-9-26h9m-9-5h9m-9 4h9m-9-42h9m-9 583h9m-9 691h9m-8-691h9m-9 727h9m-9-1268h9m-8 1259h9m-9-21h9m-9 13h9m-9 26h9m-9-11h9m-8-719h9m-9 36h9m-9-2h9m-9-560h9m-9 538h9m-9 680h9m-9 15h9m-8-731h9m-9-590h9m-9 1329h9m-9-719h9m-9-522h9m-9 1232h9m-9-1260h9m-9 1253h9m-9-3h9m-9-673h9m-9-591h9m-9 573h9m-9-549h9m-8 1251h9m-9-21h9m-9-694h9m-9 740h9m-8-680h9m-9-572h9m-9 514h9m-9 723h9m-9-53h9m-9-1191h9m-8 527h9m-9 48h9m-9-52h9m-9 688h9m-9 15h9m-9 19h9m-9-41h9m-8-1229h9m-9 562h9m-9-30h9m-9-548h9m-9 1260h9m-9-703h9m-9 15h9m-9 16h9m-9 692h9m-9-668h9m-8-590h9m-9 522h9m-9-524h9m-9 524h9m-9 739h9m-9-706h9m-8-538h9m-9 524h9m-9 692h9m-8 8h9m-9-649h9m-9-42h9m-9 42h9m-9-615h9m-9 544h9m-9 718h9m-9-1243h9m-9 1263h9m-8-1262h9m-9 1274h9m-9-1271h9m-9 603h9m-9-58h9m-9 9h9m-9 711h9m-9-1269h9m-9 580h9m-8-577h9m-9 25h9m-9 1216h9m-9 14h9m-9-1270h9m-8 1248h9m-9-1232h9m-9-1h9m-9-36h9m-9 1270h9m-8-660h9m-9 37h9m-9-63h9m-9-499h9m-9 1210h9m-9-726h9m-8-511h9m-9 489h9m-9 743h9m-9-1275h9m-9 18h9m-8 546h9m-9-15h9m-9-521h9m-9-34h9m-9 1266h9m-9-715h9m-9 718h9m-9-709h9m-9 72h9m-9 637h9m-8-701h9m-9-500h9m-9 522h9m-9 25h9m-9-668h9m-8 33h9m-9 624h9m-9-580h9m-9 1230h9m-9-1234h9m-9 568h9m-9-581h9m-9 560h9m-9 735h9m-9-760h9m-9 745h9m-9-611h9m-8-678h9m-9 568h9m-9-566h9m-9 24h9m-9 1245h9m-9 22h9m-9-700h9m-9-614h9m-8 577h9m-9 711h9m-9-724h9m-9 752h9m-9-29h9m-9-1273h9m-9 604h9m-8-629h9m-9 1320h9m-9-725h9m-9-544h9m-9 11h9m-9 4h9m-8 1271h9m-9-1254h9m-9 540h9m-9-555h9m-9 543h9m-8 688h9m-9-1254h9m-9-31h9m-9 1305h9m-9-1207h9m-9-13h9m-9 526h9m-8 9h9m-9-27h9m-9 33h9m-8 663h9m-9-674h9m-9 691h9m-9-1309h9m-9 608h9m-9 9h9m-9 699h9m-9-1244h9m-9 562h9m-9-62h9m-9-502h9m-8 1250h9m-9-1326h9m-9 1327h9m-9-749h9m-9 689h9m-9-117h9m-9-1121h9m-9 28h9m-9 1067h9m-9-1062h9m-8-24h9m-9 1087h9m-9-484h9m-9 538h9m-9-599h9m-9 49h9m-9-614h9m-8 702h9m-9-658h9m-9 510h9m-9 54h9m-9 500h9m-9-1055h9m-9 1028h9m-9-448h9m-9 483h9m-9-1069h9m-9-31h9m-9 1086h9m-8-508h9m-9-13h9m-9 515h9m-9-26h9m-9-1026h9m-9 534h9m-9-557h9m-8 621h9m-9 476h9m-9-538h9m-9 20h9m-9 489h9m-9-1033h9m-9 553h9m-9-530h9m-9 1025h9m-9-507h9m-8-482h9m-9-41h9m-9 551h9m-9-620h9m-9 540h9m-9-495h9m-9 509h9m-8 605h9m-9-570h9m-9 505h9m-9-1026h9m-9 1052h9m-9-1087h9m-9-26h9m-9 60h9m-8 543h9m-9-30h9m-9 31h9m-9-7h9m-9 512h9m-9 5h9m-9-1054h9m-9 530h9m-8-52h9m-9 69h9m-9 481h9m-9 4h9m-9-493h9m-9-591h9m-8 591h9m-9-534h9m-9 1080h9m-9-51h9m-9 4h9m-8-524h9m-9 540h9m-9-507h9m-9 22h9m-9-598h9m-9-21h9m-9 1089h9m-8-1066h9m-9 1051h9m-9-483h9m-9 0h9m-9-53h9m-9 39h9m-8-577h9m-9 1061h9m-9 37h9m-9 16h9m-8-1078h9m-9 545h9m-9 55h9m-9-76h9m-9-541h9m-9 631h9m-9 430h9m-9-1048h9m-8-41h9m-9 57h9m-9 1045h9m-9-1104h9m-9 580h9m-9 515h9m-9-508h9m-9 36h9m-8-629h9m-9 1124h9m-9-1093h9m-9 1077h9m-9-1045h9m-9-37h9m-9 532h9m-8 31h9m-9-578h9m-9 48h9m-9 1039h9m-9-563h9m-9 565h9m-8-458h9m-9-18h9m-9-16h9m-9-549h9m-9-5h9m-9 19h9m-8-57h9m-9 11h9m-9 547h9m-9 572h9m-9-1107h9m-8 1060h9m-9-3h9m-9-494h9m-9-510h9m-9 397h9m-9-529h9m-8 1157h9m-9-519h9m-9 516h9m-9-540h9m-9-548h9m-9-3h9m-9 559h9m-9 520h9m-8-475h9m-9-546h9m-9-53h9m-8 67h9m-9 457h9m-9 42h9m-9-637h9m-9 52h9m-9 35h9m-9 1070h9m-8-1070h9m-9-20h9m-9 528h9m-9 580h9m-9-509h9m-9-28h9m-9-581h9m-9 2h9m-9 1078h9m-8-1086h9m-9-4h9m-9 32h9m-9 31h9m-9 1083h9m-9-1086h9m-9 1024h9m-9-1051h9m-9-50h9m-8 42h9m-9-17h9m-9 1083h9m-9 18h9m-9-18h9m-9-1076h9m-8 1083h9m-9 15h9m-9-51h9m-9-467h9m-9 16h9m-9 508h9m-9-491h9m-9 10h9m-8-5h9m-9 451h9m-9-33h9m-9-1046h9m-9 55h9m-9 1055h9m-8-53h9m-9-7h9m-9-1050h9m-9 593h9m-9-500h9m-9 1015h9m-9-1110h9m-9 1066h9m-8-477h9m-9-13h9m-9-27h9m-9-545h9m-9-4h9m-9 45h9m-9-13h9m-9 681h9m-9 373h9m-8-536h9m-9-555h9m-9 44h9m-9 531h9m-9 33h9m-9-45h9m-9 539h9m-9-24h9m-9-511h9m-9-537h9m-8 37h9m-9 1054h9m-9 11h9m-9-4h9m-9-36h9m-9-1059h9m-8 1040h9m-9 120h9m-9-111h9m-9-1068h9m-9-6h9m-9 566h9m-9-489h9m-8 1007h9m-9-496h9m-9-1h9m-9 515h9m-9-25h9m-8 26h9m-9-1078h9m-9-5h9m-9-22h9m-9 604h9m-8 497h9m-9-17h9m-9-1123h9m-9 76h9m-9 1021h9m-9-517h9m-9-492h9m-9 19h9m-9-60h9m-9 46h9m-9-77h9m-8 21h9m-9 1083h9m-9-529h9m-9 555h9m-9-29h9m-9-478h9m-9-506h9m-9 463h9m-9 550h9m-9-547h9m-8-541h9m-9 1075h9m-9-521h9m-9 550h9m-9-1105h9m-8 51h9m-9 1022h9m-9-513h9m-9-7h9m-9 503h9m-9-1074h9m-9 1115h9m-9-1076h9m-8 608h9m-9-680h9m-9 596h9m-9-556h9m-9 562h9m-9 525h9m-9 0h9m-9-497h9m-9-42h9m-8 566h9m-9-1096h9m-9 580h9m-9-572h9m-9 488h9m-9 89h9m-9-604h9m-9 52h9m-9 529h9m-8-31h9m-9-552h9m-9 596h9m-9-564h9m-8 8h9m-9 1068h9m-9-1066h9m-9-13h9m-9 1041h9m-9-512h9m-8-6h9m-9 536h9m-9-504h9m-9 21h9m-9-37h9m-9 19h9m-9 491h9m-8-1016h9m-9 3h9m-9-27h9m-9 1053h9m-9-476h9m-8-557h9m-9 1038h9m-9-1070h9m-9 1061h9m-9 34h9m-9-565h9m-9-575h9m-8 1115h9m-9-482h9m-9-582h9m-9 1049h9m-9 21h9m-8-487h9m-9-18h9m-9 1h9m-9-586h9m-9 1093h9m-8-1063h9m-9-40h9m-9 1071h9m-9-498h9m-9-534h9m-9 525h9m-9-554h9m-8 66h9m-9-30h9m-9 1049h9m-9-1093h9m-8-20h9m-9 35h9m-9 550h9m-9 500h9m-9-971h9m-9 1008h9m-9-44h9m-9-1043h9m-9 1065h9m-8 0h9m-9-584h9m-9-471h9m-9 1084h9m-9-13h9m-9-1121h9m-8 576h9m-9 41h9m-9-14h9m-9-493h9m-9 479h9m-8 16h9m-9-26h9m-9 26h9m-8 477h9m-9-1014h9m-9 538h9m-9 503h9m-8-1085h9m-9 57h9m-9 1029h9m-9-485h9m-9-4h9m-9 519h9m-8-528h9m-9-576h9m-9 1077h9m-8-493h9m-9 495h9m-9-482h9m-9-56h9m-9-512h9m-9 637h9m-9-84h9m-9-570h9m-8 18h9m-9-43h9m-9 36h9m-9-39h9m-9 568h9m-9 515h9m-9-1073h9m-9 596h9m-8-549h9m-9 531h9m-9 508h9m-9 12h9m-9-1047h9m-9 531h9m-9-554h9m-9 574h9m-9 479h9m-9-1045h9m-9 1042h9m-9 11h9m-8-8h9m-9-530h9m-9 496h9m-9 0h9m-9-503h9m-9 530h9m-9-1074h9m-8 19h9m-9 1045h9m-9 16h9m-9-559h9m-9 558h9m-9-1045h9m-9-25h9m-9 564h9m-9-19h9m-9 537h9m-8 10h9m-9-9h9m-9-524h9m-9-484h9m-9-73h9m-9 599h9m-9-25h9m-8-591h9m-9 567h9m-9-25h9m-9 530h9m-8 29h9m-9-551h9m-9 518h9m-9 21h9m-9-1078h9m-9 1033h9m-9 30h9m-9 23h9m-9-547h9m-8 33h9m-9 482h9m-9-492h9m-9-517h9m-9 1025h9m-9-1048h9m-8-12h9m-9-16h9m-9 24h9m-9 1064h9m-9-531h9m-9 50h9m-8-651h9m-9 88h9m-9 556h9m-9 470h9m-8-499h9m-9-577h9m-9 607h9m-9-58h9m-9-525h9m-9 537h9m-9-25h9m-9-537h9m-8 567h9m-9-16h9m-9 38h9m-9 470h9m-9-1003h9m-9 1021h9m-8-1098h9m-9 579h9m-9-493h9m-9-55h9m-9 1150h9m-9-74h9m-9-1040h9m-9 478h9m-8 542h9m-9-1032h9m-9 561h9m-9-611h9m-8 1098h9m-9 3h9m-9 4h9m-9-1092h9m-9 1098h9m-8-496h9m-8 468h9m-9-1027h9m-9 506h9m-9-507h9m-9 560h9m-9-536h9m-9-47h9m-9 1073h9m-9-470h9m-8 6h9m-9-588h9m-9 1030h9m-9-1062h9m-9 578h9m-9-580h9m-9 567h9m-9-575h9m-8 580h9m-9 476h9m-9-478h9m-8 504h9m-9 37h9m-9-1110h9m-9 41h9m-8 558h9m-9 449h9m-9-479h9m-9-533h9m-9 1053h9m-9-1076h9m-9 1078h9m-9-1051h9m-8 506h9m-9 54h9m-9 457h9m-9-520h9m-9 580h9m-9-547h9m-8 3h9m-9-560h9m-9-23h9m-9 1094h9m-9-491h9m-9 3h9m-8 479h9m-9-519h9m-9-532h9m-9 30h9m-9-3h9m-8-10h9m-9-44h9m-9 582h9m-8-563h9m-9 556h9m-9 30h9m-9 466h9m-8 13h9m-9 33h9m-9-621h9m-9 605h9m-9 19h9m-8-1125h9m-9 614h9m-9-597h9m-9 19h9m-9 550h9m-9 7h9m-8-15h9m-9-591h9m-9-26h9m-9 615h9m-9 19h9m-9 495h9m-9-1075h9m-8 568h9m-9 30h9m-9 502h9m-9-36h9m-9-1090h9m-9 74h9m-8 511h9m-9 10h9m-9-12h9m-9-538h9m-9-47h9m-9 47h9m-9 539h9m-9 526h9m-9-494h9m-8-597h9m-9 28h9m-9-27h9m-9-17h9m-9 578h9m-9 32h9m-8-60h9m-8-7h9m-9-512h9m-9-24h9m-9 15h9m-9 1104h9m-9-557h9m-9-3h9m-8 27h9m-9-576h9m-9 1098h9m-9-489h9m-9-8h9m-9-48h9m-8 520h9m-9-1045h9m-9 39h9m-8-77h9m-9 69h9m-9 494h9m-9 511h9m-9-1067h9m-8 611h9m-9-18h9m-9-568h9m-9 1052h9m-9-1089h9m-9-42h9m-9 620h9m-9 481h9m-8-1006h9m-9-82h9m-9 563h9m-9 50h9m-9 536h9m-8-13h9m-9-13h9m-9 13h9m-9-523h9m-9 516h9m-9-1081h9m-8 54h9m-9 486h9m-9-516h9m-9 556h9m-9 2h9m-9 36h9m-9 455h9m-9-1027h9m-9 565h9m-8-72h9m-9 509h9m-9-457h9m-9-559h9m-9-32h9m-8-13h9m-9 1103h9m-9-1087h9m-9 598h9m-9-652h9m-9 1123h9m-9 4h9m-9-1081h9m-9 27h9m-9-10h9m-8-7h9m-9 555h9m-9 18h9m-9-507h9m-9-54h9m-9 555h9m-8 10h9m-9 489h9m-9 47h9m-9-547h9m-9 521h9m-9-28h9m-9-1105h9m-9 49h9m-9 15h9m-8 1048h9m-9 30h9m-9-493h9m-9-36h9m-9 489h9m-9-1026h9m-9-4h9m-9 560h9m-9-16h9m-9 547h9m-8-1156h9m-9 50h9m-9 543h9m-9-550h9m-9-65h9m-8 639h9m-9-9h9m-9 491h9m-9-487h9m-9 499h9m-9-1099h9m-9 586h9m-9 10h9m-9-542h9m-9 555h9m-8-618h9m-9 84h9m-8 1023h9m-9-470h9m-9 501h9m-9-1094h9m-9 1041h9m-9 39h9m-8-1069h9m-9 1045h9m-9 32h9m-9-511h9m-9-84h9m-9-468h9m-8 1057h9m-9-523h9m-9 484h9m-9 20h9m-9-1081h9m-9 570h9m-9 543h9m-9-1089h9m-9-14h9m-9 1084h9m-9-18h9m-8 21h9m-9-7h9m-9-1083h9m-9 608h9m-9-579h9m-8-21h9m-9 1063h9m-9-515h9m-9-546h9m-8-20h9m-9 41h9m-9 27h9m-9 1014h9m-9-417h9m-8-50h9m-9 471h9m-9-7h9m-9-530h9m-9 62h9m-9-11h9m-9-18h9m-9-541h9m-9-76h9m-9 617h9m-9 533h9m-9-64h9m-9-509h9m-9 562h9m-9-1108h9m-9 636h9m-8-595h9m-9 1021h9m-9-459h9m-9 477h9m-9-1086h9m-9 1091h9m-8-1h9m-9-1120h9m-9 1122h9m-9-1044h9m-9-29h9m-9 607h9m-9 461h9m-8-524h9m-9 538h9m-9-539h9m-9 549h9m-9-1092h9m-9 1053h9m-9 25h9m-8 57h9m-9-1139h9m-9 11h9m-9-1h9m-9 0h9m-9-14h9m-9 669h9m-9 416h9m-9-557h9m-8-480h9m-9 1064h9m-9-1125h9m-9-11h9m-9 1099h9m-9 23h9m-9-1137h9m-9 1127h9m-8-530h9m-9 3h9m-9 29h9m-9 516h9m-9-1097h9m-9 57h9m-8-90h9m-9 583h9m-9 532h9m-9-17h9m-9-20h9m-9 29h9m-9-500h9m-9-548h9m-9-37h9m-9 593h9m-9-82h9m-8-481h9m-9 1083h9m-9-526h9m-9-555h9m-9 536h9m-9 59h9m-8 464h9m-9-1076h9m-9 1071h9m-9-490h9m-9-561h9m-9 1067h9m-9-501h9m-9-518h9m-9 524h9m-9 1h9m-9-12h9m-9 11h9m-9-26h9m-9 496h9m-8-486h9m-9-568h9m-9 598h9m-9 476h9m-9-1070h9m-9 516h9m-8-546h9m-9 82h9m-9 546h9m-9-580h9m-8 537h9m-9 521h9m-9 17h9m-9-38h9m-9-1053h9m-8 565h9m-9-594h9m-9 1102h9m-9-564h9m-8-511h9m-9 540h9m-9 27h9m-8 20h9m-9 478h9m-9-536h9m-9-544h9m-9 555h9m-9 551h9m-9-10h9m-9 6h9m-9-33h9m-9-481h9m-9 497h9m-9-537h9m-9-506h9m-9 1013h9m-8 41h9m-9-50h9m-9 8h9m-9 42h9m-9-1071h9m-8 531h9m-9 563h9m-8-1107h9m-9 601h9m-9 473h9m-9-529h9m-9 504h9m-9-485h9m-9-21h9m-8 491h9m-9 17h9m-9 11h9m-9-16h9m-9 10h9m-9-1092h9m-9 1114h9m-9-1060h9m-9 524h9m-8 501h9m-9-1077h9m-8 601h9m-9-20h9m-9 537h9m-9-14h9m-9-11h9m-8-1075h9m-9 1075h9m-9-1123h9m-9 637h9m-9 38h9m-9 444h9m-9 10h9m-9-517h9m-9 526h9m-9-17h9m-9-524h9m-8-512h9m-9 1044h9m-9-1084h9m-9 3h9m-9 1h9m-9 1088h9m-9-12h9m-8-1074h9m-9 1062h9m-9-8h9m-9-1023h9m-8 16h9m-9 1041h9m-9-1110h9m-9-2h9m-9 1092h9m-9-1069h9m-9 640h9m-8 427h9m-9-22h9m-9-1020h9m-9 1026h9m-9 21h9m-9 4h9m-8-1086h9m-9-28h9m-9 609h9m-9 449h9m-8 54h9m-9-500h9m-9-596h9m-9 1081h9m-9-2h9m-9 9h9m-9-505h9m-8-2h9m-9-24h9m-9 581h9m-9-38h9m-9-18h9m-9-1015h9m-9-6h9m-9-7h9m-9-44h9m-9 1085h9m-9-14h9m-8 34h9m-9-27h9m-9 7h9m-9-13h9m-9-492h9m-8 6h9m-9 504h9m-9-1058h9m-9 1027h9m-9-473h9m-8 486h9m-9-1020h9m-9 1030h9m-9 2h9m-9 55h9m-9-1148h9m-8-8h9m-9 571h9m-9 532h9m-9-1061h9m-9-21h9m-9 596h9m-9-18h9m-9 15h9m-9 494h9m-9 32h9m-8-17h9m-9-1088h9m-9 1066h9m-9-13h9m-9-449h9m-9-71h9m-9 534h9m-9 5h9m-8 2h9m-9-557h9m-9-510h9m-9 537h9m-9 10h9m-9-536h9m-9 579h9m-8 470h9m-9-511h9m-9-44h9m-9 45h9m-8 536h9m-9-2h9m-9-517h9m-9-562h9m-9 36h9m-9 1004h9m-9 18h9m-9-458h9m-8 491h9m-9-1009h9m-9 962h9m-9-456h9m-9 472h9m-9-1087h9m-8 590h9m-9-511h9m-9-91h9m-9 1103h9m-9-1031h9m-9 1028h9m-9-1017h9m-9 498h9m-8-8h9m-9 508h9m-9 49h9m-9-33h9m-9-503h9m-8-7h9m-9 522h9m-9-514h9m-9 517h9m-9-523h9m-9 53h9m-8-34h9m-9 7h9m-9-650h9m-9 619h9m-9-10h9m-9 589h9m-9-81h9m-9-1014h9m-8-78h9m-9 9h9m-9 1109h9m-8-24h9m-9-1023h9m-9 529h9m-9-535h9m-9 512h9m-9 511h9m-9-1069h9m-9 1078h9m-8 17h9m-9-505h9m-9-617h9m-9 579h9m-8-488h9m-9-20h9m-9 1036h9m-9-476h9m-9 468h9m-8-1074h9m-9 578h9m-9-521h9m-9 575h9m-9 465h9m-9-511h9m-8 33h9m-9-29h9m-9-542h9m-9 1033h9m-9-20h9m-9-1060h9m-9 1080h9m-8-516h9m-9 69h9m-9-45h9m-9 509h9m-9-541h9m-9 536h9m-9-18h9m-9-475h9m-8-500h9m-9-59h9m-9-76h9m-9 1118h9m-8-500h9m-9 544h9m-9-1086h9m-9-16h9m-9 612h9m-9-627h9m-9 1061h9m-9-483h9m-9 7h9m-9-579h9m-9 1073h9m-9-1095h9m-9 1103h9m-8 1h9m-9-23h9m-9 0h9m-9-4h9m-9 2h9m-9-451h9m-9-45h9m-9-586h9m-8 602h9m-9 26h9m-9-632h9m-9 68h9m-9-70h9m-8 53h9m-9 1068h9m-9-503h9m-9-602h9m-9 46h9m-9 519h9m-9-570h9m-9 1054h9m-9-470h9m-8-51h9m-9 40h9m-9 517h9m-9-1050h9m-9 519h9m-9 508h9m-9 21h9m-9 34h9m-9-23h9m-9-1124h9m-9 48h9m-9 549h9m-8 535h9m-9-500h9m-9 470h9m-9-509h9m-9 506h9m-8 19h9m-9-1005h9m-9-82h9m-8 46h9m-9 1015h9m-9-1037h9m-9 569h9m-9 466h9m-9 47h9m-9-1085h9m-9-10h9m-9-11h9m-8 38h9m-9 1030h9m-9-530h9m-9 94h9m-9-64h9m-9 4h9m-9 49h9m-8 441h9m-9-1040h9m-9 546h9m-9 20h9m-9 38h9m-9-42h9m-8 494h9m-9-1027h9m-9 539h9m-9-464h9m-9 431h9m-9 551h9m-8-15h9m-9 0h9m-9 6h9m-9 14h9m-9-525h9m-9-574h9m-9 50h9m-9-19h9m-8-13h9m-9 1044h9m-9-500h9m-9-601h9m-9 1114h9m-9-1022h9m-8-38h9m-9 546h9m-9 41h9m-9 463h9m-8-526h9m-9 8h9m-9-589h9m-9 560h9m-9-511h9m-9 1072h9m-9-28h9m-9 28h9m-9-15h9m-9 19h9m-8-27h9m-9-455h9m-9 480h9m-8-578h9m-9-426h9m-9-83h9m-8 571h9m-9 19h9m-9 467h9m-9-454h9m-9-56h9m-9-431h9m-9-92h9m-9 1070h9m-9-1045h9m-9 1041h9m-8-488h9m-9 473h9m-9-1097h9m-9 1129h9m-9-570h9m-9-550h9m-9 1077h9m-9-461h9m-9-76h9m-8-506h9m-9 1038h9m-9 58h9m-9-607h9m-9-520h9m-8 20h9m-9 36h9m-9 1051h9m-9-38h9m-9 35h9m-9-1053h9m-9 502h9m-8-622h9m-9 88h9m-9 8h9m-9 1087h9m-8-504h9m-9-528h9m-9-45h9m-9 1022h9m-9-996h9m-9 1033h9m-9-4h9m-8-1103h9m-9 1122h9m-9-537h9m-9-538h9m-8 557h9m-9-22h9m-9-575h9m-9 622h9m-9 450h9m-9-1054h9m-9 588h9m-9-615h9m-8 16h9m-9 590h9m-9 477h9m-9-505h9m-9-506h9m-9 556h9m-9 510h9m-9-556h9m-9-580h9m-9 630h9m-8-32h9m-9 6h9m-9 23h9m-9-11h9m-9-16h9m-8-3h9m-9-627h9m-9 610h9m-9 517h9m-9 17h9m-9-1081h9m-9 12h9m-9 1061h9m-9-20h9m-9 32h9m-9-550h9m-9 114h9m-9-650h9m-8 548h9m-9-3h9m-9 507h9m-9-526h9m-9-584h9m-9 27h9m-9 1124h9m-9-549h9m-8 40h9m-9 470h9m-9-1030h9m-9-12h9m-9-44h9m-9 1093h9m-9-1060h9m-9 595h9m-9 485h9m-9-1096h9m-9 8h9m-8 553h9m-9-481h9m-9 438h9m-9 573h9m-9-27h9m-8-508h9m-9 478h9m-9-1059h9m-9 1073h9m-9-455h9m-9 515h9m-9-28h9m-8-489h9m-9-527h9m-9-73h9m-9 1116h9m-9-1110h9m-9 1070h9m-9 0h9m-9 30h9m-8-71h9m-9-1055h9m-9 1131h9m-9-1060h9m-9-46h9m-8 1106h9m-9-486h9m-9 491h9m-9-1116h9m-9 1094h9m-9-1027h9m-8 1035h9m-9-508h9m-9 513h9m-9-1074h9m-9 1047h9m-9 41h9m-9-1082h9m-9 1096h9m-8-554h9m-9-2h9m-9 9h9m-9-6h9m-8 21h9m-9-28h9m-9-29h9m-9-494h9m-9 1056h9m-9-530h9m-9-552h9m-9 563h9m-9 530h9m-9-533h9m-9-536h9m-9 1031h9m-8 40h9m-9-1053h9m-9 514h9m-8 510h9m-9-43h9m-9 26h9m-9 56h9m-9-1161h9m-9 1135h9m-8 13h9m-9-18h9m-9-521h9m-9-614h9m-9 596h9m-9-531h9m-9 1057h9m-9-6h9m-9-452h9m-9-621h9m-9 605h9m-9 458h9m-8-487h9m-9-32h9m-9-503h9m-9 613h9m-9-80h9m-9-517h9m-9 1038h9m-8-1057h9m-9 562h9m-9-560h9m-9-41h9m-9 1102h9m-9-505h9m-9-25h9m-9 16h9m-9 506h9m-9-507h9m-8-17h9m-9 524h9m-9-544h9m-8-512h9m-9 1049h9m-9-26h9m-8-467h9m-9-8h9m-9 465h9m-9-478h9m-9-538h9m-9 1056h9m-9-12h9m-8 20h9m-9-1077h9m-9 570h9m-9 479h9m-9 26h9m-9-518h9m-9 30h9m-9-38h9m-8 475h9m-9-994h9m-9 1025h9m-9-1066h9m-9 545h9m-9-497h9m-9-22h9m-9 1079h9m-9-1084h9m-9 540h9m-9-527h9m-9-24h9m-8 1068h9m-9 11h9m-9 5h9m-9-39h9m-9 42h9m-9-16h9m-8-1085h9m-9 572h9m-9-43h9m-9 36h9m-9-558h9m-9 574h9m-9 478h9m-9-4h9m-9-479h9m-8 7h9m-9-540h9m-9-28h9m-8 549h9m-9-563h9m-9-22h9m-9 32h9m-8 536h9m-9-534h9m-9 497h9m-9 74h9m-9 22h9m-9-12h9m-8-9h9m-9 16h9m-9 506h9m-9-43h9m-9-1031h9m-9 1064h9m-8 3h9m-9-1h9m-9-67h9m-9 71h9m-9-570h9m-9-539h9m-9 1069h9m-9-1053h9m-8 535h9m-9 69h9m-9 444h9m-9 35h9m-9-20h9m-9 12h9m-9-478h9m-9-578h9m-9 0h9m-9-31h9m-8 1079h9m-9 12h9m-9-1086h9m-9 549h9m-9 41h9m-8 9h9m-9-630h9m-9 85h9m-9 537h9m-8 501h9m-9-484h9m-9-22h9m-9-565h9m-9 529h9m-9 537h9m-8 5h9m-9-24h9m-9-535h9m-9-567h9m-9 87h9m-9 491h9m-9-5h9m-9 547h9m-9-513h9m-8-13h9m-9 517h9m-9-482h9m-9-606h9m-9 1102h9m-9-536h9m-9-17h9m-9-55h9m-8-459h9m-9 38h9m-9 1014h9m-9-9h9m-9-1083h9m-9-2h9m-9 1111h9m-8-1087h9m-9-16h9m-9 121h9m-9 965h9m-9 4h9m-9-11h9m-9-1114h9m-9 28h9m-8 1082h9m-9-1062h9m-9-13h9m-9 1093h9m-9-516h9m-9-546h9m-8 559h9m-9 491h9m-9 18h9m-9-1083h9m-9 1059h9m-8-1054h9m-9 556h9m-9 514h9m-9-6h9m-9 16h9m-9-501h9m-9-17h9m-8 512h9m-9-1076h9m-9 527h9m-9-650h9m-9 1171h9m-9-481h9m-8 485h9m-9-1104h9m-9 595h9m-9 538h9m-8-14h9m-9-8h9m-9 3h9m-9-499h9m-9-555h9m-9 549h9m-9-562h9m-9 599h9m-8-588h9m-9-21h9m-9 1070h9m-9-1048h9m-9 5h9m-9-17h9m-9 1074h9m-9-992h9m-9 476h9m-9-502h9m-8 539h9m-9-594h9m-9 1080h9m-9-551h9m-9 540h9m-9-1055h9m-9-31h9m-9 1087h9m-9-1048h9m-9 567h9m-9 11h9m-9 448h9m-8-469h9m-9-45h9m-9 39h9m-9-525h9m-9 1036h9m-9-1070h9m-9 529h9m-9 524h9m-8-6h9m-9 33h9m-9-19h9m-9 20h9m-9-535h9m-8-561h9m-9 562h9m-9-1h9m-9 18h9m-9-33h9m-9-532h9m-9 12h9m-9 1059h9m-9-1082h9m-9 1071h9m-9-521h9m-8-29h9m-9 59h9m-9 485h9m-9-517h9m-9-50h9m-9 95h9m-8 461h9m-9 29h9m-9-1112h9m-9 570h9m-9 35h9m-9-553h9m-8 16h9m-9-61h9m-9-7h9m-9 38h9m-9 1083h9m-9-11h9m-9-1106h9m-8 573h9m-9 16h9m-9-559h9m-9 1072h9m-9-511h9m-9-27h9m-8 84h9m-9 458h9m-9-574h9m-9 581h9m-9-1097h9m-9 575h9m-9-580h9m-9 69h9m-8 1023h9m-9-2h9m-9-13h9m-8-11h9m-9-471h9m-9 484h9m-9-1029h9m-9 1025h9m-9 4h9m-8 16h9m-9-1026h9m-9 1018h9m-9-498h9m-9-564h9m-9 1058h9m-9-543h9m-9-1h9m-8-501h9m-9 556h9m-9-607h9m-9 42h9m-9 1042h9m-8 4h9m-9-1054h9m-9 1051h9m-9-508h9m-9 504h9m-9 23h9m-9-533h9m-9-555h9m-9-6h9m-8 599h9m-9 486h9m-9-548h9m-9 542h9m-9-520h9m-9-561h9m-9 26h9m-8 1033h9m-9-1035h9m-9-21h9m-9 27h9m-9-3h9m-9 4h9m-8 1053h9m-9-516h9m-9-525h9m-9-25h9m-8 1042h9m-9-474h9m-9-540h9m-9 1059h9m-9-1070h9m-8 504h9m-9-496h9m-9-22h9m-9 1058h9m-9-481h9m-9-568h9m-8 14h9m-9 484h9m-9 564h9m-9 6h9m-9-8h9m-9-6h9m-9-513h9m-8-45h9m-9 551h9m-9-1h9m-9-990h9m-9 1000h9m-8-566h9m-9-508h9m-9 1066h9m-9-1051h9m-8 1051h9m-9-1163h9m-9 647h9m-9 56h9m-9 494h9m-9-537h9m-9-566h9m-8-13h9m-9 4h9m-9 530h9m-9-515h9m-9 1055h9m-9-1069h9m-9 1085h9m-9-525h9m-9-4h9m-9-564h9m-9 34h9m-8 585h9m-9 448h9m-9-428h9m-9 434h9m-9-485h9m-9-602h9m-8 589h9m-9 525h9m-9-529h9m-9 527h9m-9-538h9m-8-548h9m-9 1082h9m-9-465h9m-9-66h9m-9 19h9m-9-23h9m-9-531h9m-9 1066h9m-9-7h9m-8-1009h9m-9-46h9m-8 585h9m-9-42h9m-9-50h9m-9-494h9m-9 1051h9m-9-504h9m-8 0h9m-9 563h9m-9-553h9m-9-5h9m-8-537h9m-9 1053h9m-9-1164h9m-8 1167h9m-9 35h9m-9-1093h9m-9 529h9m-9 552h9m-9-53h9m-9 19h9m-9 10h9m-8-1081h9m-9 2h9m-9 1068h9m-9-1131h9m-9 628h9m-9-603h9m-8 1124h9m-9-1h9m-9-8h9m-9-1047h9m-8-60h9m-9 1101h9m-9-528h9m-9 52h9m-9 477h9m-8 20h9m-9-5h9m-9-1040h9m-9 1034h9m-9-514h9m-8 501h9m-9 12h9m-9-1099h9m-9 1118h9m-9 14h9m-9-36h9m-9-6h9m-9-1055h9m-9 19h9m-9 1h9m-9 1022h9m-9-1055h9m-9 556h9m-8 5h9m-9-542h9m-9 1067h9m-9-1070h9m-9-13h9m-9-26h9m-9 1115h9m-9-503h9m-9 483h9m-8-524h9m-9 9h9m-9 496h9m-9-1004h9m-8 486h9m-9-499h9m-9-53h9m-9 613h9m-9 473h9m-9-24h9m-9 22h9m-9 16h9m-9-571h9m-9-501h9m-8 557h9m-9-566h9m-9-38h9m-9 630h9m-9 451h9m-9 25h9m-9 34h9m-9-29h9m-9-1032h9m-8 511h9m-9 502h9m-9-439h9m-9-48h9m-8-4h9m-9-20h9m-9 48h9m-9-571h9m-9 528h9m-9 536h9m-9-503h9m-9 11h9m-9 497h9m-8-532h9m-9-587h9m-9 15h9m-9 34h9m-9-14h9m-8 1083h9m-9-32h9m-9-546h9m-9-475h9m-9 1070h9m-9-553h9m-9 9h9m-9-598h9m-9 1107h9m-8 19h9m-9-534h9m-9-577h9m-9 29h9m-9 604h9m-8 470h9m-9-1099h9m-9-23h9m-9 1129h9m-9-526h9m-9 2h9m-8-11h9m-9-47h9m-9 58h9m-9-2h9m-9 518h9m-8-507h9m-9 500h9m-9-1040h9m-9 538h9m-9-565h9m-8 548h9m-9 28h9m-9 475h9m-9-2h9m-9-502h9m-9 513h9m-9-559h9m-8-482h9m-9-31h9m-9 547h9m-8-564h9m-9 16h9m-9-39h9m-9 595h9m-9-523h9m-8 1058h9m-9-1074h9m-9 535h9m-9-12h9m-9 537h9m-9-1101h9m-9 38h9m-9 566h9m-8-518h9m-9 481h9m-9 23h9m-9 22h9m-9 490h9m-8 1h9m-9-14h9m-9-467h9m-9-34h9m-9 506h9m-9-9h9m-8-1090h9m-9 1080h9m-9 23h9m-9 11h9m-9-1084h9m-9 37h9m-9-45h9m-8 1079h9m-9 12h9m-9-15h9m-9-499h9m-8 520h9m-9-523h9m-9 16h9m-9-571h9m-9 12h9m-9-19h9m-9 1052h9m-8-480h9m-9-54h9m-9-494h9m-9-61h9m-9 626h9m-9 480h9m-9-16h9m-8-466h9m-9-26h9m-9-614h9m-9 612h9m-9-610h9m-8 594h9m-9 520h9m-9 16h9m-9-29h9m-9-971h9m-8 480h9m-9-558h9m-8-5h9m-9 1054h9m-9-459h9m-9-563h9m-9 1037h9m-9-6h9m-8-1037h9m-9-8h9m-9 548h9m-9-545h9m-9-11h9m-9-32h9m-9 1106h9m-9 7h9m-8-25h9m-9-1049h9m-8-62h9m-9 628h9m-9-20h9m-9-541h9m-9 595h9m-9-25h9m-8-588h9m-9 1058h9m-9-1072h9m-9 578h9m-9-29h9m-9-512h9m-9 553h9m-8 487h9m-9-1033h9m-9 1036h9m-9-519h9m-9-29h9m-8-498h9m-9 549h9m-9 497h9m-9-1065h9m-9 1097h9m-9 10h9m-9-513h9m-9-612h9m-9 1065h9m-8-1062h9m-9-3h9m-9 578h9m-9 512h9m-9-513h9m-9 496h9m-8-1040h9m-9-26h9m-9 552h9m-9-540h9m-9 23h9m-9 553h9m-9-60h9m-9-452h9m-8 993h9m-9-972h9m-9 970h9m-9 15h9m-9-483h9m-8-624h9m-9 62h9m-9 497h9m-9-532h9m-9 1079h9m-8-548h9m-9 550h9m-9-1065h9m-9 1055h9m-9-1070h9m-9 1051h9m-9-1009h9m-9 490h9m-9 55h9m-8-592h9m-9 1094h9m-9-18h9m-9-504h9m-9-579h9m-8 1107h9m-9-1h9m-9-1095h9m-9 33h9m-9 535h9m-9 506h9m-9-1046h9m-9 1064h9m-9-40h9m-8-1052h9m-9 557h9m-9 558h9m-9-69h9m-9 14h9m-9-1060h9m-9 57h9m-9 522h9m-8-11h9m-9 526h9m-9-11h9m-9-525h9m-9-535h9m-9-11h9m-9 1072h9m-9-18h9m-8-488h9m-9 4h9m-9 513h9m-9-1101h9m-8-10h9m-9 584h9m-9 514h9m-9-485h9m-9 476h9m-8-1045h9m-9-21h9m-9 554h9m-9 564h9m-9-550h9m-9-557h9m-9-14h9m-9 1082h9m-9-489h9m-8 484h9m-9 1h9m-9-561h9m-9 57h9m-9-615h9m-9 1138h9m-9-1085h9m-8 1071h9m-9-510h9m-9 520h9m-9-488h9m-9-60h9m-8 50h9m-9-38h9m-9 534h9m-9-1083h9m-9 12h9m-8-39h9m-9 20h9m-9 1082h9m-9-522h9m-9 51h9m-9 467h9m-8 5h9m-9 11h9m-8-512h9m-9-63h9m-9 555h9m-9-465h9m-9-61h9m-9-538h9m-9 1084h9m-9-11h9m-9-12h9m-9-4h9m-9 4h9m-9-4h9m-9-1114h9m-9 1145h9m-8-516h9m-9-570h9m-9 574h9m-9 493h9m-9-1048h9m-9 551h9m-8 489h9m-9-481h9m-9-624h9m-9 601h9m-9-577h9m-9 1090h9m-9-20h9m-9-519h9m-8 27h9m-9-541h9m-9 1035h9m-9-1047h9m-9 562h9m-9 20h9m-9-593h9m-9 25h9m-9 1028h9m-9-522h9m-9-550h9m-8 584h9m-9 515h9m-8-1072h9m-9 26h9m-9 1053h9m-9-533h9m-9 37h9m-9-609h9m-8 611h9m-9 478h9m-9-501h9m-9-553h9m-9-33h9m-9 38h9m-9 554h9m-8 464h9m-9-1026h9m-9 530h9m-9 18h9m-9-595h9m-8 41h9m-9 539h9m-9 537h9m-9-11h9m-9-1095h9m-9 564h9m-9 512h9m-9-499h9m-8 477h9m-9 55h9m-9-1041h9m-9 998h9m-9-1043h9m-9 19h9m-9 1036h9m-9-1059h9m-9 20h9m-9 558h9m-8 13h9m-9 488h9m-9-21h9m-9-482h9m-9 26h9m-9-606h9m-9 545h9m-9-529h9m-9-8h9m-9 3h9m-9 550h9m-8 511h9m-9-519h9m-9 36h9m-9 487h9m-8-513h9m-9 74h9m-9-114h9m-9-503h9m-9 1052h9m-9-1055h9m-9 1075h9m-8-1109h9m-9 49h9m-9 1021h9m-9 7h9m-9-536h9m-9-502h9m-9-5h9m-9-44h9m-8 9h9m-9 1072h9m-9-1022h9m-9 500h9m-9 47h9m-9-11h9m-8 19h9m-9-7h9m-9-535h9m-9-29h9m-9 599h9m-9 464h9m-9 0h9m-9-547h9m-9 17h9m-8 47h9m-9-589h9m-9 1062h9m-9-1088h9m-8 645h9m-9 494h9m-9-1119h9m-9 1097h9m-9-1079h9m-9-3h9m-8 610h9m-9 422h9m-9-482h9m-9-581h9m-9 58h9m-9-78h9m-8 1138h9m-9-550h9m-9-548h9m-9 27h9m-9 551h9m-9 518h9m-9-559h9m-9 538h9m-9-436h9m-9-91h9m-9-563h9m-8 1078h9m-9-518h9m-9 543h9m-9-1103h9m-9 596h9m-8-569h9m-9 23h9m-9 524h9m-9 43h9m-9 494h9m-9-520h9m-8-593h9m-9 550h9m-9-539h9m-9 10h9m-9 23h9m-9 1050h9m-9-1033h9m-9 1031h9m-9-1096h9m-9 25h9m-8 568h9m-9 9h9m-9 472h9m-9-539h9m-9-515h9m-8 572h9m-9-644h9m-9 1168h9m-9-6h9m-9-1108h9m-9 591h9m-9 22h9m-9-72h9m-8 539h9m-9-1071h9m-9 70h9m-9 532h9m-9 480h9m-9 2h9m-9-1075h9m-9 1065h9m-8-1053h9m-9 542h9m-9 506h9m-9 18h9m-8-18h9m-9-499h9m-9 504h9m-9-1086h9m-9 15h9m-9 11h9m-9 11h9m-8-17h9m-9 613h9m-9-613h9m-8 580h9m-9 513h9m-8-1076h9m-9 2h9m-8 541h9m-9 68h9m-9-620h9m-9 1052h9m-8-532h9m-9 565h9m-9-1063h9m-9 527h9m-9-507h9m-8 1006h9m-9 25h9m-9-1032h9m-9 520h9m-9 507h9m-9 31h9m-9-554h9m-9-548h9m-9 528h9m-9 516h9m-8 5h9m-9-1117h9m-9 1130h9m-8 17h9m-9-459h9m-9 478h9m-8-1091h9m-9 1051h9m-9-498h9m-9-567h9m-9 1101h9m-9-523h9m-9 475h9m-8-456h9m-9-32h9m-9-53h9m-9 583h9m-9-17h9m-9-531h9m-9-539h9m-8 584h9m-9-20h9m-9 480h9m-9-466h9m-9-46h9m-9 37h9m-8 516h9m-9-520h9m-9-488h9m-9-55h9m-9-9h9m-9 1040h9m-9-1011h9m-9 553h9m-8-612h9m-9 65h9m-9 1217h9m-9-728h9m-9 38h9m-9-562h9m-9 23h9m-8 1207h9m-9-658h9m-9-550h9m-9 1205h9m-9-724h9m-8 751h9m-9-33h9m-9 18h9m-9-676h9m-9-16h9m-9 703h9m-8-653h9m-9-658h9m-9 631h9m-9 668h9m-9 17h9m-9-702h9m-9 663h9m-8-1223h9m-9 1251h9m-9-1189h9m-9 1206h9m-9-708h9m-9-4h9m-8 712h9m-9-15h9m-9-1295h9m-9 87h9m-9 1209h9m-9-712h9m-9 670h9m-9-640h9m-9-521h9m-9 1215h9m-9-13h9m-8-713h9m-9 48h9m-9-555h9m-9-44h9m-9 564h9m-8-542h9m-9 1236h9m-9 8h9m-9-36h9m-8 36h9m-9-696h9m-9 711h9m-9-1272h9m-9 1235h9m-9 0h9m-9-1258h9m-9 573h9m-8-544h9m-9 535h9m-9-570h9m-9-62h9m-9 107h9m-9 539h9m-8-554h9m-9 1271h9m-9-1322h9m-8 1320h9m-9-717h9m-9-39h9m-9 732h9m-8-1216h9m-9 506h9m-9 671h9m-9-706h9m-9 68h9m-9-548h9m-9 1238h9m-9 19h9m-8-1296h9m-9 1236h9m-9-631h9m-9-55h9m-9-484h9m-9 523h9m-8-14h9m-9 687h9m-9-1245h9m-9-2h9m-9 581h9m-9-11h9m-8 697h9m-9-1307h9m-9 57h9m-9-12h9m-8 22h9m-9-15h9m-9 564h9m-9-564h9m-9 1248h9m-9-6h9m-9-1298h9m-9 46h9m-9-28h9m-9 581h9m-9 713h9m-8-1267h9m-9 1220h9m-9 57h9m-9-27h9m-8-1227h9m-9 529h9m-9-584h9m-9 555h9m-9 18h9m-9 30h9m-8 662h9m-9 28h9m-9 8h9m-8-3h9m-9-678h9m-9 666h9m-9-664h9m-9-606h9m-9 3h9m-9 573h9m-9 692h9m-8 13h9m-9-711h9m-9-573h9m-9 5h9m-9 11h9m-9 1243h9m-9-1220h9m-8-34h9m-9 1232h9m-9-646h9m-9-613h9m-9 36h9m-9 550h9m-9 705h9m-9 26h9m-8-1218h9m-9 491h9m-9 692h9m-9 29h9m-9-21h9m-9 0h9m-9-1331h9m-9 209h9m-9 1129h9m-8-2h9m-9 5h9m-9-687h9m-9 660h9m-9-11h9m-9-1185h9m-8 1206h9m-9-1221h9m-9 1221h9m-8-1246h9m-9 604h9m-9-605h9m-9 545h9m-9 32h9m-9-578h9m-9 1262h9m-9-24h9m-9-1269h9m-9-19h9m-8 49h9m-9 588h9m-9 681h9m-9 8h9m-9-724h9m-8 711h9m-9-12h9m-9-1230h9m-9 1229h9m-9-3h9m-8-604h9m-9 642h9m-9-1277h9m-9 542h9m-9-6h9m-9 33h9m-9 709h9m-9-1270h9m-9 1255h9m-8-1203h9m-9-79h9m-9 22h9m-9 587h9m-9 656h9m-9-1241h9m-8 1234h9m-9-1244h9m-9 27h9m-9 505h9m-8-20h9m-9 74h9m-9 654h9m-9 0h9m-9 22h9m-9-15h9m-9-692h9m-9-584h9m-8 606h9m-9-578h9m-9 1240h9m-9 14h9m-9-1260h9m-9 572h9m-8 0h9m-9 44h9m-9 648h9m-9-1238h9m-9 583h9m-9-51h9m-9 6h9m-9-568h9m-8 55h9m-9 0h9m-9 530h9m-9-21h9m-9 5h9m-9-1h9m-9 17h9m-9 683h9m-9-22h9m-8-727h9m-9 55h9m-9-568h9m-9 8h9m-9 574h9m-9 661h9m-8-4h9m-9 16h9m-9-1240h9m-9 1257h9m-9-1268h9m-8 32h9m-9-3h9m-9-73h9m-9 635h9m-9-45h9m-9-7h9m-9-15h9m-9-533h9m-8 1250h9m-9-653h9m-9-618h9m-9 1301h9m-8-23h9m-9-686h9m-9 680h9m-9-1229h9m-9 1270h9m-9-684h9m-8 640h9m-9-1257h9m-9 1247h9m-9-1230h9m-8 552h9m-9 64h9m-9-614h9m-9 1275h9m-9-1293h9m-9 38h9m-9 1251h9m-8-703h9m-9-554h9m-9-1h9m-9 577h9m-9 665h9m-8-1250h9m-9 533h9m-9-14h9m-9 42h9m-9 721h9m-9-1276h9m-8-1h9m-9-83h9m-9 630h9m-9 681h9m-9-699h9m-9-580h9m-9 1299h9m-9-1223h9m-9-11h9m-9 584h9m-8-623h9m-9 1258h9m-9-1213h9m-9-28h9m-9 1247h9m-9 25h9m-9-1289h9m-9 1260h9m-9-669h9m-9-545h9m-8-4h9m-9 1217h9m-9 24h9m-9-716h9m-9-549h9m-9 558h9m-9-39h9m-8 760h9m-9-37h9m-9 32h9m-9-1280h9m-9 15h9m-9 1246h9m-9-1317h9m-9 630h9m-9-33h9m-8-6h9m-9-7h9m-9 55h9m-9 1h9m-9-547h9m-9-56h9m-9 594h9m-9 688h9m-9-12h9m-8-1h9m-9-679h9m-9-33h9m-9-534h9m-9 605h9m-9 651h9m-9-701h9m-9 703h9m-9-1245h9m-9-37h9m-9 1281h9m-8-8h9m-9-702h9m-9-533h9m-9 1253h9m-9-697h9m-9 658h9m-9 104h9m-9-1338h9m-8 542h9m-9-527h9m-9 7h9m-9 553h9m-8-37h9m-9-539h9m-8-25h9m-9 30h9m-9 1240h9m-9-673h9m-9-4h9m-9-25h9m-8 29h9m-9-603h9m-9 71h9m-9 1233h9m-9-694h9m-9 700h9m-9-732h9m-8 36h9m-9-578h9m-9 1232h9m-9 6h9m-8-1256h9m-9 36h9m-9-2h9m-9 531h9m-9-571h9m-9 43h9m-9 571h9m-9 654h9m-9 5h9m-9-1212h9m-9-56h9m-8 70h9m-9 1222h9m-9-723h9m-9-29h9m-9-414h9m-9-97h9m-8 1242h9m-9-708h9m-9-580h9m-8 20h9m-9 1260h9m-9 0h9m-9-756h9m-9-443h9m-9 5h9m-9-102h9m-8-3h9m-9 1316h9m-9-684h9m-9-31h9m-9 7h9m-8-603h9m-9 75h9m-9 544h9m-9 740h9m-9-1341h9m-8 1308h9m-9-1203h9m-9-80h9m-8 583h9m-9-563h9m-9 522h9m-9-527h9m-9 20h9m-9 1227h9m-9-675h9m-8 662h9m-9-1205h9m-9 1214h9m-9-697h9m-9 709h9m-9-14h9m-9-1168h9m-8 469h9m-9-584h9m-9 33h9m-9 1235h9m-9-658h9m-9 680h9m-9-714h9m-9 673h9m-8 42h9m-9 16h9m-9-652h9m-9-80h9m-9-564h9m-8 1251h9m-9 8h9m-9-733h9m-9-505h9m-8 572h9m-9-567h9m-9 538h9m-9 678h9m-9-15h9m-9-1241h9m-9 69h9m-9 527h9m-9 30h9m-8 666h9m-9 14h9m-9-1292h9m-9 1274h9m-9-688h9m-9-552h9m-9 563h9m-9-9h9m-8 684h9m-9-1263h9m-9 609h9m-9-591h9m-9 551h9m-9-595h9m-9 594h9m-9 26h9m-8 658h9m-9-1211h9m-9 1262h9m-9-49h9m-9-1229h9m-9 24h9m-9 1231h9m-9-680h9m-9-624h9m-9 576h9m-9-593h9m-9 584h9m-8-554h9m-9 1280h9m-9-656h9m-9-74h9m-9 722h9m-9-681h9m-9-21h9m-8-583h9m-8 99h9m-9 1200h9m-9-1h9m-8-748h9m-9-514h9m-9-9h9m-9 1270h9m-9-31h9m-9-1226h9m-9 13h9m-9 565h9m-8 681h9m-9-26h9m-9-685h9m-9 702h9m-8-1226h9m-9 1255h9m-9-27h9m-9-1237h9m-9 562h9m-9 675h9m-9-1255h9m-9 1223h9m-9 73h9m-8-43h9m-9-687h9m-9-542h9m-9 558h9m-9-559h9m-9 1282h9m-9-1251h9m-8 494h9m-9-522h9m-9 1218h9m-9-726h9m-9-595h9m-8 622h9m-9-554h9m-9 593h9m-9 674h9m-9-727h9m-9 57h9m-9-32h9m-8 5h9m-9 680h9m-9-1213h9m-9 475h9m-9-525h9m-8 1264h9m-9-1235h9m-9 1210h9m-9 65h9m-9-20h9m-8-679h9m-9-27h9m-9-7h9m-9-514h9m-8 1231h9m-9-678h9m-9 675h9m-9-562h9m-9-124h9m-9 7h9m-9 646h9m-9-699h9m-9 725h9m-8-1237h9m-9 524h9m-9 718h9m-8-741h9m-9 756h9m-9-24h9m-9-1252h9m-9 599h9m-8-640h9m-9 36h9m-9 576h9m-9 651h9m-9-1211h9m-9 13h9m-9 550h9m-8 664h9m-9 5h9m-9-15h9m-9 41h9m-9-20h9m-8-1232h9m-9 538h9m-9 716h9m-9-28h9m-9-706h9m-9-519h9m-9 466h9m-9-496h9m-8-15h9m-9 15h9m-9 513h9m-9 732h9m-8 32h9m-9 0h9m-9-1303h9m-9 76h9m-9 519h9m-9 701h9m-9-1279h9m-8 70h9m-9 1205h9m-9-704h9m-9 686h9m-8-710h9m-9-508h9m-9 569h9m-9-493h9m-9 441h9m-9 686h9m-8 29h9m-9-13h9m-9-1261h9m-9 10h9m-9 1271h9m-9 1h9m-9-1274h9m-9 1271h9m-9-1250h9m-8 36h9m-9-14h9m-9 1215h9m-9-674h9m-9-29h9m-9-522h9m-9 1254h9m-8-27h9m-9-700h9m-9-560h9m-9 585h9m-9 683h9m-9-19h9m-8-679h9m-9-548h9m-9 533h9m-9-547h9m-9 574h9m-8 678h9m-9 54h9m-9-745h9m-9-507h9m-9 500h9m-9-13h9m-9-543h9m-9 1278h9m-9-722h9m-9 704h9m-9-1214h9m-9 543h9m-8 695h9m-9 0h9m-9-22h9m-9 4h9m-9-718h9m-9-532h9m-9 520h9m-8-461h9m-9-92h9m-8 1292h9m-9 27h9m-9-707h9m-9-44h9m-9 697h9m-9-1237h9m-9 1253h9m-9-1303h9m-8 587h9m-9-525h9m-9 1239h9m-8 20h9m-9 16h9m-9-720h9m-9 4h9m-9-608h9m-9 1279h9m-9 33h9m-8-705h9m-9-44h9m-9 719h9m-9-670h9m-9 26h9m-9 650h9m-9-707h9m-9 5h9m-9 708h9m-9 0h9m-8 11h9m-9-731h9m-9 46h9m-9 692h9m-9-1270h9m-9 1243h9m-9-1263h9m-8 1261h9m-9 31h9m-9-28h9m-9 47h9m-9-728h9m-9 16h9m-8-576h9m-9-28h9m-9 575h9m-9-526h9m-9-35h9m-9 1271h9m-9-696h9m-8-5h9m-9-540h9m-9 544h9m-9 1h9m-9 686h9m-8-706h9m-9 704h9m-9 19h9m-9-1266h9m-9 1255h9m-9-1261h9m-9-7h9m-9 590h9m-8-594h9m-9-3h9m-9-20h9m-9 1276h9m-9-717h9m-9 698h9m-9-1278h9m-9 1318h9m-9-7h9m-9-684h9m-8-11h9m-9-31h9m-9-549h9m-9 613h9m-8-37h9m-9 667h9m-9-1250h9m-9 67h9m-9 1h9m-9 548h9m-9-70h9m-9 723h9m-8-6h9m-9-1195h9m-9-17h9m-9 1250h9m-9-28h9m-9-10h9m-9-1229h9m-9 551h9m-9-62h9m-8 728h9m-9-689h9m-9 13h9m-9 720h9m-9-633h9m-9-45h9m-9 680h9m-9-707h9m-9-9h9m-9 20h9m-9 649h9m-8-683h9m-9 710h9m-9-1269h9m-9-4h9m-9 19h9m-9 8h9m-8 1260h9m-9-1251h9m-9 1216h9m-9-700h9m-9 713h9m-9-652h9m-9 674h9m-9-733h9m-9 723h9m-9-688h9m-9 702h9m-9-703h9m-8 708h9m-9-1251h9m-9 1203h9m-9-1242h9m-9 551h9m-9 54h9m-9-2h9m-9 0h9m-9-575h9m-9 511h9m-9 4h9m-9 744h9m-8 3h9m-9-11h9m-9-1263h9m-8 531h9m-9 66h9m-9-586h9m-9 1245h9m-9-20h9m-9-696h9m-8 40h9m-9-26h9m-9-16h9m-9 655h9m-9-1197h9m-9 590h9m-9 679h9m-9-1269h9m-8 574h9m-9 689h9m-9-1293h9m-9 1251h9m-8-705h9m-9 23h9m-9 32h9m-9-533h9m-9-81h9m-9 595h9m-9-32h9m-8-520h9m-9 580h9m-9-5h9m-9 18h9m-9-592h9m-9 1290h9m-8-740h9m-9-498h9m-9-23h9m-8 6h9m-9 510h9m-9 10h9m-9-580h9m-9 586h9m-9 678h9m-9-681h9m-9 11h9m-9-576h9m-8 1247h9m-9 14h9m-9 2h9m-9 12h9m-9-31h9m-9 16h9m-8 21h9m-9-678h9m-9-35h9m-9-5h9m-9 718h9m-9-739h9m-9-558h9m-9 1280h9m-9-727h9m-9 723h9m-8 23h9m-9 9h9m-9-24h9m-9 2h9m-9-1260h9m-9 557h9m-9-624h9m-9 86h9m-9 567h9m-8-62h9m-9 759h9m-9-737h9m-9-527h9m-9 539h9m-9-556h9m-8-23h9m-9 1257h9m-9 1h9m-9-1211h9m-9 1258h9m-9-19h9m-9-15h9m-9-1269h9m-9 622h9m-8 667h9m-9-692h9m-9 691h9m-9-688h9m-9-50h9m-9 713h9m-9-667h9m-9 667h9m-9 20h9m-8-5h9m-9-670h9m-9 610h9m-9-625h9m-9-610h9m-9 45h9m-9 13h9m-9 6h9m-8 1205h9m-9 32h9m-9-15h9m-9-14h9m-9-1229h9m-8-29h9m-9 50h9m-9-25h9m-9 588h9m-9 659h9m-8-1244h9m-9 1279h9m-9-22h9m-9-748h9m-9 31h9m-9 690h9m-9-655h9m-9 662h9m-9-731h9m-8-526h9m-9 568h9m-9 703h9m-9-27h9m-9-1206h9m-9-35h9m-9 1269h9m-9-41h9m-8-687h9m-9-531h9m-9 587h9m-9 671h9m-9-661h9m-9-62h9m-9 37h9m-9-562h9m-8 542h9m-9 28h9m-9-9h9m-9-570h9m-9 1236h9m-9-666h9m-9-562h9m-9 568h9m-9-573h9m-9 549h9m-9-587h9m-8 594h9m-9-611h9m-9 65h9m-9 552h9m-8 692h9m-9-696h9m-9 678h9m-9-1264h9m-9 45h9m-9 1219h9m-9-669h9m-9 740h9m-8-718h9m-9-576h9m-9 42h9m-9 479h9m-9 0h9m-9 709h9m-9-697h9m-9-508h9m-9 490h9m-7 744h9m-9-1276h9m-9-20h9m-9 0h9m-9 544h9m-9-557h9m-9 1310h9m-9 10h9m-9-1335h9m-9 38h9m-9 1290h9m-9-742h9m-9 715h9m-9-5h9m-8-1227h9m-9-50h9m-9 558h9m-9 705h9m-9 28h9m-9-21h9m-9-1237h9m-8 505h9m-9-533h9m-9 1310h9m-9-44h9m-9-654h9m-9-559h9m-8 556h9m-9 689h9m-9-30h9m-9 3h9m-9-696h9m-9-546h9m-9-69h9m-9 84h9m-9 1260h9m-9-1309h9m-9 1256h9m-9-1200h9m-8 543h9m-9-551h9m-9 1234h9m-9-11h9m-9-1276h9m-9 1271h9m-8-712h9m-9 701h9m-9 39h9m-9-707h9m-9-1h9m-9-584h9m-9 1273h9m-8-664h9m-9-13h9m-9-48h9m-9 20h9m-9 16h9m-9-582h9m-9 1282h9m-8-666h9m-9-21h9m-9 676h9m-9 22h9m-9 17h9m-9-21h9m-9-1195h9m-9 467h9m-9 670h9m-8-1272h9m-9 11h9m-9 637h9m-9-37h9m-9-543h9m-9 566h9m-8-3h9m-9 48h9m-9-615h9m-9 643h9m-9 606h9m-9-35h9m-9 25h9m-8 33h9m-9-16h9m-9-12h9m-8 22h9m-9-683h9m-9-547h9m-9-41h9m-9 1259h9m-8 14h9m-9-735h9m-9-501h9m-9 1239h9m-9-28h9m-8-729h9m-9-497h9m-9-3h9m-9-11h9m-9 1264h9m-9 9h9m-9-1297h9m-9 31h9m-9 564h9m-9 74h9m-8-91h9m-9-572h9m-9 615h9m-9 661h9m-9-5h9m-9-1225h9m-9 466h9m-9 762h9m-9-1239h9m-8 1252h9m-9-28h9m-9-1254h9m-9 560h9m-9 6h9m-9-513h9m-9 1204h9m-9 21h9m-8 22h9m-9-1277h9m-9-6h9m-9-26h9m-9 604h9m-9 712h9m-8-1161h9m-9 437h9m-9-552h9m-9 1202h9m-8-641h9m-9-576h9m-9 1300h9m-9-1306h9m-9 1233h9m-8 15h9m-9-1250h9m-9 1248h9m-9-1287h9m-8 1278h9m-9-1283h9m-9 82h9m-9 1227h9m-8-7h9m-9-43h9m-9-1213h9m-9 570h9m-9 683h9m-8-1176h9m-9-101h9m-9 581h9m-9-590h9m-9 1289h9m-9-7h9m-9-12h9m-8-671h9m-9-569h9m-9-12h9m-9 557h9m-9-515h9m-8-55h9m-9 638h9m-9-573h9m-9 534h9m-9-12h9m-8-19h9m-9 19h9m-9-522h9m-9-18h9m-9 533h9m-9 708h9m-8-1289h9m-9-2h9m-9 623h9m-9 635h9m-9-1204h9m-9 1238h9m-9-17h9m-9-689h9m-9-595h9m-8 1270h9m-9-1222h9m-9 547h9m-9 703h9m-9-12h9m-9-1278h9m-9 84h9m-9 1242h9m-8-729h9m-9 19h9m-9-43h9m-9 11h9m-9 691h9m-9-1226h9m-9-26h9m-9 1286h9m-9-1236h9m-8-50h9m-9 1259h9m-9 24h9m-9-1264h9m-9 83h9m-9 453h9m-8 733h9m-9-29h9m-9-1245h9m-9 562h9m-9 10h9m-8 683h9m-9-724h9m-9 23h9m-9 59h9m-8-615h9m-9 1257h9m-9 7h9m-9-731h9m-9-579h9m-9 1295h9m-9-5h9m-9-1241h9m-8 533h9m-9 743h9m-9-20h9m-8-676h9m-9-570h9m-9 1265h9m-9-50h9m-9-4h9m-8 51h9m-9-59h9m-9-645h9m-9-14h9m-9 47h9m-9-81h9m-9 72h9m-8-54h9m-9 725h9m-9-1235h9m-9 559h9m-9-595h9m-9-62h9m-8 1348h9m-9-1236h9m-9-77h9m-9 1282h9m-9-680h9m-9-559h9m-9 545h9m-9 704h9m-9 0h9m-9-717h9m-9 28h9m-8 677h9m-9-646h9m-9-557h9m-9 493h9m-9-555h9m-8 543h9m-9 37h9m-9-570h9m-9 1269h9m-9-702h9m-9-29h9m-8-612h9m-9 652h9m-9 673h9m-8-1258h9m-9 1292h9m-9-1281h9m-8 1259h9m-9-1267h9m-9 39h9m-9 1219h9m-9-707h9m-9 58h9m-9-631h9m-8 590h9m-9-598h9m-9 35h9m-9 557h9m-9-591h9m-9 1315h9m-9-705h9m-8-3h9m-9 632h9m-9 15h9m-9-618h9m-9-607h9m-9 1261h9m-9-1234h9m-8 521h9m-9-537h9m-9 1262h9m-9 3h9m-9-1311h9m-9 39h9m-9 581h9m-9 19h9m-8-40h9m-9 3h9m-9 671h9m-9-713h9m-9 755h9m-9 1h9m-9-1265h9m-9 1247h9m-9-1221h9m-9 0h9m-8 534h9m-9-571h9m-9 542h9m-9 703h9m-9-1239h9m-9 554h9m-9-573h9m-9-9h9m-8 590h9m-9-563h9m-9 1274h9m-9-14h9m-9-1275h9m-9 66h9m-8 1217h9m-9-708h9m-9-526h9m-9 551h9m-9-587h9m-8 37h9m-9 1214h9m-9-1220h9m-9-65h9m-9 607h9m-8-33h9m-8 700h9m-9-697h9m-9 682h9m-9-1231h9m-9 578h9m-9-13h9m-9-532h9m-9-45h9m-9 590h9m-9 680h9m-9-693h9m-9 23h9m-9-564h9m-8 536h9m-9-569h9m-9 624h9m-9-614h9m-9 587h9m-9-606h9m-9 1267h9m-9 85h9m-8-110h9m-9-1221h9m-9 522h9m-9 97h9m-8-691h9m-9 615h9m-9-516h9m-9 18h9m-9 1233h9m-8-1315h9m-9 618h9m-9-568h9m-9 585h9m-9 666h9m-9-1289h9m-9 1274h9m-8 21h9m-9 0h9m-9-10h9m-8-676h9m-9 18h9m-9 674h9m-9-51h9m-9 20h9m-9-1250h9m-9 573h9m-9 37h9m-8-1h9m-9-31h9m-9 693h9m-9-14h9m-9-1229h9m-9 578h9m-9-612h9m-8 26h9m-9 559h9m-9 672h9m-9-642h9m-9 634h9m-9-1227h9m-9 542h9m-8 733h9m-9-19h9m-9-1188h9m-9-81h9m-9-58h9m-9 46h9m-9 606h9m-8 674h9m-9-684h9m-9-562h9m-9 595h9m-9 671h9m-9-678h9m-9-80h9m-9 742h9m-9-1261h9m-9 6h9m-9 528h9m-9-548h9m-8 591h9m-9-591h9m-9 548h9m-9 17h9m-9-591h9m-9-11h9m-8 37h9m-9 558h9m-9 15h9m-9 670h9m-9-1251h9m-9 1280h9m-9-1259h9m-9-34h9m-8 1287h9m-9-631h9m-9-70h9m-9 709h9m-9-1266h9m-8 1251h9m-9-693h9m-9 707h9m-9 2h9m-9-687h9m-9-598h9m-9 4h9m-9-6h9m-9-38h9m-9 587h9m-9-23h9m-8 94h9m-9-569h9m-9-34h9m-8 1244h9m-9-684h9m-9-564h9m-9 595h9m-9 659h9m-9-9h9m-8-1225h9m-9 0h9m-9 1236h9m-9-703h9m-9-547h9m-9 1259h9m-8-687h9m-9-579h9m-9 1245h9m-8-1270h9m-9 114h9m-9 498h9m-9-562h9m-9 1191h9m-9 71h9m-9-34h9m-9-1196h9m-8 524h9m-9-535h9m-9 556h9m-9-75h9m-9 27h9m-9-584h9m-9 49h9m-9-3h9m-9-51h9m-8 42h9m-9 1249h9m-9-678h9m-9 672h9m-8-1284h9m-9 1289h9m-9 29h9m-9-1276h9m-9 523h9m-8 746h9m-9-692h9m-9 719h9m-9-45h9m-9-1237h9m-9 1233h9m-9 5h9m-9-1222h9m-8 1232h9m-9-591h9m-9 566h9m-9 21h9m-9-1239h9m-9 1209h9m-9-1212h9m-9 551h9m-9 692h9m-9-1221h9m-9 1236h9m-8-1298h9m-9 603h9m-9-8h9m-9 696h9m-9-660h9m-9-613h9m-8 1252h9m-9-663h9m-9-570h9m-9 1242h9m-9-25h9m-8 35h9m-9-708h9m-9-565h9m-9-2h9m-9 1258h9m-9-718h9m-8-543h9m-9 10h9m-9 1267h9m-9-1257h9m-9 563h9m-9 662h9m-9 42h9m-9-20h9m-9-1306h9m-9 1301h9m-9-1192h9m-9-82h9m-9 41h9m-8 31h9m-9 527h9m-9 17h9m-9-55h9m-9-13h9m-9-561h9m-8 583h9m-9-517h9m-9 1272h9m-9-717h9m-9-10h9m-9-580h9m-9 538h9m-9-532h9m-9 596h9m-9-19h9m-8-14h9m-9-585h9m-9 1289h9m-9-1260h9m-9 580h9m-9 30h9m-8-102h9m-9-529h9m-9 580h9m-9-550h9m-9-33h9m-9 1271h9m-9-729h9m-9 34h9m-8 49h9m-9-53h9m-9 667h9m-9-1201h9m-9 1245h9m-9-26h9m-9-669h9m-9 708h9m-9 10h9m-8-1278h9m-9-47h9m-9 20h9m-9 24h9m-8 568h9m-9 642h9m-9-627h9m-9-44h9m-9 31h9m-9-37h9m-9-547h9m-9 1257h9m-9-681h9m-8-556h9m-9-14h9m-9-17h9m-9 1293h9m-9-698h9m-9-90h9m-9 98h9m-8-555h9m-9 1244h9m-9-33h9m-9-1189h9m-9-38h9m-8 510h9m-9 16h9m-9 705h9m-9-665h9m-9 697h9m-9-706h9m-9 704h9m-8-24h9m-9-1246h9m-9 27h9m-9 12h9m-8 511h9m-9 701h9m-9 26h9m-9-752h9m-9 35h9m-8-544h9m-9 539h9m-9 694h9m-8-681h9m-9 703h9m-9-1240h9m-9-47h9m-9 1271h9m-8 23h9m-9-1247h9m-9 9h9m-9 1240h9m-9-28h9m-8-1210h9m-9 469h9m-9 741h9m-9-723h9m-9-486h9m-8 1219h9m-9-1252h9m-9 605h9m-9 625h9m-9-705h9m-9 65h9m-9-589h9m-9-47h9m-8 1286h9m-9-1205h9m-9 499h9m-9 700h9m-9-14h9m-9-1208h9m-9 1227h9m-9-701h9m-8 44h9m-9-1h9m-9-627h9m-9 632h9m-9-38h9m-9-516h9m-9 1229h9m-9-37h9m-9-724h9m-9 754h9m-8-1241h9m-9 494h9m-9 737h9m-9-1248h9m-9 7h9m-9 1271h9m-9-687h9m-9-39h9m-9 744h9m-8-25h9m-9-15h9m-9 12h9m-9-1257h9m-9 20h9m-9-71h9m-9 1278h9m-8-1233h9m-9 1255h9m-9-22h9m-9-1242h9m-9 17h9m-9 556h9m-9-28h9m-8-11h9m-9-523h9m-9 553h9m-9 699h9m-9-718h9m-9-558h9m-9 18h9m-9 1h9m-9 521h9m-9-554h9m-9 1282h9m-8-13h9m-9 5h9m-9-1160h9m-9 1165h9m-9-695h9m-9 698h9m-9-1244h9m-8-56h9m-9 1303h9m-8-1277h9m-9 25h9m-8 18h9m-9 1227h9m-9-741h9m-8 60h9m-9-47h9m-8-559h9m-9 4h9m-9 571h9m-9-560h9m-9 569h9m-8 671h9m-9-1267h9m-9 590h9m-9 695h9m-9-1209h9m-9 48h9m-9-79h9m-9 11h9m-8 1263h9m-9-706h9m-9-19h9m-9-9h9m-9-551h9m-9 1248h9m-8 1h9m-9-1231h9m-9 1198h9m-9-640h9m-9-68h9m-8-422h9m-9 1166h9m-9 23h9m-9-1149h9m-9 1111h9m-9-677h9m-9-512h9m-8 508h9m-9-535h9m-9 1203h9m-9 27h9m-9 16h9m-9-1242h9m-9 537h9m-8-21h9m-9-542h9m-9 30h9m-9 540h9m-9-551h9m-9-6h9m-8 572h9m-9-592h9m-9 563h9m-9 6h9m-9 44h9m-8-48h9m-9-547h9m-9 4h9m-9 539h9m-8-552h9m-9 1263h9m-9 0h9m-9-686h9m-9-562h9m-9 1243h9m-8 1h9m-9-27h9m-9-1284h9m-9 35h9m-9 50h9m-9 15h9m-8-40h9m-9 578h9m-9 665h9m-9 4h9m-9-1276h9m-9 1277h9m-8-1201h9m-9 502h9m-9-496h9m-9-62h9m-9 552h9m-9 746h9m-9-684h9m-9-57h9m-9-485h9m-9-32h9m-8 1240h9m-9 6h9m-9-700h9m-9-78h9m-9 764h9m-9-1247h9m-9 7h9m-8-98h9m-9 109h9m-9-22h9m-9 535h9m-9 732h9m-9-1273h9m-9 1270h9m-9-727h9m-8 708h9m-9-716h9m-9 698h9m-9-664h9m-9-12h9m-9 756h9m-9-42h9m-9-708h9m-9 2h9m-9-584h9m-9-51h9m-8 140h9m-9-169h9m-9 130h9m-9 1234h9m-9-33h9m-9-732h9m-8 746h9m-9 24h9m-9-670h9m-9-630h9m-9 29h9m-9 12h9m-9-12h9m-8 20h9m-9 525h9m-9-10h9m-9-590h9m-9 655h9m-9-43h9m-9-552h9m-9-20h9m-9 61h9m-8 526h9m-9 0h9m-9 684h9m-9-1250h9m-9 1268h9m-9-1352h9m-8 87h9m-9 1248h9m-9-1308h9m-9 56h9m-9 46h9m-9 533h9m-9-20h9m-9 50h9m-8 641h9m-9 15h9m-9-1332h9m-9 81h9m-9-55h9m-9 13h9m-9 1287h9m-9 8h9m-9-52h9m-8-683h9m-9 20h9m-9 1h9m-9-9h9m-8 8h9m-9 31h9m-9-27h9m-9 713h9m-9-1269h9m-8 546h9m-9-18h9m-9 35h9m-9 700h9m-9-645h9m-8-73h9m-9 711h9m-9-724h9m-9-530h9m-9 33h9m-9-30h9m-8-30h9m-9-43h9m-9 1308h9m-9-1227h9m-9 1252h9m-9-748h9m-9 26h9m-8 27h9m-9-555h9m-9 540h9m-9 28h9m-9-600h9m-8 1268h9m-9-15h9m-9-1211h9m-9-20h9m-9 1262h9m-9-46h9m-9-683h9m-9-569h9m-8 601h9m-9 656h9m-9 29h9m-9-728h9m-9 718h9m-8-1287h9m-9 565h9m-9 726h9m-9-1234h9m-8-4h9m-9 1211h9m-9-1192h9m-9 1209h9m-9 18h9m-9-705h9m-8-27h9m-9 717h9m-9 35h9m-9-705h9m-9 654h9m-9-1213h9m-8-35h9m-9 8h9m-9 517h9m-8 744h9m-9-697h9m-9-14h9m-9-493h9m-8-88h9m-9 70h9m-9 9h9m-9 1198h9m-9-4h9m-9-696h9m-8 62h9m-9-606h9m-9 1275h9m-9-24h9m-9-650h9m-9-598h9m-9-39h9m-8 1295h9m-9-1237h9m-9 536h9m-9 16h9m-8 697h9m-9-8h9m-9-1242h9m-9 15h9m-9 1211h9m-9-1219h9m-9 527h9m-9-533h9m-9 1233h9m-8-662h9m-9-574h9m-9 552h9m-8-546h9m-9 551h9m-9-596h9m-9 1306h9m-9-29h9m-9-12h9m-8 17h9m-9-727h9m-9 46h9m-9-559h9m-9 572h9m-9 683h9m-9-1239h9m-9 1239h9m-9 19h9m-9-1255h9m-9 1187h9m-9-667h9m-9 749h9m-8-1262h9m-9 1209h9m-9-700h9m-9 699h9m-9-741h9m-8-452h9m-9 516h9m-9 690h9m-9-1279h9m-9 1250h9m-8-673h9m-9 698h9m-9-12h9m-9-671h9m-9 671h9m-9-705h9m-8 705h9m-9-681h9m-9 11h9m-9-590h9m-9 1258h9m-9-1282h9m-8 44h9m-9-87h9m-9 1307h9m-9-1183h9m-8 519h9m-9-26h9m-9-501h9m-9 1215h9m-8-701h9m-9 702h9m-9-1260h9m-9-17h9m-9 608h9m-9-31h9m-8 678h9m-9-653h9m-9-5h9m-9 683h9m-8 9h9m-9-17h9m-9-653h9m-9-599h9m-9 1259h9m-9-675h9m-9 670h9m-9-1252h9m-9-7h9m-9 1252h9m-9-1261h9m-8 1285h9m-9-1246h9m-9 1237h9m-9-1255h9m-9 1267h9m-9-36h9m-9 5h9m-8-65h9m-9 74h9m-9-1224h9m-9 1243h9m-9 3h9m-9-1254h9m-9 449h9m-9 774h9m-9-1218h9m-9 2h9m-8 534h9m-9 741h9m-9-1282h9m-9 1243h9m-9-714h9m-9-506h9m-9 543h9m-9 640h9m-9-1292h9m-8 1347h9m-9-744h9m-9-543h9m-9 577h9m-9-554h9m-9-1h9m-8 528h9m-9 725h9m-9-764h9m-9-492h9m-9 1258h9m-9-53h9m-9 22h9m-9-1243h9m-9 588h9m-9-32h9m-8 56h9m-9-48h9m-9 0h9m-9-621h9m-9 50h9m-9 579h9m-9 50h9m-8-86h9m-9-520h9m-9 573h9m-9 664h9m-9-727h9m-9 694h9m-9-1225h9m-9 584h9m-9-16h9m-8 734h9m-9 23h9m-9-746h9m-9-535h9m-9 1222h9m-9-669h9m-8-24h9m-9 10h9m-9-562h9m-9 595h9m-9 610h9m-9 41h9m-8-1268h9m-9 511h9m-9-476h9m-9-4h9m-9 1237h9m-9-1263h9m-9 605h9m-9-19h9m-9-21h9m-9 706h9m-9-682h9m-8-633h9m-9 1326h9m-9-711h9m-9-556h9m-9 509h9m-8-525h9m-9 7h9m-9 39h9m-9 1199h9m-9 23h9m-9-620h9m-9-82h9m-8 4h9m-9 28h9m-9 21h9m-9-3h9m-8-37h9m-9-5h9m-9-575h9m-9 2h9m-9 561h9m-9 699h9m-9-1216h9m-9 1194h9m-8-1254h9m-9 1273h9m-9-665h9m-9 678h9m-9-1302h9m-9-3h9m-9 1267h9m-9-718h9m-9-426h9m-9 1163h9m-9-15h9m-8-651h9m-9 7h9m-9-8h9m-9 662h9m-9-1246h9m-8 518h9m-9 67h9m-9 705h9m-9-1260h9m-9 530h9m-9-625h9m-9 46h9m-9 1257h9m-9-7h9m-9-681h9m-9-4h9m-9-527h9m-8 515h9m-9 703h9m-9 17h9m-9 0h9m-9 33h9m-9-687h9m-8 641h9m-9 8h9m-9 1h9m-9-1285h9m-9 1308h9m-9-710h9m-9-551h9m-8-50h9m-9 46h9m-9 581h9m-9-6h9m-9 10h9m-9 677h9m-9-1261h9m-9 1235h9m-8-1248h9m-9 1275h9m-8-716h9m-9 29h9m-9-79h9m-8-529h9m-9 597h9m-9-34h9m-9 736h9m-9-1303h9m-9 566h9m-9-545h9m-8 539h9m-9 44h9m-9 49h9m-9-609h9m-9 1225h9m-9-1238h9m-8 38h9m-9-55h9m-9 547h9m-9-543h9m-9 14h9m-9 578h9m-8-545h9m-9 11h9m-9 1216h9m-9-666h9m-9-45h9m-9-504h9m-8 472h9m-9 723h9m-9 85h9m-9-734h9m-9-31h9m-8 16h9m-9-628h9m-9 15h9m-9 1303h9m-9-701h9m-9 683h9m-9-1157h9m-9-121h9m-9 65h9m-9 484h9m-9-493h9m-9 518h9m-8-518h9m-9 529h9m-9 24h9m-8-592h9m-9 46h9m-9 513h9m-9-587h9m-9 1315h9m-9-720h9m-9 694h9m-8-1249h9m-9 1241h9m-9-693h9m-9 19h9m-9-7h9m-9 653h9m-9 53h9m-9-1247h9m-8-7h9m-9 1245h9m-9-1242h9m-9 1254h9m-9-1254h9m-9 43h9m-9 546h9m-8-616h9m-9 552h9m-9 54h9m-9-18h9m-9-595h9m-9 67h9m-8 506h9m-9-543h9m-9-15h9m-9 11h9m-9 546h9m-9-14h9m-9-576h9m-9 60h9m-9 9h9m-8 574h9m-9-38h9m-9 649h9m-9-657h9m-9 683h9m-9 0h9m-9-655h9m-8-31h9m-9-544h9m-9 1247h9m-9-632h9m-9-26h9m-9-620h9m-8 1284h9m-9-1294h9m-9 21h9m-8 636h9m-9-520h9m-9-86h9m-9 579h9m-9-41h9m-8-4h9m-9 688h9m-9-662h9m-8-528h9m-9 517h9m-9 681h9m-9-690h9m-8-549h9m-9 515h9m-9 758h9m-9-31h9m-9-730h9m-9 11h9m-9 770h9m-9-1324h9m-8 1298h9m-9-709h9m-9-11h9m-9 672h9m-9 21h9m-9-670h9m-9 674h9m-9 2h9m-8-1242h9m-9 1257h9m-9-1292h9m-9 1263h9m-8-1248h9m-9 568h9m-9-10h9m-9-15h9m-9 76h9m-9-47h9m-9 675h9m-8-1321h9m-9 609h9m-9 737h9m-9-1237h9m-9 527h9m-9 712h9m-9-23h9m-9 2h9m-9-1237h9m-9-17h9m-9 568h9m-9 681h9m-9 9h9m-8-698h9m-9-560h9m-9-1h9m-9 1245h9m-9 26h9m-8 8h9m-9-696h9m-9-39h9m-9-545h9m-9-15h9m-9 1290h9m-9-1230h9m-9 4h9m-9-109h9m-8 21h9m-9 70h9m-8 538h9m-9 16h9m-9 714h9m-9-5h9m-8-719h9m-9 10h9m-9-559h9m-9 571h9m-8-605h9m-9 34h9m-9-6h9m-9 1251h9m-9-732h9m-9-551h9m-9 54h9m-9 1230h9m-8-729h9m-9-528h9m-9-7h9m-8 1251h9m-9-1267h9m-9-18h9m-9 66h9m-9 1258h9m-9-14h9m-9-678h9m-9 684h9m-9-769h9m-8 728h9m-9-698h9m-9 31h9m-9 23h9m-9-25h9m-9-578h9m-9 1263h9m-9 20h9m-8-58h9m-9-653h9m-9-13h9m-9-517h9m-9-56h9m-9 8h9m-9 587h9m-8-574h9m-9 596h9m-9-564h9m-9 504h9m-9-5h9m-9-1h9m-9-519h9m-8 1221h9m-9 15h9m-9 9h9m-9-705h9m-9-10h9m-9-15h9m-9 728h9m-9-668h9m-8-570h9m-9 507h9m-9 741h9m-9-697h9m-8-533h9m-9 1230h9m-9-9h9m-9-10h9m-9-1273h9m-9 47h9m-8 3h9m-9-39h9m-9 54h9m-9 1217h9m-9 17h9m-9-52h9m-9-677h9m-8-540h9m-9 20h9m-9 1238h9m-9 7h9m-9-4h9m-9-670h9m-9-559h9m-8-20h9m-9 527h9m-9 706h9m-9-15h9m-8-1233h9m-9 22h9m-9-18h9m-9 578h9m-9-33h9m-9 17h9m-9-4h9m-8 700h9m-9-711h9m-9-21h9m-9 30h9m-9 595h9m-9 71h9m-8-1244h9m-9 55h9m-9 541h9m-9 648h9m-9-1203h9m-9 1230h9m-9-4h9m-8-22h9m-9-1235h9m-9 1274h9m-8-1236h9m-9 1216h9m-9-646h9m-8-592h9m-9 17h9m-9 546h9m-9 5h9m-9 668h9m-8-1226h9m-9-23h9m-9 560h9m-9 707h9m-9-1307h9m-9 1283h9m-8-1239h9m-9 564h9m-9-19h9m-9 683h9m-9 5h9m-8-684h9m-9 20h9m-9-554h9m-9 522h9m-8 720h9m-9-1228h9m-9-1h9m-9 543h9m-9 683h9m-9-669h9m-9-552h9m-8 499h9m-9 722h9m-9-705h9m-8 16h9m-9-571h9m-9 101h9m-9 494h9m-9 660h9m-8-24h9m-9-1215h9m-9 1233h9m-9-1232h9m-9-20h9m-9 19h9m-9-3h9m-8 550h9m-9 707h9m-9-715h9m-9-519h9m-9 25h9m-9-64h9m-9 1278h9m-9-1259h9m-9 1231h9m-8-1253h9m-9 11h9m-9-5h9m-9 643h9m-9-77h9m-9-532h9m-9 1212h9m-8 23h9m-9-22h9m-9-1236h9m-9 544h9m-9-631h9m-9 72h9m-9 590h9m-9-58h9m-8-536h9m-9 9h9m-9 36h9m-8-57h9m-9 1280h9m-9-688h9m-9-27h9m-9 29h9m-9 689h9m-9-1232h9m-8 545h9m-9-565h9m-9 13h9m-9-19h9m-9-20h9m-9 1260h9m-9-688h9m-8-554h9m-9 25h9m-9 507h9m-9 46h9m-9-29h9m-9 712h9m-9-27h9m-9-1252h9m-9 521h9m-8-428h9m-9-61h9m-9 516h9m-9 16h9m-9-510h9m-9 508h9m-9-549h9m-9 585h9m-9 2h9m-9-587h9m-8 18h9m-9 593h9m-9 675h9m-9-33h9m-9-1245h9m-9 560h9m-8-614h9m-9 1292h9m-9-1248h9m-9 568h9m-9 25h9m-9 684h9m-9-715h9m-8 1h9m-9 12h9m-9 35h9m-9-31h9m-8-563h9m-9-2h9m-9 538h9m-9 713h9m-9-1155h9m-8 1201h9m-9-714h9m-9 34h9m-9 631h9m-8-673h9m-9 670h9m-9 18h9m-9-698h9m-9-52h9m-9-489h9m-9-37h9m-8 1235h9m-9-1273h9m-9 38h9m-9 564h9m-9-574h9m-9-21h9m-9 45h9m-9 545h9m-9 715h9m-9-3h9m-9-40h9m-9-677h9m-8 727h9m-9-1258h9m-9 544h9m-9-564h9m-9 545h9m-9 731h9m-9-1228h9m-8 507h9m-9 710h9m-9-4h9m-9-709h9m-9-517h9m-9-21h9m-8 1257h9m-9-1243h9m-9 562h9m-9 677h9m-9-720h9m-9 714h9m-9 9h9m-9-39h9m-8-655h9m-9 687h9m-9-13h9m-9-1241h9m-9 565h9m-8 13h9m-9 34h9m-9 13h9m-9-34h9m-8-602h9m-9 1255h9m-9 6h9m-9 7h9m-9-712h9m-8 52h9m-9-23h9m-9-587h9m-9-24h9m-9 2h9m-9 1347h9m-9-1370h9m-9 67h9m-9 1244h9m-8-1232h9m-9 1209h9m-9-635h9m-9 656h9m-9-718h9m-9 21h9m-9 77h9m-9-664h9m-9 1284h9m-8-721h9m-8 38h9m-9-569h9m-9-29h9m-9 628h9m-9-597h9m-9 563h9m-9 4h9m-8 696h9m-9-50h9m-9-1200h9m-9 1223h9m-9-1214h9m-9 534h9m-8-542h9m-9 558h9m-9-580h9m-9 1280h9m-8-29h9m-9-1208h9m-9 514h9m-9-595h9m-9 1314h9m-9-37h9m-8 4h9m-9-656h9m-9-542h9m-9 1197h9m-9 25h9m-9-703h9m-8-606h9m-9 1298h9m-9-711h9m-9 726h9m-9 21h9m-9-8h9m-9-1242h9m-9 1240h9m-9-1258h9m-8 1250h9m-9-755h9m-9-510h9m-9 1213h9m-9-723h9m-9 97h9m-9 667h9m-8-714h9m-9 44h9m-9 652h9m-8-694h9m-9 715h9m-9-2h9m-9-1247h9m-9 1239h9m-9-1257h9m-9 1262h9m-9-677h9m-8-571h9m-9-4h9m-9 551h9m-9 698h9m-9-1203h9m-9 1193h9m-9-695h9m-9 12h9m-9-559h9m-9 1240h9m-8 9h9m-9 13h9m-9-685h9m-9-584h9m-8 1216h9m-9 43h9m-9 3h9m-9-1237h9m-9 1227h9m-9 7h9m-9 2h9m-9-699h9m-8 712h9m-9-682h9m-9-608h9m-9 1272h9m-9-15h9m-9 7h9m-8-1279h9m-9 1313h9m-9-16h9m-9-30h9m-9 38h9m-8-1268h9m-9 1268h9m-9-1254h9m-9 1248h9m-9-713h9m-9 15h9m-8 668h9m-9 29h9m-9-728h9m-9 668h9m-9-659h9m-9 727h9m-9-703h9m-8-580h9m-9 574h9m-9-6h9m-9 702h9m-8-1249h9m-9 1254h9m-9-1245h9m-9 1187h9m-9-1206h9m-9-59h9m-9 625h9m-9 667h9m-9-1220h9m-9 543h9m-8 714h9m-9-36h9m-9-670h9m-9-537h9m-9 518h9m-9 733h9m-8-707h9m-9-559h9m-8 553h9m-9-58h9m-9 78h9m-9-22h9m-9-534h9m-8 1212h9m-9 40h9m-9-1285h9m-9-12h9m-9 1280h9m-9-727h9m-9-565h9m-9 606h9m-9-13h9m-9 17h9m-9-14h9m-8 725h9m-9-1256h9m-9 1221h9m-9 5h9m-9-1292h9m-9 592h9m-9-1h9m-9 22h9m-8-573h9m-9 603h9m-9-39h9m-9 683h9m-9-726h9m-9 41h9m-9 35h9m-9 634h9m-9-1218h9m-9 9h9m-8 520h9m-9-515h9m-9 1216h9m-9-1281h9m-9 596h9m-9 4h9m-9-10h9m-9-537h9m-9-18h9m-9 1231h9m-9-1260h9m-8 1249h9m-9-1272h9m-8 1299h9m-9-748h9m-9 754h9m-9-1212h9m-9 1216h9m-9-1263h9m-9 578h9m-9 674h9m-9-1249h9m-9 1250h9m-9-13h9m-9-11h9m-9 32h9m-8 3h9m-9-732h9m-9 725h9m-9-13h9m-9-20h9m-9-1200h9m-9 497h9m-9 724h9m-8-36h9m-9-662h9m-9 711h9m-9-1245h9m-9 1253h9m-9-1293h9m-9 1266h9m-9-1205h9m-9 493h9m-9 734h9m-9-1264h9m-8 528h9m-9 745h9m-9-702h9m-9 709h9m-9-1296h9m-8-14h9m-9 1258h9m-9 33h9m-9-1258h9m-9 1256h9m-9-8h9m-9-1248h9m-8 591h9m-9 644h9m-9-648h9m-9 2h9m-9 7h9m-8-50h9m-9-11h9m-9 44h9m-9 11h9m-9-589h9m-8 29h9m-9 544h9m-9 686h9m-9-1209h9m-9 1218h9m-9-1243h9m-8 1203h9m-9-699h9m-9 47h9m-9-13h9m-9-42h9m-9-481h9m-9 527h9m-9 661h9m-9 27h9m-8 6h9m-9-1240h9m-9-57h9m-9 1291h9m-9-712h9m-9 702h9m-8 0h9m-9 14h9m-9 0h9m-9-1245h9m-9 1244h9m-9-684h9m-9-14h9m-9 2h9m-8-35h9m-9 669h9m-9 69h9m-9-732h9m-9 729h9m-9-750h9m-8 117h9m-9 596h9m-9 29h9m-9-719h9m-9-563h9m-9 40h9m-9 574h9m-9-570h9m-9-23h9m-9 585h9m-9-1h9m-9-603h9m-8 570h9m-9-534h9m-9 1230h9m-9-1215h9m-9 534h9m-9 38h9m-9-23h9m-8-522h9m-9-46h9m-9 1267h9m-9-1286h9m-9 609h9m-9-632h9m-8 654h9m-9-599h9m-9 16h9m-8-107h9m-9 616h9m-9 74h9m-9 664h9m-9-779h9m-9 85h9m-8 662h9m-9-13h9m-9-632h9m-9 665h9m-9-1331h9m-8 1314h9m-9-1234h9m-9-109h9m-9 89h9m-9 532h9m-8-572h9m-9 1293h9m-9-673h9m-8 709h9m-9-757h9m-9 44h9m-9 674h9m-9 5h9m-9-729h9m-9 735h9m-8-732h9m-9-505h9m-9 1236h9m-9-1233h9m-9 13h9m-9 550h9m-9-58h9m-9-565h9m-8 1302h9m-9-13h9m-9-4h9m-9-689h9m-9 657h9m-9-654h9m-9-44h9m-9-484h9m-9 1h9m-9 532h9m-8-552h9m-9 559h9m-9-532h9m-9 1201h9m-9-665h9m-8 665h9m-9-697h9m-9 694h9m-9 16h9m-9-688h9m-8-18h9m-9 697h9m-9-643h9m-9 656h9m-9-1247h9m-9 12h9m-9 578h9m-9-584h9m-9 1245h9m-9 6h9m-9-1292h9m-9 1244h9m-8-1254h9m-9-15h9m-9 26h9m-9 1283h9m-8-744h9m-9-510h9m-9 578h9m-9 643h9m-9-700h9m-9 57h9m-9 661h9m-8-672h9m-9-21h9m-9-555h9m-9 1301h9m-9-60h9m-9-708h9m-8 650h9m-9-627h9m-9 714h9m-9 3h9m-9-685h9m-9-29h9m-8 701h9m-9-635h9m-9 611h9m-9-695h9m-9-557h9m-9-3h9m-9 1273h9m-8-712h9m-9-538h9m-9 11h9m-9 539h9m-9-552h9m-8 590h9m-9 645h9m-9 50h9m-9-1284h9m-9-20h9m-9 12h9m-9 46h9m-9 498h9m-9-492h9m-8 513h9m-9-582h9m-9 583h9m-9 24h9m-9-591h9m-9 1265h9m-9-1267h9m-9 4h9m-9 550h9m-8 0h9m-9 35h9m-9-33h9m-9 700h9m-9-1237h9m-8 1243h9m-9-725h9m-9 68h9m-9-70h9m-9-632h9m-9 90h9m-9 1242h9m-8-1200h9m-9-35h9m-9 1242h9m-9-1268h9m-9 6h9m-9 28h9m-8-5h9m-9 556h9m-9 719h9m-9 9h9m-9-742h9m-9 0h9m-9 729h9m-9-728h9m-8-534h9m-9 21h9m-9-20h9m-9 1232h9m-9-1236h9m-9 28h9m-9-12h9m-9 558h9m-9-77h9m-8 45h9m-9 32h9m-9 648h9m-9-667h9m-9-515h9m-9-14h9m-9 20h9m-8-7h9m-9 1192h9m-9-10h9m-9 25h9m-9 28h9m-8-721h9m-9 693h9m-9-680h9m-9 677h9m-9 17h9m-9-22h9m-8-650h9m-9-565h9m-9 1216h9m-9-1268h9m-9 29h9m-9 1262h9m-9-696h9m-9 687h9m-9-695h9m-9-33h9m-9 80h9m-8 676h9m-9-5h9m-9-701h9m-9 661h9m-9 13h9m-9-1205h9m-9 534h9m-9-556h9m-9 543h9m-8-567h9m-9 21h9m-9 503h9m-9 733h9m-9-700h9m-9-568h9m-9 17h9m-9 2h9m-9 541h9m-9 25h9m-9-578h9m-9 605h9m-8-603h9m-9 12h9m-9 1249h9m-9-13h9m-9-13h9m-8 35h9m-9-1285h9m-9 1283h9m-9-50h9m-8-679h9m-9-528h9m-9 1267h9m-9 4h9m-9-29h9m-8-9h9m-9-664h9m-9-533h9m-9 465h9m-9 737h9m-9-693h9m-9-470h9m-9-82h9m-8 16h9m-9 1194h9m-9-1234h9m-9 548h9m-9-6h9m-9 728h9m-8-1262h9m-9-9h9m-9-13h9m-9 44h9m-9 545h9m-9 686h9m-9 7h9m-8-659h9m-9-41h9m-9 6h9m-8 707h9m-9-1264h9m-9-45h9m-9 1296h9m-9-684h9m-9 704h9m-9-678h9m-8-64h9m-9 20h9m-9 707h9m-9-694h9m-9-47h9m-9 50h9m-9 683h9m-8 16h9m-9-692h9m-9 688h9m-9-3h9m-9-24h9m-9-1144h9m-9 1151h9m-8 15h9m-9-702h9m-9 683h9m-9-681h9m-9 703h9m-8-9h9m-9 35h9m-9-695h9m-9-590h9m-9 586h9m-9 3h9m-9 627h9m-8 51h9m-9-1211h9m-8 1206h9m-9-1210h9m-9 1211h9m-9 12h9m-9-659h9m-9-117h9m-9 6h9m-8 75h9m-9-501h9m-9 485h9m-9-515h9m-9 506h9m-8-467h9m-9 1169h9m-9-718h9m-9 34h9m-9 710h9m-8-38h9m-9-687h9m-9-1h9m-9 40h9m-8-74h9m-9 757h9m-9-1268h9m-9 1258h9m-9-1263h9m-9 1270h9m-9-1256h9m-9 1225h9m-8 2h9m-9-1237h9m-9 566h9m-9 11h9m-9 668h9m-8-1269h9m-9 5h9m-9 21h9m-9-12h9m-9 505h9m-9 727h9m-9-674h9m-9 751h9m-9-1308h9m-8 586h9m-9 684h9m-9-1247h9m-9 541h9m-9 698h9m-8-1291h9m-9 568h9m-9 57h9m-9 651h9m-9-697h9m-9 20h9m-9 683h9m-9-1298h9m-9 1335h9m-8-1280h9m-9 1247h9m-9 5h9m-9 3h9m-9-1254h9m-8 1271h9m-9-45h9m-9-639h9m-9-40h9m-9 739h9m-8-1279h9m-9-63h9m-9 83h9m-9-22h9m-9 537h9m-9 703h9m-8-1252h9m-9 1232h9m-9-1193h9m-9 542h9m-9 2h9m-9-582h9m-9-24h9m-8 600h9m-9 704h9m-9-697h9m-9-582h9m-9-31h9m-9 35h9m-8 39h9m-9-36h9m-9 579h9m-9 674h9m-9-26h9m-9-11h9m-9-697h9m-9 31h9m-9-579h9m-9 585h9m-8-563h9m-9-43h9m-9 38h9m-9 7h9m-9 567h9m-9-13h9m-9-13h9m-9-535h9m-8 1227h9m-9-1192h9m-9 1212h9m-9-17h9m-9 15h9m-9-1255h9m-9 2h9m-8 24h9m-9 543h9m-9 15h9m-9-555h9m-9 1252h9m-9-1257h9m-9 1274h9m-9-728h9m-9 690h9m-8-5h9m-9-5h9m-9-15h9m-9 20h9m-9-1227h9m-9 539h9m-9-628h9m-9 1324h9m-8-730h9m-9 45h9m-9-567h9m-9 562h9m-9-574h9m-9 551h9m-8 7h9m-9 31h9m-9-49h9m-9 709h9m-9 28h9m-9-1274h9m-9 545h9m-9-534h9m-9 1238h9m-8-677h9m-9-576h9m-9 27h9m-9 475h9m-9-508h9m-8 20h9m-9 1253h9m-9-719h9m-9 750h9m-9-42h9m-9-686h9m-9-15h9m-9-530h9m-9 1234h9m-9-687h9m-8-578h9m-9 547h9m-9-528h9m-9 561h9m-8-590h9m-9 8h9m-9 49h9m-9-15h9m-9 1243h9m-9-715h9m-8 729h9m-9-1273h9m-9 8h9m-9 501h9m-8 63h9m-9-578h9m-9 508h9m-9-569h9m-8 629h9m-9-51h9m-9-519h9m-9 551h9m-9-575h9m-9 1281h9m-8-725h9m-9 712h9m-9-1205h9m-9 1205h9m-9-1236h9m-9-52h9m-8 558h9m-9-497h9m-9-28h9m-9 613h9m-9 712h9m-9-1262h9m-8-17h9m-9 1204h9m-9 24h9m-9 0h9m-9-722h9m-8-521h9m-9 1242h9m-9-13h9m-9-662h9m-8-586h9m-9 47h9m-9-82h9m-9 576h9m-9 699h9m-9 13h9m-9 6h9m-8-1274h9m-9 1246h9m-9 17h9m-9-642h9m-9-29h9m-9-2h9m-8 666h9m-9-1246h9m-9 540h9m-9-502h9m-9-13h9m-9 27h9m-9 1183h9m-9-639h9m-9 669h9m-8-9h9m-9-702h9m-9 736h9m-9-1306h9m-9 1274h9m-9-704h9m-9 680h9m-8 31h9m-9-12h9m-8-6h9m-9-624h9m-9-58h9m-9-21h9m-9 64h9m-9 643h9m-9-38h9m-9 13h9m-9-1222h9m-9-15h9m-9 1250h9m-9-1247h9m-8 632h9m-9-37h9m-9 664h9m-9-1228h9m-9 531h9m-9 4h9m-9 711h9m-9-678h9m-9 690h9m-9-682h9m-8-24h9m-9-539h9m-8 471h9m-9-522h9m-9 569h9m-9-529h9m-9 1215h9m-9-642h9m-9 683h9m-9 0h9m-9-1241h9m-9-27h9m-9-9h9m-9 1276h9m-8-30h9m-9-1302h9m-9 32h9m-9 71h9m-9-27h9m-9 1241h9m-9-683h9m-9-567h9m-9 577h9m-9 679h9m-9-15h9m-9-1296h9m-9 63h9m-9 502h9m-8-523h9m-9 1265h9m-9 21h9m-9-33h9m-9-758h9m-9-483h9m-9-37h9m-9 19h9m-9 4h9m-8 622h9m-9-605h9m-9 33h9m-9 1190h9m-9-690h9m-9 720h9m-8-45h9m-9 46h9m-9-673h9m-9-560h9m-9 1213h9m-9-657h9m-9 674h9m-8-1238h9m-9 577h9m-9-22h9m-9 685h9m-9-1259h9m-9 3h9m-9 21h9m-9-76h9m-9 57h9m-9 15h9m-9-1h9m-9 1244h9m-8 1h9m-9-1302h9m-9 1302h9m-9-8h9m-8-639h9m-9-60h9m-9-568h9m-9 1259h9m-8-705h9m-9 725h9m-9 0h9m-9-1276h9m-9 547h9m-9-614h9m-9 1310h9m-9-681h9m-8-565h9m-9 5h9m-9 10h9m-9 578h9m-9 661h9m-9-708h9m-8 37h9m-9-12h9m-9-4h9m-9-42h9m-9-543h9m-8 603h9m-9-548h9m-9-10h9m-9-22h9m-9 1246h9m-9-727h9m-8-504h9m-9 595h9m-9 642h9m-9 5h9m-9-1208h9m-9 560h9m-9 663h9m-9-26h9m-9 32h9m-9-721h9m-8-564h9m-9 1203h9m-9 55h9m-8-1237h9m-9 1226h9m-9-693h9m-9-562h9m-9 1286h9m-9-2h9m-8-708h9m-9 687h9m-9-1253h9m-9-25h9m-8 1282h9m-9-1229h9m-9 594h9m-9 621h9m-9 35h9m-9-51h9m-9-657h9m-8 21h9m-9-614h9m-9 593h9m-9 690h9m-8-711h9m-9-554h9m-9 583h9m-9-577h9m-9 1296h9m-8-1259h9m-9 520h9m-9-582h9m-9 1h9m-9-5h9m-9 1333h9m-8-24h9m-9-28h9m-9-680h9m-8 721h9m-9-52h9m-9-711h9m-9-437h9m-9 1189h9m-9-718h9m-9-2h9m-9-4h9m-9-548h9m-9 1252h9m-9 12h9m-9-1284h9m-9 587h9m-9-524h9m-8 503h9m-9-7h9m-9 728h9m-9-28h9m-9-676h9m-9-566h9m-9 1275h9m-9-1334h9m-8 1303h9m-9 16h9m-9-1229h9m-8 529h9m-9 705h9m-9-661h9m-9-36h9m-9-53h9m-8 39h9m-9-561h9m-9 551h9m-9 720h9m-9-32h9m-9-1204h9m-9 1199h9m-9-663h9m-9-584h9m-9 1277h9m-8-1283h9m-9 1309h9m-9-43h9m-9-660h9m-9-575h9m-9 533h9m-9-13h9m-8-518h9m-9 1242h9m-9-645h9m-9-65h9m-9-570h9m-9-22h9m-8 621h9m-9-553h9m-9 525h9m-9-511h9m-9 529h9m-9 729h9m-8-15h9m-9-1242h9m-9-17h9m-9 1229h9m-9-652h9m-9-567h9m-9 1253h9m-9-775h9m-9 774h9m-8-34h9m-9-2h9m-9-1263h9m-8 1275h9m-9 19h9m-9-1239h9m-9-30h9m-9 1232h9m-9 36h9m-9-703h9m-9 671h9m-9 35h9m-8-701h9m-9-32h9m-8 20h9m-9-552h9m-9 1239h9m-9-701h9m-9 34h9m-9 650h9m-9 5h9m-9-1244h9m-9-13h9m-9 25h9m-9 513h9m-9 57h9m-9-45h9m-8 727h9m-9-13h9m-9-639h9m-9-57h9m-9-26h9m-8-518h9m-9 1219h9m-8 25h9m-9-1239h9m-9 580h9m-9-100h9m-9-493h9m-9 26h9m-9 523h9m-9-562h9m-9-11h9m-9 19h9m-9 609h9m-8-66h9m-9 720h9m-9-21h9m-9-702h9m-8 732h9m-9-1284h9m-9 1259h9m-8 44h9m-9-716h9m-9-6h9m-9 28h9m-9-549h9m-9 1231h9m-9-17h9m-9 19h9m-8-790h9m-9 750h9m-9 19h9m-9 19h9m-9-729h9m-8-512h9m-9 484h9m-9-523h9m-9 14h9m-9 537h9m-9 68h9m-9-61h9m-9-536h9m-9 547h9m-9-589h9m-8 1308h9m-9-728h9m-9 715h9m-9-38h9m-9-624h9m-9 635h9m-8-679h9m-9-19h9m-9-525h9m-9 547h9m-9-517h9m-9-40h9m-9 28h9m-9-28h9m-9 1245h9m-9-657h9m-9-621h9m-9-10h9m-8 615h9m-9-47h9m-9-489h9m-9-117h9m-9 1314h9m-9 11h9m-8-1h9m-9-1247h9m-9 1251h9m-9-740h9m-8-554h9m-9 1290h9m-9-673h9m-9-12h9m-9 683h9m-9-1232h9m-9 1h9m-8-7h9m-9 552h9m-9-540h9m-8 529h9m-9 708h9m-9-1254h9m-9 1268h9m-9-4h9m-8-14h9m-9-710h9m-9 8h9m-9-541h9m-9-2h9m-9 537h9m-9 33h9m-9 9h9m-8-14h9m-9-35h9m-9 3h9m-9 14h9m-9-572h9m-8 599h9m-9-620h9m-9 1311h9m-8-1259h9m-9 9h9m-9 529h9m-9-487h9m-9 537h9m-9-26h9m-9 717h9m-8-20h9m-9-1287h9m-9 13h9m-9 1270h9m-9 47h9m-9-1269h9m-9-37h9m-8 1241h9m-9-713h9m-9 43h9m-9-8h9m-9-576h9m-9-5h9m-9 1268h9m-9-661h9m-8-70h9m-9-507h9m-9 583h9m-9-593h9m-8 1286h9m-9-68h9m-9-745h9m-9 757h9m-9-622h9m-8-76h9m-9 18h9m-9-560h9m-9 27h9m-9 1222h9m-9-5h9m-9-1267h9m-8 591h9m-9-567h9m-9-42h9m-8 46h9m-9 1270h9m-9-1317h9m-9 1272h9m-9-1193h9m-9 1218h9m-8-1246h9m-9-39h9m-9 1286h9m-9-17h9m-8-1248h9m-9-36h9m-9 9h9m-9 55h9m-9-53h9m-9 65h9m-9 1203h9m-9-711h9m-9 695h9m-8-1176h9m-9 514h9m-9-29h9m-9-537h9m-9 617h9m-9-609h9m-9 522h9m-9 736h9m-9-1268h9m-8 1352h9m-9-67h9m-9-723h9m-9 32h9m-9-574h9m-9-34h9m-9 57h9m-9-66h9m-8 594h9m-9 695h9m-9-1286h9m-8 5h9m-9 1283h9m-9-21h9m-9 9h9m-9-647h9m-9 684h9m-8-11h9m-9 8h9m-9-1327h9m-9 543h9m-9 771h9m-9-1264h9m-8 554h9m-9-13h9m-9 57h9m-9-37h9m-8 695h9m-9-1330h9m-9 631h9m-9 710h9m-8-1290h9m-9 575h9m-9-517h9m-9 1214h9m-8-1283h9m-9 1270h9m-9-36h9m-9-636h9m-9-552h9m-9 19h9m-8-11h9m-9 1260h9m-9-1254h9m-9-50h9m-8 593h9m-9-8h9m-9-558h9m-9-53h9m-9 1296h9m-8 7h9m-9-769h9m-9 79h9m-9-568h9m-9 1250h9m-9-1249h9m-9 1218h9m-9-679h9m-9-512h9m-8 1241h9m-9-20h9m-9-664h9m-9-595h9m-9 1278h9m-8-1313h9m-9 643h9m-9 642h9m-9-677h9m-9 680h9m-9-703h9m-9-496h9m-9 1204h9m-9-697h9m-9 694h9m-8-1232h9m-9 1235h9m-9-683h9m-9 717h9m-9-40h9m-9-667h9m-9 686h9m-9-1253h9m-9 1248h9m-8-681h9m-9-565h9m-9 1262h9m-9 5h9m-9-23h9m-9 20h9m-8 18h9m-9-746h9m-9-35h9m-9-21h9m-9-486h9m-8 1268h9m-9-699h9m-9-565h9m-9-28h9m-9 584h9m-8-545h9m-9 1236h9m-9-1213h9m-9-38h9m-9 549h9m-8-549h9m-9-19h9m-9-1h9m-9 1255h9m-9-1230h9m-8 1299h9m-9-776h9m-9-34h9m-9-492h9m-9 1251h9m-9-1295h9m-9 593h9m-9 718h9m-8-716h9m-9 721h9m-9-707h9m-9-601h9m-9 611h9m-8-561h9m-9-26h9m-9 1274h9m-9-1236h9m-9-35h9m-9 1255h9m-9-1239h9m-9-7h9m-9 4h9m-8 566h9m-9 683h9m-9-698h9m-9-592h9m-9-61h9m-8 114h9m-9 1232h9m-9-1286h9m-9 35h9m-9 1244h9m-9-670h9m-8-539h9m-9 1238h9m-9-31h9m-8-9h9m-9-689h9m-9-596h9m-9 75h9m-9 1238h9m-8-2h9m-9-708h9m-9 663h9m-9-1232h9m-9 1267h9m-9-673h9m-9 668h9m-9-706h9m-8 40h9m-9-578h9m-9 1271h9m-8-32h9m-9 28h9m-9-22h9m-9-724h9m-9-524h9m-9 573h9m-9 671h9m-9-1238h9m-9-33h9m-8 1291h9m-9-30h9m-9-1215h9m-9 1231h9m-9-1289h9m-8 597h9m-9 8h9m-9 726h9m-9-47h9m-9-1185h9m-9 1201h9m-9-678h9m-9-599h9m-9 604h9m-9-579h9m-9 1276h9m-8-34h9m-9-40h9m-9 30h9m-9-1216h9m-9 513h9m-9 728h9m-9-52h9m-9-1206h9m-9 19h9m-8 5h9m-9 477h9m-9 52h9m-9 35h9m-9 5h9m-9-555h9m-8 1196h9m-9-1245h9m-9 23h9m-9 1243h9m-9 3h9m-9-715h9m-9 29h9m-8-608h9m-9 44h9m-9-3h9m-9 1262h9m-9-16h9m-9-1242h9m-9 33h9m-9 519h9m-8 674h9m-9 10h9m-9-9h9m-9-32h9m-9 34h9m-9 29h9m-9-713h9m-9-590h9m-8 1256h9m-9-1213h9m-9 1257h9m-9-1260h9m-9 1212h9m-9 35h9m-8-1179h9m-9 1167h9m-9 19h9m-9-1277h9m-9 1247h9m-9-1247h9m-9 1243h9m-9 9h9m-9-3h9m-8-648h9m-9 5h9m-9-22h9m-9-44h9m-9 724h9m-9-1262h9m-9 20h9m-9 1258h9m-9-701h9m-9-522h9m-8-36h9m-9-39h9m-9 563h9m-8-539h9m-9 82h9m-9-65h9m-9 1227h9m-8-633h9m-9-613h9m-9 554h9m-9 711h9m-9-721h9m-9-497h9m-9 1218h9m-9-1243h9m-9 537h9m-8 723h9m-9-722h9m-9 10h9m-9 41h9m-9-30h9m-9 678h9m-8-1205h9m-9 505h9m-9 718h9m-9-13h9m-9-15h9m-9-1233h9m-9 12h9m-8-13h9m-9-27h9m-9 588h9m-9-521h9m-9-28h9m-9-53h9m-8 26h9m-9 581h9m-9 664h9m-9 10h9m-9-687h9m-9-551h9m-9 1236h9m-8 3h9m-9 8h9m-9-692h9m-9 702h9m-8-27h9m-9-683h9m-9 698h9m-9-715h9m-9-1h9m-9 702h9m-9-1299h9m-8 1333h9m-9-3h9m-9-674h9m-9-559h9m-9 1227h9m-9-1307h9m-9 1274h9m-9-1245h9m-9 1287h9m-9-736h9m-9 713h9m-8-1253h9m-9 587h9m-9 687h9m-9-18h9m-9-658h9m-8-589h9m-9-91h9m-9 672h9m-9 686h9m-9-1225h9m-9 1204h9m-8-1325h9m-9 53h9m-9 13h9m-8 0h9m-9 1262h9m-9-1211h9m-9-22h9m-8 1229h9m-9-1271h9m-9 1288h9m-9-1208h9m-9 1192h9m-9-4h9m-8 16h9m-9-18h9m-9 5h9m-8-28h9m-9-1199h9m-9-32h9m-8 1248h9m-9-1309h9m-9 167h9m-9 1159h9m-9-1260h9m-9 1250h9m-9-570h9m-9 11h9m-9 563h9m-9-584h9m-8 29h9m-9 560h9m-9-573h9m-9-695h9m-9 21h9m-9 708h9m-9-688h9m-9 683h9m-9 540h9m-8-561h9m-9 556h9m-9-1251h9m-9 0h9m-9 1219h9m-9 32h9m-9-535h9m-8 1h9m-9 30h9m-9-789h9m-9 733h9m-9-701h9m-9 6h9m-8 1251h9m-9-496h9m-9-84h9m-9 551h9m-9 6h9m-9 19h9m-9 7h9m-9-1276h9m-9 727h9m-9-699h9m-9-1h9m-8 28h9m-9-7h9m-9 675h9m-9 0h9m-9-666h9m-9 694h9m-9 537h9m-9-1196h9m-9 630h9m-8 553h9m-9-1249h9m-9 715h9m-9-6h9m-9-658h9m-9 1202h9m-9-1341h9m-9 99h9m-9 1273h9m-9-1311h9m-9 35h9m-9 681h9m-8-701h9m-9 703h9m-9 565h9m-9-17h9m-9 24h9m-9-1249h9m-9 704h9m-9-720h9m-9 737h9m-9 517h9m-9-1227h9m-8 682h9m-9 551h9m-9-5h9m-9-5h9m-9-1217h9m-9 1244h9m-9-609h9m-9 616h9m-9-38h9m-8-1259h9m-9 23h9m-9 1261h9m-9-1281h9m-9 690h9m-8 602h9m-9-56h9m-9-1194h9m-9 1192h9m-9-507h9m-8 5h9m-9 561h9m-9-573h9m-9 2h9m-9-689h9m-9-20h9m-8 715h9m-9-656h9m-9 637h9m-9 26h9m-9 555h9m-8-1258h9m-9 716h9m-9 520h9m-9-50h9m-9-508h9m-9-2h9m-9-671h9m-9 662h9m-8-676h9m-9 1265h9m-9-1319h9m-9 754h9m-9 550h9m-9-16h9m-9 37h9m-8-1265h9m-9 1242h9m-9-573h9m-9 561h9m-9 2h9m-9-38h9m-8 59h9m-9-589h9m-9 49h9m-9 10h9m-9-14h9m-9-702h9m-9 702h9m-9-40h9m-8-703h9m-9 724h9m-9 533h9m-9-1239h9m-9 1279h9m-9-1309h9m-9 44h9m-8 695h9m-9-9h9m-9 565h9m-9-1283h9m-9 724h9m-9-21h9m-9-707h9m-9 1293h9m-9-2h9m-8-55h9m-9-1197h9m-8 1244h9m-9-1255h9m-9 1242h9m-9-565h9m-9 567h9m-8-543h9m-9 514h9m-9-1210h9m-9-1h9m-9 24h9m-9 670h9m-8 580h9m-9-1273h9m-9 704h9m-9-731h9m-9 717h9m-9-685h9m-9 1230h9m-9 26h9m-9-592h9m-9 50h9m-9 550h9m-9-569h9m-8 6h9m-9-722h9m-9 1254h9m-9-1257h9m-9 1283h9m-8-17h9m-9-1273h9m-9 701h9m-9-708h9m-9 734h9m-9-644h9m-9-59h9m-9 1227h9m-9-540h9m-9-6h9m-8 567h9m-9-571h9m-9 17h9m-9-710h9m-9 37h9m-9 1227h9m-9-17h9m-8-1227h9m-9 715h9m-9 536h9m-9-1234h9m-9-49h9m-9 62h9m-9 645h9m-9 1h9m-8-688h9m-9 698h9m-9-745h9m-9 55h9m-9-8h9m-9 1261h9m-8-1h9m-9-1213h9m-9-46h9m-9 5h9m-9 1220h9m-9 70h9m-9-43h9m-9 2h9m-8-553h9m-9-747h9m-9 1317h9m-9-27h9m-9-1256h9m-9 1263h9m-8-1265h9m-9 1261h9m-9-526h9m-9-8h9m-9 543h9m-9-1272h9m-9 714h9m-9 574h9m-8-6h9m-9-547h9m-9-713h9m-9 682h9m-8 18h9m-9-11h9m-9 543h9m-9-568h9m-9 57h9m-9 543h9m-8-1284h9m-9-23h9m-9 738h9m-9 0h9m-9-703h9m-9 690h9m-9-707h9m-9 1268h9m-9-561h9m-9 579h9m-9-1258h9m-8 27h9m-9 1205h9m-9 17h9m-9 0h9m-9-554h9m-9-721h9m-9 1270h9m-8-12h9m-9-3h9m-9-513h9m-9 511h9m-9 28h9m-9-16h9m-9 1h9m-9-1231h9m-9 1254h9m-8-25h9m-9-531h9m-9-715h9m-9 23h9m-9 675h9m-9 9h9m-9-731h9m-9 1252h9m-8 45h9m-9-17h9m-9-1163h9m-9 617h9m-9 544h9m-9-1290h9m-9 1285h9m-9-551h9m-9-716h9m-9 1246h9m-9 17h9m-8 19h9m-9-21h9m-9-1258h9m-9 715h9m-9-9h9m-9 585h9m-9-1324h9m-9 783h9m-9 562h9m-9-51h9m-8 15h9m-9 11h9m-9-587h9m-9-661h9m-9 695h9m-9-21h9m-9-708h9m-9 24h9m-9 706h9m-9-13h9m-9-8h9m-8 552h9m-9-1235h9m-9 1223h9m-9-513h9m-9-708h9m-9 17h9m-8-28h9m-9 694h9m-9 564h9m-9-1h9m-9-10h9m-9-554h9m-9 585h9m-9-1280h9m-8 1256h9m-9-35h9m-9 12h9m-9-1273h9m-9 36h9m-9-23h9m-8 62h9m-9-12h9m-8 19h9m-9-35h9m-8-30h9m-8-2h9m-9 26h9m-8-48h9"/>
<line x1="282.60" y1="37.53" x2="327.40" y2="37.53" stroke="#d6e04a" stroke-width="1.3"/>
<line x1="327.40" y1="28.48" x2="479.10" y2="28.48" stroke="#d6e04a" stroke-width="1.3"/>
<line x1="282.40" y1="90.93" x2="311.60" y2="90.93" stroke="#d6e04a" stroke-width="1.3"/>
<line x1="311.60" y1="88.92" x2="366.00" y2="88.92" stroke="#d6e04a" stroke-width="1.3"/>
<line x1="366.00" y1="84.23" x2="473.80" y2="84.23" stroke="#d6e04a" stroke-width="1.3"/>
<line x1="474.30" y1="97.63" x2="478.60" y2="97.63" stroke="#d6e04a" stroke-width="1.3"/>
<line x1="282.80" y1="144.36" x2="293.00" y2="144.36" stroke="#d6e04a" stroke-width="1.3"/>
<line x1="293.00" y1="140.96" x2="311.00" y2="140.96" stroke="#d6e04a" stroke-width="1.3"/>
<line x1="311.00" y1="136.20" x2="325.40" y2="136.20" stroke="#d6e04a" stroke-width="1.3"/>
<line x1="325.40" y1="132.80" x2="339.50" y2="132.80" stroke="#d6e04a" stroke-width="1.3"/>
<line x1="339.50" y1="153.20" x2="373.80" y2="153.20" stroke="#d6e04a" stroke-width="1.3"/>
<line x1="373.80" y1="134.84" x2="409.70" y2="134.84" stroke="#d6e04a" stroke-width="1.3"/>
<line x1="409.70" y1="153.20" x2="478.60" y2="153.20" stroke="#d6e04a" stroke-width="1.3"/>
<rect x="373.80" y="122.20" width="35.40" height="5.90" fill="#84e43c" />
<text x="391.50" y="127.30" font-size="5.6" fill="#2b6a12" text-anchor="middle" font-weight="bold" >CRA</text>
<text x="266.90" y="179.70" font-size="7.0" fill="#333" text-anchor="start" font-weight="normal"  textLength="30.1" lengthAdjust="spacingAndGlyphs">centromere</text>
<text x="472.80" y="181.00" font-size="7.0" fill="#333" text-anchor="start" font-weight="normal"  textLength="23.2" lengthAdjust="spacingAndGlyphs">telomere</text>
<text x="245.20" y="202.20" font-size="12.9" fill="#111" text-anchor="start" font-weight="bold" >C</text>
<path d="M293.40,216.60 L293.40,210.41 Q293.40,207.60 296.21,207.60 L302.29,207.60 Q305.10,207.60 305.10,210.41 L305.10,216.60 Z" fill="url(#gcap)" stroke="#a0a0a0" stroke-width="0.6"/>
<path d="M293.70,210.12 L293.70,210.41 Q293.70,207.90 296.21,207.90 L302.29,207.90 Q304.80,207.90 304.80,210.41 L304.80,210.12 Q299.25,209.11 293.70,210.12 Z" fill="#9c9c9c" opacity="0.8"/>
<rect x="295.20" y="216.60" width="8.60" height="13.40" fill="url(#gstalk)" />
<path d="M293.40,230.00 L305.10,230.00 L305.10,242.60 L299.25,251.80 L293.40,242.60 Z" fill="url(#gwide)"/>
<path d="M293.40,242.60 L305.10,242.60 L299.25,251.80 Z" fill="url(#gcone)" opacity="0.8"/>
<path d="M299.25,251.80 L305.10,254.60 L293.40,254.60 Z" fill="#e2e2e2"/>
<path d="M293.40,242.60 L299.87,252.78 M305.10,242.60 L298.63,252.78" stroke="#666" stroke-width="0.6" fill="none"/>
<path d="M293.40,254.60 L299.25,251.80 L305.10,254.60" stroke="#7a7a7a" stroke-width="0.6" fill="none"/>
<path d="M293.40,254.60 L305.10,254.60 L305.10,373.57 Q305.10,376.20 299.25,376.20 Q293.40,376.20 293.40,373.57 Z" fill="url(#gwhite)" stroke="#9a9a9a" stroke-width="0.6"/>
<rect x="293.40" y="262.30" width="11.70" height="26.70" fill="url(#gdark)" />
<rect x="293.40" y="299.70" width="11.70" height="16.70" fill="url(#gmid)" />
<rect x="293.40" y="332.60" width="11.70" height="6.00" fill="url(#glight)" />
<rect x="293.40" y="346.00" width="11.70" height="10.50" fill="url(#gmid2)" />
<path d="M293.40,242.60 L293.40,230.00 L305.10,230.00 L305.10,242.60" stroke="#a8a8a8" stroke-width="0.6" fill="none"/>
<text x="289.90" y="215.50" font-size="5.4" fill="#3a3a3a" text-anchor="end" font-weight="bold" >p13</text>
<text x="289.90" y="238.20" font-size="5.4" fill="#3a3a3a" text-anchor="end" font-weight="bold" >p11.2</text>
<text x="289.90" y="261.70" font-size="5.4" fill="#3a3a3a" text-anchor="end" font-weight="bold" >q11.2</text>
<text x="289.90" y="277.50" font-size="5.4" fill="#3a3a3a" text-anchor="end" font-weight="bold" >q21.1</text>
<text x="289.90" y="299.00" font-size="5.4" fill="#3a3a3a" text-anchor="end" font-weight="bold" >q21.2</text>
<text x="289.90" y="313.80" font-size="5.4" fill="#3a3a3a" text-anchor="end" font-weight="bold" >q21.3</text>
<text x="289.90" y="331.00" font-size="5.4" fill="#3a3a3a" text-anchor="end" font-weight="bold" >q22.11</text>
<text x="289.90" y="342.30" font-size="5.4" fill="#3a3a3a" text-anchor="end" font-weight="bold" >q22.12</text>
<text x="289.90" y="357.70" font-size="5.4" fill="#3a3a3a" text-anchor="end" font-weight="bold" >q22.2</text>
<text x="289.90" y="373.30" font-size="5.4" fill="#3a3a3a" text-anchor="end" font-weight="bold" >q22.3</text>
<line x1="343.4" y1="214.4" x2="306.2" y2="341.6" stroke="#222" stroke-width="1.1" stroke-dasharray="1.8,1.3"/>
<line x1="345.2" y1="354.6" x2="307.4" y2="371.6" stroke="#222" stroke-width="1.1" stroke-dasharray="1.8,1.3"/>
<svg x="345.9" y="215.5" width="125.60" height="140.50" viewBox="0 0 18 100" preserveAspectRatio="none"><path fill="#dd4242" d="M0 0h1.04v1.3h-1.04zM0 2h1.04v2.3h-1.04z"/><path fill="#df4848" d="M0 1h1.04v1.3h-1.04zM0 5h1.04v2.3h-1.04zM0 9h1.04v1.3h-1.04z"/><path fill="#de4444" d="M0 4h1.04v1.3h-1.04z"/><path fill="#dd4040" d="M0 7h1.04v1.3h-1.04z"/><path fill="#df4646" d="M0 8h1.04v1.3h-1.04z"/><path fill="#e98c8a" d="M0 10h1.04v1.3h-1.04zM0 16h1.04v1.3h-1.04zM0 22h1.04v1.3h-1.04zM0 27h1.04v1.3h-1.04zM0 47h1.04v1.3h-1.04zM0 51h1.04v1.3h-1.04zM0 72h1.04v1.3h-1.04zM0 77h1.04v1.3h-1.04zM0 86h1.04v1.3h-1.04zM0 96h1.04v2.3h-1.04zM0 99h1.04v1.3h-1.04z"/><path fill="#e98a88" d="M0 11h1.04v1.3h-1.04zM0 13h1.04v1.3h-1.04zM0 17h1.04v1.3h-1.04zM0 24h1.04v1.3h-1.04zM0 29h1.04v1.3h-1.04zM0 39h1.04v1.3h-1.04zM0 45h1.04v2.3h-1.04zM0 53h1.04v1.3h-1.04zM0 57h1.04v1.3h-1.04zM0 60h1.04v2.3h-1.04zM0 66h1.04v1.3h-1.04zM0 69h1.04v1.3h-1.04zM0 75h1.04v1.3h-1.04zM0 79h1.04v1.3h-1.04zM0 98h1.04v1.3h-1.04z"/><path fill="#ea8e8c" d="M0 12h1.04v1.3h-1.04zM0 14h1.04v2.3h-1.04zM0 19h1.04v2.3h-1.04zM0 23h1.04v1.3h-1.04zM0 26h1.04v1.3h-1.04zM0 31h1.04v1.3h-1.04zM0 33h1.04v1.3h-1.04zM0 35h1.04v3.3h-1.04zM0 42h1.04v1.3h-1.04zM0 50h1.04v1.3h-1.04zM0 52h1.04v1.3h-1.04zM0 54h1.04v2.3h-1.04zM0 59h1.04v1.3h-1.04zM0 62h1.04v2.3h-1.04zM0 65h1.04v1.3h-1.04zM0 67h1.04v2.3h-1.04zM0 70h1.04v2.3h-1.04zM0 73h1.04v2.3h-1.04zM0 78h1.04v1.3h-1.04zM0 80h1.04v1.3h-1.04zM0 83h1.04v1.3h-1.04zM0 87h1.04v2.3h-1.04zM0 90h1.04v1.3h-1.04zM0 93h1.04v2.3h-1.04z"/><path fill="#eb908e" d="M0 18h1.04v1.3h-1.04zM0 21h1.04v1.3h-1.04zM0 28h1.04v1.3h-1.04zM0 32h1.04v1.3h-1.04zM0 38h1.04v1.3h-1.04zM0 40h1.04v2.3h-1.04zM0 43h1.04v1.3h-1.04zM0 48h1.04v2.3h-1.04zM0 76h1.04v1.3h-1.04zM0 81h1.04v2.3h-1.04zM0 84h1.04v2.3h-1.04zM0 95h1.04v1.3h-1.04z"/><path fill="#eb9290" d="M0 25h1.04v1.3h-1.04zM0 30h1.04v1.3h-1.04zM0 34h1.04v1.3h-1.04zM0 44h1.04v1.3h-1.04zM0 56h1.04v1.3h-1.04zM0 58h1.04v1.3h-1.04zM0 64h1.04v1.3h-1.04zM0 89h1.04v1.3h-1.04zM0 91h1.04v2.3h-1.04z"/><path fill="#e77c7c" d="M1 0h1.04v1.3h-1.04zM1 5h1.04v1.3h-1.04zM1 20h1.04v1.3h-1.04z"/><path fill="#e67a7a" d="M1 1h1.04v1.3h-1.04zM1 4h1.04v1.3h-1.04zM1 7h1.04v1.3h-1.04zM1 9h1.04v1.3h-1.04zM1 11h1.04v2.3h-1.04zM1 14h1.04v1.3h-1.04zM1 21h1.04v4.3h-1.04zM1 26h1.04v4.3h-1.04zM1 31h1.04v1.3h-1.04zM16 4h1.04v1.3h-1.04zM16 23h1.04v1.3h-1.04zM16 25h1.04v1.3h-1.04zM16 31h1.04v1.3h-1.04zM16 34h1.04v1.3h-1.04zM16 37h1.04v1.3h-1.04zM16 47h1.04v1.3h-1.04zM16 51h1.04v1.3h-1.04zM16 95h1.04v1.3h-1.04z"/><path fill="#e57878" d="M1 2h1.04v2.3h-1.04zM1 10h1.04v1.3h-1.04zM1 15h1.04v1.3h-1.04zM1 17h1.04v1.3h-1.04zM1 19h1.04v1.3h-1.04zM1 30h1.04v1.3h-1.04z"/><path fill="#e77e7e" d="M1 6h1.04v1.3h-1.04zM1 16h1.04v1.3h-1.04zM1 18h1.04v1.3h-1.04zM16 2h1.04v1.3h-1.04zM16 6h1.04v1.3h-1.04zM16 8h1.04v3.3h-1.04zM16 12h1.04v5.3h-1.04zM16 18h1.04v2.3h-1.04zM16 24h1.04v1.3h-1.04zM16 26h1.04v2.3h-1.04zM16 35h1.04v1.3h-1.04zM16 38h1.04v1.3h-1.04zM16 40h1.04v6.3h-1.04zM16 53h1.04v4.3h-1.04zM16 58h1.04v2.3h-1.04zM16 61h1.04v1.3h-1.04zM16 63h1.04v1.3h-1.04zM16 65h1.04v1.3h-1.04zM16 67h1.04v3.3h-1.04zM16 72h1.04v3.3h-1.04zM16 78h1.04v1.3h-1.04zM16 81h1.04v1.3h-1.04zM16 83h1.04v2.3h-1.04zM16 87h1.04v3.3h-1.04zM16 91h1.04v3.3h-1.04zM16 97h1.04v1.3h-1.04zM16 99h1.04v1.3h-1.04z"/><path fill="#e57676" d="M1 8h1.04v1.3h-1.04zM1 13h1.04v1.3h-1.04zM1 25h1.04v1.3h-1.04z"/><path fill="#e68484" d="M1 32h1.04v2.3h-1.04zM1 42h1.04v1.3h-1.04zM1 49h1.04v2.3h-1.04zM1 55h1.04v2.3h-1.04zM1 58h1.04v1.3h-1.04zM1 87h1.04v2.3h-1.04z"/><path fill="#e78888" d="M1 34h1.04v1.3h-1.04zM1 37h1.04v1.3h-1.04zM1 39h1.04v1.3h-1.04zM1 43h1.04v3.3h-1.04zM1 47h1.04v2.3h-1.04zM1 51h1.04v2.3h-1.04zM1 57h1.04v1.3h-1.04zM1 60h1.04v1.3h-1.04zM1 62h1.04v6.3h-1.04zM1 72h1.04v1.3h-1.04zM1 74h1.04v1.3h-1.04zM1 76h1.04v1.3h-1.04zM1 78h1.04v9.3h-1.04zM1 89h1.04v1.3h-1.04zM1 92h1.04v1.3h-1.04zM1 94h1.04v1.3h-1.04zM1 97h1.04v3.3h-1.04zM2 32h1.04v2.3h-1.04zM2 48h1.04v1.3h-1.04zM2 59h1.04v1.3h-1.04zM2 68h1.04v1.3h-1.04zM2 76h1.04v1.3h-1.04zM2 85h1.04v1.3h-1.04z"/><path fill="#e68686" d="M1 35h1.04v1.3h-1.04zM1 38h1.04v1.3h-1.04zM1 41h1.04v1.3h-1.04zM1 46h1.04v1.3h-1.04zM1 53h1.04v1.3h-1.04zM1 61h1.04v1.3h-1.04zM1 70h1.04v1.3h-1.04zM1 73h1.04v1.3h-1.04zM1 75h1.04v1.3h-1.04zM1 77h1.04v1.3h-1.04zM1 93h1.04v1.3h-1.04z"/><path fill="#e88a8a" d="M1 36h1.04v1.3h-1.04zM1 40h1.04v1.3h-1.04zM1 54h1.04v1.3h-1.04zM1 90h1.04v1.3h-1.04zM2 34h1.04v1.3h-1.04zM2 38h1.04v2.3h-1.04zM2 41h1.04v3.3h-1.04zM2 51h1.04v2.3h-1.04zM2 54h1.04v5.3h-1.04zM2 62h1.04v3.3h-1.04zM2 66h1.04v1.3h-1.04zM2 69h1.04v3.3h-1.04zM2 74h1.04v1.3h-1.04zM2 79h1.04v1.3h-1.04zM2 81h1.04v2.3h-1.04zM2 89h1.04v1.3h-1.04zM2 92h1.04v2.3h-1.04zM2 97h1.04v1.3h-1.04zM2 99h1.04v1.3h-1.04zM12 98h1.04v2.3h-1.04zM13 99h1.04v1.3h-1.04z"/><path fill="#e88c8c" d="M1 59h1.04v1.3h-1.04zM1 68h1.04v2.3h-1.04zM1 71h1.04v1.3h-1.04zM1 91h1.04v1.3h-1.04zM1 95h1.04v2.3h-1.04zM14 98h1.04v2.3h-1.04z"/><path fill="#e16868" d="M2 0h1.04v1.3h-1.04zM2 8h1.04v1.3h-1.04zM2 18h1.04v1.3h-1.04zM2 20h1.04v1.3h-1.04zM2 26h1.04v1.3h-1.04z"/><path fill="#e36c6c" d="M2 1h1.04v1.3h-1.04zM2 3h1.04v1.3h-1.04zM2 5h1.04v2.3h-1.04zM2 11h1.04v2.3h-1.04zM2 14h1.04v1.3h-1.04z"/><path fill="#e16666" d="M2 2h1.04v1.3h-1.04zM2 23h1.04v1.3h-1.04z"/><path fill="#e36e6e" d="M2 4h1.04v1.3h-1.04zM2 7h1.04v1.3h-1.04zM2 22h1.04v1.3h-1.04zM2 31h1.04v1.3h-1.04z"/><path fill="#e26a6a" d="M2 9h1.04v2.3h-1.04zM2 13h1.04v1.3h-1.04zM2 15h1.04v3.3h-1.04zM2 19h1.04v1.3h-1.04zM2 21h1.04v1.3h-1.04zM2 24h1.04v2.3h-1.04zM2 27h1.04v4.3h-1.04z"/><path fill="#e98c8c" d="M2 35h1.04v1.3h-1.04zM2 37h1.04v1.3h-1.04zM2 49h1.04v1.3h-1.04zM2 78h1.04v1.3h-1.04zM2 88h1.04v1.3h-1.04zM2 96h1.04v1.3h-1.04zM6 41h1.04v1.3h-1.04zM6 43h1.04v2.3h-1.04zM6 53h1.04v2.3h-1.04zM6 59h1.04v1.3h-1.04zM6 63h1.04v1.3h-1.04zM6 67h1.04v1.3h-1.04zM6 69h1.04v1.3h-1.04zM6 73h1.04v1.3h-1.04zM6 86h1.04v1.3h-1.04zM6 96h1.04v1.3h-1.04zM11 86h1.04v1.3h-1.04z"/><path fill="#e98e8e" d="M2 36h1.04v1.3h-1.04zM2 44h1.04v3.3h-1.04zM2 50h1.04v1.3h-1.04zM2 73h1.04v1.3h-1.04zM2 77h1.04v1.3h-1.04zM2 80h1.04v1.3h-1.04zM2 84h1.04v1.3h-1.04zM2 86h1.04v2.3h-1.04zM2 90h1.04v1.3h-1.04zM2 95h1.04v1.3h-1.04zM12 96h1.04v2.3h-1.04zM13 97h1.04v1.3h-1.04z"/><path fill="#e78686" d="M2 40h1.04v1.3h-1.04zM2 47h1.04v1.3h-1.04zM2 53h1.04v1.3h-1.04zM2 60h1.04v2.3h-1.04zM2 65h1.04v1.3h-1.04zM2 67h1.04v1.3h-1.04zM2 72h1.04v1.3h-1.04zM2 75h1.04v1.3h-1.04zM2 83h1.04v1.3h-1.04zM2 91h1.04v1.3h-1.04zM2 94h1.04v1.3h-1.04zM2 98h1.04v1.3h-1.04zM13 98h1.04v1.3h-1.04z"/><path fill="#de4c4c" d="M3 0h1.04v3.3h-1.04zM3 5h1.04v1.3h-1.04zM3 7h1.04v2.3h-1.04zM3 15h1.04v3.3h-1.04zM3 19h1.04v1.3h-1.04zM3 27h1.04v2.3h-1.04zM3 30h1.04v2.3h-1.04zM3 36h1.04v2.3h-1.04z"/><path fill="#df5050" d="M3 3h1.04v2.3h-1.04zM3 11h1.04v1.3h-1.04zM3 18h1.04v1.3h-1.04zM3 21h1.04v1.3h-1.04zM3 29h1.04v1.3h-1.04zM3 32h1.04v1.3h-1.04zM3 40h1.04v1.3h-1.04z"/><path fill="#dd4a4a" d="M3 6h1.04v1.3h-1.04zM3 9h1.04v2.3h-1.04zM3 12h1.04v1.3h-1.04zM3 14h1.04v1.3h-1.04zM3 23h1.04v1.3h-1.04zM3 26h1.04v1.3h-1.04zM3 38h1.04v1.3h-1.04z"/><path fill="#dd4848" d="M3 13h1.04v1.3h-1.04zM3 20h1.04v1.3h-1.04zM3 24h1.04v2.3h-1.04zM3 33h1.04v1.3h-1.04zM3 39h1.04v1.3h-1.04z"/><path fill="#df4e4e" d="M3 22h1.04v1.3h-1.04zM3 34h1.04v2.3h-1.04z"/><path fill="#ea9290" d="M3 41h1.04v2.3h-1.04zM3 44h1.04v1.3h-1.04zM3 47h1.04v1.3h-1.04zM3 55h1.04v1.3h-1.04zM3 58h1.04v1.3h-1.04zM3 62h1.04v1.3h-1.04zM3 68h1.04v2.3h-1.04zM3 71h1.04v1.3h-1.04zM3 73h1.04v1.3h-1.04zM3 75h1.04v1.3h-1.04zM3 77h1.04v1.3h-1.04zM3 79h1.04v1.3h-1.04zM3 83h1.04v2.3h-1.04zM3 88h1.04v1.3h-1.04zM3 90h1.04v1.3h-1.04zM3 92h1.04v3.3h-1.04zM3 97h1.04v1.3h-1.04zM3 99h1.04v1.3h-1.04zM4 60h1.04v2.3h-1.04zM4 64h1.04v1.3h-1.04zM4 68h1.04v2.3h-1.04zM4 73h1.04v1.3h-1.04zM4 75h1.04v1.3h-1.04zM4 77h1.04v1.3h-1.04zM4 79h1.04v1.3h-1.04zM4 82h1.04v2.3h-1.04zM4 87h1.04v4.3h-1.04zM4 92h1.04v1.3h-1.04zM4 96h1.04v1.3h-1.04zM4 98h1.04v2.3h-1.04z"/><path fill="#e9908e" d="M3 43h1.04v1.3h-1.04zM3 59h1.04v1.3h-1.04zM3 70h1.04v1.3h-1.04zM3 82h1.04v1.3h-1.04zM3 87h1.04v1.3h-1.04zM3 89h1.04v1.3h-1.04zM3 95h1.04v1.3h-1.04zM4 54h1.04v1.3h-1.04zM4 56h1.04v1.3h-1.04zM4 65h1.04v1.3h-1.04zM4 67h1.04v1.3h-1.04zM4 72h1.04v1.3h-1.04zM4 74h1.04v1.3h-1.04z"/><path fill="#eb9694" d="M3 45h1.04v1.3h-1.04zM3 52h1.04v1.3h-1.04zM3 54h1.04v1.3h-1.04zM3 56h1.04v2.3h-1.04zM3 60h1.04v1.3h-1.04zM3 64h1.04v1.3h-1.04zM3 67h1.04v1.3h-1.04zM3 72h1.04v1.3h-1.04zM3 78h1.04v1.3h-1.04zM3 86h1.04v1.3h-1.04zM3 96h1.04v1.3h-1.04zM4 57h1.04v1.3h-1.04zM4 59h1.04v1.3h-1.04zM4 63h1.04v1.3h-1.04zM4 71h1.04v1.3h-1.04zM4 76h1.04v1.3h-1.04zM4 84h1.04v1.3h-1.04zM4 86h1.04v1.3h-1.04z"/><path fill="#e98e8c" d="M3 46h1.04v1.3h-1.04zM3 48h1.04v3.3h-1.04zM3 53h1.04v1.3h-1.04zM3 81h1.04v1.3h-1.04zM3 85h1.04v1.3h-1.04zM3 98h1.04v1.3h-1.04zM4 55h1.04v1.3h-1.04zM4 58h1.04v1.3h-1.04zM4 62h1.04v1.3h-1.04zM4 80h1.04v2.3h-1.04zM4 85h1.04v1.3h-1.04zM4 91h1.04v1.3h-1.04zM4 95h1.04v1.3h-1.04zM4 97h1.04v1.3h-1.04z"/><path fill="#eb9492" d="M3 51h1.04v1.3h-1.04zM3 61h1.04v1.3h-1.04zM3 63h1.04v1.3h-1.04zM3 65h1.04v2.3h-1.04zM3 74h1.04v1.3h-1.04zM3 76h1.04v1.3h-1.04zM3 80h1.04v1.3h-1.04zM3 91h1.04v1.3h-1.04zM4 66h1.04v1.3h-1.04zM4 70h1.04v1.3h-1.04zM4 78h1.04v1.3h-1.04zM4 93h1.04v2.3h-1.04z"/><path fill="#dc3c3e" d="M4 0h1.04v1.3h-1.04zM4 4h1.04v1.3h-1.04zM4 10h1.04v1.3h-1.04zM4 12h1.04v1.3h-1.04zM4 14h1.04v1.3h-1.04zM4 16h1.04v2.3h-1.04zM4 19h1.04v1.3h-1.04zM4 21h1.04v1.3h-1.04zM4 25h1.04v1.3h-1.04zM4 32h1.04v5.3h-1.04zM4 39h1.04v1.3h-1.04zM4 44h1.04v1.3h-1.04zM4 47h1.04v2.3h-1.04zM4 51h1.04v1.3h-1.04z"/><path fill="#dd4042" d="M4 1h1.04v1.3h-1.04zM4 20h1.04v1.3h-1.04zM4 26h1.04v2.3h-1.04zM4 30h1.04v2.3h-1.04zM4 37h1.04v2.3h-1.04zM4 42h1.04v2.3h-1.04zM4 50h1.04v1.3h-1.04zM4 52h1.04v2.3h-1.04z"/><path fill="#db383a" d="M4 2h1.04v1.3h-1.04zM4 9h1.04v1.3h-1.04zM4 15h1.04v1.3h-1.04zM4 18h1.04v1.3h-1.04zM4 22h1.04v1.3h-1.04zM4 24h1.04v1.3h-1.04zM4 29h1.04v1.3h-1.04zM4 41h1.04v1.3h-1.04z"/><path fill="#dd3e40" d="M4 3h1.04v1.3h-1.04zM4 6h1.04v1.3h-1.04zM4 8h1.04v1.3h-1.04zM4 11h1.04v1.3h-1.04zM4 13h1.04v1.3h-1.04zM4 46h1.04v1.3h-1.04z"/><path fill="#db3a3c" d="M4 5h1.04v1.3h-1.04zM4 7h1.04v1.3h-1.04zM4 23h1.04v1.3h-1.04zM4 28h1.04v1.3h-1.04zM4 40h1.04v1.3h-1.04zM4 45h1.04v1.3h-1.04zM4 49h1.04v1.3h-1.04z"/><path fill="#dd4e4e" d="M5 0h1.04v1.3h-1.04zM5 5h1.04v1.3h-1.04zM5 8h1.04v1.3h-1.04zM5 13h1.04v1.3h-1.04zM5 16h1.04v1.3h-1.04zM5 20h1.04v2.3h-1.04zM5 29h1.04v1.3h-1.04zM5 35h1.04v1.3h-1.04zM5 41h1.04v1.3h-1.04zM5 43h1.04v1.3h-1.04zM5 45h1.04v2.3h-1.04zM5 49h1.04v1.3h-1.04zM5 52h1.04v1.3h-1.04zM10 3h1.04v2.3h-1.04zM10 7h1.04v1.3h-1.04zM10 17h1.04v1.3h-1.04zM10 34h1.04v1.3h-1.04zM10 39h1.04v1.3h-1.04zM10 59h1.04v1.3h-1.04zM10 75h1.04v1.3h-1.04zM17 9h1.04v1.3h-1.04zM17 21h1.04v1.3h-1.04zM17 32h1.04v1.3h-1.04zM17 38h1.04v1.3h-1.04zM17 43h1.04v2.3h-1.04zM17 50h1.04v1.3h-1.04zM17 59h1.04v1.3h-1.04zM17 65h1.04v1.3h-1.04zM17 69h1.04v1.3h-1.04zM17 72h1.04v1.3h-1.04zM17 87h1.04v2.3h-1.04zM17 93h1.04v3.3h-1.04z"/><path fill="#df5454" d="M5 1h1.04v1.3h-1.04zM5 4h1.04v1.3h-1.04zM5 25h1.04v1.3h-1.04zM5 28h1.04v1.3h-1.04zM5 37h1.04v1.3h-1.04zM5 48h1.04v1.3h-1.04zM5 50h1.04v2.3h-1.04zM5 54h1.04v1.3h-1.04zM5 57h1.04v1.3h-1.04zM8 9h1.04v1.3h-1.04zM8 13h1.04v1.3h-1.04zM8 17h1.04v1.3h-1.04zM8 30h1.04v1.3h-1.04zM8 33h1.04v1.3h-1.04zM8 38h1.04v1.3h-1.04zM8 41h1.04v1.3h-1.04zM8 45h1.04v1.3h-1.04zM8 47h1.04v1.3h-1.04zM9 9h1.04v1.3h-1.04zM9 13h1.04v1.3h-1.04zM9 29h1.04v1.3h-1.04zM9 35h1.04v1.3h-1.04zM9 51h1.04v1.3h-1.04zM17 1h1.04v2.3h-1.04zM17 6h1.04v1.3h-1.04zM17 14h1.04v1.3h-1.04zM17 18h1.04v1.3h-1.04zM17 27h1.04v1.3h-1.04zM17 31h1.04v1.3h-1.04zM17 35h1.04v1.3h-1.04zM17 39h1.04v1.3h-1.04zM17 48h1.04v1.3h-1.04zM17 54h1.04v1.3h-1.04zM17 58h1.04v1.3h-1.04zM17 61h1.04v1.3h-1.04zM17 64h1.04v1.3h-1.04zM17 70h1.04v1.3h-1.04zM17 76h1.04v1.3h-1.04zM17 79h1.04v2.3h-1.04zM17 82h1.04v1.3h-1.04zM17 85h1.04v1.3h-1.04zM17 96h1.04v2.3h-1.04z"/><path fill="#de5050" d="M5 2h1.04v2.3h-1.04zM5 6h1.04v1.3h-1.04zM5 14h1.04v1.3h-1.04zM5 22h1.04v2.3h-1.04zM5 26h1.04v2.3h-1.04zM5 30h1.04v3.3h-1.04zM5 34h1.04v1.3h-1.04zM5 36h1.04v1.3h-1.04zM5 38h1.04v3.3h-1.04zM5 42h1.04v1.3h-1.04zM5 44h1.04v1.3h-1.04zM5 53h1.04v1.3h-1.04zM5 55h1.04v2.3h-1.04z"/><path fill="#dd4c4c" d="M5 7h1.04v1.3h-1.04zM5 9h1.04v1.3h-1.04zM5 15h1.04v1.3h-1.04zM5 17h1.04v2.3h-1.04zM5 24h1.04v1.3h-1.04zM5 47h1.04v1.3h-1.04zM10 5h1.04v1.3h-1.04zM10 18h1.04v1.3h-1.04zM10 38h1.04v1.3h-1.04zM10 48h1.04v2.3h-1.04zM10 53h1.04v1.3h-1.04zM10 64h1.04v1.3h-1.04zM10 66h1.04v2.3h-1.04zM10 74h1.04v1.3h-1.04z"/><path fill="#df5252" d="M5 10h1.04v3.3h-1.04zM5 19h1.04v1.3h-1.04zM5 33h1.04v1.3h-1.04zM8 7h1.04v1.3h-1.04zM8 19h1.04v1.3h-1.04zM8 27h1.04v1.3h-1.04zM8 49h1.04v1.3h-1.04zM8 54h1.04v1.3h-1.04zM8 56h1.04v1.3h-1.04z"/><path fill="#e98f8e" d="M5 58h1.04v1.3h-1.04zM5 60h1.04v1.3h-1.04zM5 64h1.04v1.3h-1.04zM5 74h1.04v1.3h-1.04zM5 83h1.04v1.3h-1.04zM7 72h1.04v2.3h-1.04zM7 83h1.04v1.3h-1.04z"/><path fill="#e98d8c" d="M5 59h1.04v1.3h-1.04zM5 62h1.04v1.3h-1.04zM5 69h1.04v1.3h-1.04zM5 81h1.04v1.3h-1.04zM5 94h1.04v1.3h-1.04zM5 98h1.04v1.3h-1.04zM7 61h1.04v1.3h-1.04zM7 66h1.04v1.3h-1.04zM7 74h1.04v2.3h-1.04zM7 80h1.04v1.3h-1.04zM7 82h1.04v1.3h-1.04zM7 85h1.04v1.3h-1.04zM7 92h1.04v1.3h-1.04zM7 94h1.04v1.3h-1.04zM7 97h1.04v1.3h-1.04zM8 65h1.04v1.3h-1.04zM8 71h1.04v1.3h-1.04zM8 79h1.04v1.3h-1.04zM8 98h1.04v1.3h-1.04z"/><path fill="#ea9190" d="M5 61h1.04v1.3h-1.04zM5 63h1.04v1.3h-1.04zM5 67h1.04v2.3h-1.04zM5 72h1.04v2.3h-1.04zM5 76h1.04v3.3h-1.04zM5 80h1.04v1.3h-1.04zM5 84h1.04v3.3h-1.04zM5 88h1.04v1.3h-1.04zM5 90h1.04v2.3h-1.04zM5 96h1.04v2.3h-1.04zM5 99h1.04v1.3h-1.04zM7 62h1.04v3.3h-1.04zM7 67h1.04v2.3h-1.04zM7 70h1.04v1.3h-1.04zM7 76h1.04v2.3h-1.04zM7 79h1.04v1.3h-1.04zM7 86h1.04v1.3h-1.04zM7 88h1.04v2.3h-1.04zM7 91h1.04v1.3h-1.04zM7 95h1.04v1.3h-1.04zM7 99h1.04v1.3h-1.04z"/><path fill="#eb9392" d="M5 65h1.04v2.3h-1.04zM5 70h1.04v1.3h-1.04zM5 75h1.04v1.3h-1.04zM5 79h1.04v1.3h-1.04zM5 89h1.04v1.3h-1.04zM5 95h1.04v1.3h-1.04zM7 65h1.04v1.3h-1.04zM7 69h1.04v1.3h-1.04zM7 84h1.04v1.3h-1.04zM7 90h1.04v1.3h-1.04zM7 98h1.04v1.3h-1.04zM8 66h1.04v1.3h-1.04zM8 84h1.04v1.3h-1.04zM8 87h1.04v1.3h-1.04zM8 92h1.04v2.3h-1.04zM8 96h1.04v1.3h-1.04z"/><path fill="#eb9594" d="M5 71h1.04v1.3h-1.04zM5 82h1.04v1.3h-1.04zM5 87h1.04v1.3h-1.04zM5 92h1.04v2.3h-1.04zM7 71h1.04v1.3h-1.04zM7 78h1.04v1.3h-1.04zM7 81h1.04v1.3h-1.04zM7 87h1.04v1.3h-1.04zM7 93h1.04v1.3h-1.04zM7 96h1.04v1.3h-1.04z"/><path fill="#e88686" d="M6 0h1.04v1.3h-1.04zM6 17h1.04v1.3h-1.04z"/><path fill="#e98888" d="M6 1h1.04v1.3h-1.04zM6 3h1.04v1.3h-1.04zM6 8h1.04v1.3h-1.04zM6 11h1.04v2.3h-1.04zM6 15h1.04v1.3h-1.04zM6 19h1.04v1.3h-1.04zM6 21h1.04v2.3h-1.04zM6 28h1.04v2.3h-1.04zM10 93h1.04v1.3h-1.04z"/><path fill="#ea8c8c" d="M6 2h1.04v1.3h-1.04zM6 6h1.04v1.3h-1.04zM6 10h1.04v1.3h-1.04zM6 20h1.04v1.3h-1.04zM6 23h1.04v1.3h-1.04zM6 26h1.04v1.3h-1.04zM6 30h1.04v1.3h-1.04zM9 99h1.04v1.3h-1.04zM10 78h1.04v6.3h-1.04zM10 86h1.04v3.3h-1.04zM10 95h1.04v2.3h-1.04zM10 98h1.04v1.3h-1.04z"/><path fill="#e88484" d="M6 4h1.04v2.3h-1.04zM6 9h1.04v1.3h-1.04zM6 13h1.04v1.3h-1.04zM6 25h1.04v1.3h-1.04z"/><path fill="#ea8a8a" d="M6 7h1.04v1.3h-1.04zM6 14h1.04v1.3h-1.04zM6 16h1.04v1.3h-1.04zM6 18h1.04v1.3h-1.04zM6 24h1.04v1.3h-1.04zM6 27h1.04v1.3h-1.04zM6 31h1.04v2.3h-1.04zM9 65h1.04v2.3h-1.04zM9 68h1.04v1.3h-1.04zM9 70h1.04v2.3h-1.04zM9 84h1.04v1.3h-1.04z"/><path fill="#ea8e8e" d="M6 33h1.04v1.3h-1.04zM6 35h1.04v1.3h-1.04zM6 38h1.04v1.3h-1.04zM6 47h1.04v3.3h-1.04zM6 52h1.04v1.3h-1.04zM6 57h1.04v2.3h-1.04zM6 60h1.04v1.3h-1.04zM6 65h1.04v1.3h-1.04zM6 68h1.04v1.3h-1.04zM6 71h1.04v1.3h-1.04zM6 75h1.04v1.3h-1.04zM6 80h1.04v2.3h-1.04zM6 85h1.04v1.3h-1.04zM6 87h1.04v1.3h-1.04zM6 89h1.04v1.3h-1.04zM6 91h1.04v1.3h-1.04zM6 98h1.04v2.3h-1.04zM11 87h1.04v5.3h-1.04zM11 94h1.04v1.3h-1.04zM11 97h1.04v2.3h-1.04z"/><path fill="#eb9090" d="M6 34h1.04v1.3h-1.04zM6 50h1.04v1.3h-1.04zM6 77h1.04v1.3h-1.04zM6 79h1.04v1.3h-1.04zM6 88h1.04v1.3h-1.04zM6 90h1.04v1.3h-1.04zM6 93h1.04v1.3h-1.04zM6 95h1.04v1.3h-1.04zM6 97h1.04v1.3h-1.04zM10 91h1.04v1.3h-1.04zM11 83h1.04v2.3h-1.04zM11 96h1.04v1.3h-1.04z"/><path fill="#eb9292" d="M6 36h1.04v1.3h-1.04zM6 39h1.04v2.3h-1.04zM6 56h1.04v1.3h-1.04zM6 61h1.04v2.3h-1.04zM6 66h1.04v1.3h-1.04zM6 70h1.04v1.3h-1.04zM6 72h1.04v1.3h-1.04zM6 74h1.04v1.3h-1.04zM6 76h1.04v1.3h-1.04zM6 94h1.04v1.3h-1.04zM11 92h1.04v2.3h-1.04zM11 95h1.04v1.3h-1.04zM11 99h1.04v1.3h-1.04z"/><path fill="#e98a8a" d="M6 37h1.04v1.3h-1.04zM6 42h1.04v1.3h-1.04zM6 45h1.04v2.3h-1.04zM6 51h1.04v1.3h-1.04zM6 55h1.04v1.3h-1.04zM6 64h1.04v1.3h-1.04zM6 78h1.04v1.3h-1.04zM6 82h1.04v3.3h-1.04zM6 92h1.04v1.3h-1.04zM10 84h1.04v1.3h-1.04zM10 89h1.04v2.3h-1.04zM10 94h1.04v1.3h-1.04zM10 97h1.04v1.3h-1.04zM10 99h1.04v1.3h-1.04zM11 85h1.04v1.3h-1.04z"/><path fill="#e16464" d="M7 0h1.04v1.3h-1.04zM7 12h1.04v1.3h-1.04zM7 21h1.04v1.3h-1.04zM7 24h1.04v1.3h-1.04zM7 37h1.04v4.3h-1.04zM7 45h1.04v1.3h-1.04zM7 54h1.04v1.3h-1.04z"/><path fill="#e26666" d="M7 1h1.04v2.3h-1.04zM7 4h1.04v4.3h-1.04zM7 9h1.04v1.3h-1.04zM7 13h1.04v6.3h-1.04zM7 20h1.04v1.3h-1.04zM7 22h1.04v2.3h-1.04zM7 25h1.04v2.3h-1.04zM7 31h1.04v3.3h-1.04zM7 35h1.04v1.3h-1.04zM7 41h1.04v1.3h-1.04zM7 43h1.04v1.3h-1.04zM7 46h1.04v3.3h-1.04zM7 50h1.04v1.3h-1.04zM7 52h1.04v2.3h-1.04zM7 56h1.04v1.3h-1.04zM7 59h1.04v2.3h-1.04z"/><path fill="#e36868" d="M7 3h1.04v1.3h-1.04zM7 11h1.04v1.3h-1.04zM7 27h1.04v1.3h-1.04zM7 34h1.04v1.3h-1.04zM7 44h1.04v1.3h-1.04zM7 49h1.04v1.3h-1.04z"/><path fill="#e36a6a" d="M7 8h1.04v1.3h-1.04zM7 10h1.04v1.3h-1.04zM7 28h1.04v2.3h-1.04zM7 36h1.04v1.3h-1.04zM7 42h1.04v1.3h-1.04zM7 51h1.04v1.3h-1.04z"/><path fill="#e16262" d="M7 19h1.04v1.3h-1.04zM7 30h1.04v1.3h-1.04zM7 55h1.04v1.3h-1.04zM7 57h1.04v2.3h-1.04z"/><path fill="#e05656" d="M8 0h1.04v3.3h-1.04zM8 6h1.04v1.3h-1.04zM8 8h1.04v1.3h-1.04zM8 10h1.04v2.3h-1.04zM8 15h1.04v2.3h-1.04zM8 20h1.04v1.3h-1.04zM8 23h1.04v1.3h-1.04zM8 26h1.04v1.3h-1.04zM8 29h1.04v1.3h-1.04zM8 34h1.04v3.3h-1.04zM8 39h1.04v2.3h-1.04zM8 43h1.04v1.3h-1.04zM8 48h1.04v1.3h-1.04zM8 52h1.04v2.3h-1.04zM8 55h1.04v1.3h-1.04zM8 57h1.04v3.3h-1.04z"/><path fill="#e15a5a" d="M8 3h1.04v2.3h-1.04zM8 12h1.04v1.3h-1.04zM8 18h1.04v1.3h-1.04zM8 21h1.04v2.3h-1.04zM8 24h1.04v2.3h-1.04zM8 28h1.04v1.3h-1.04zM8 32h1.04v1.3h-1.04zM8 46h1.04v1.3h-1.04zM8 61h1.04v1.3h-1.04zM9 5h1.04v1.3h-1.04zM9 12h1.04v1.3h-1.04zM9 14h1.04v1.3h-1.04zM9 19h1.04v2.3h-1.04zM9 32h1.04v1.3h-1.04zM9 38h1.04v1.3h-1.04zM9 40h1.04v2.3h-1.04zM9 59h1.04v1.3h-1.04z"/><path fill="#e15858" d="M8 5h1.04v1.3h-1.04zM8 14h1.04v1.3h-1.04zM8 31h1.04v1.3h-1.04zM8 37h1.04v1.3h-1.04zM8 42h1.04v1.3h-1.04zM8 44h1.04v1.3h-1.04zM8 50h1.04v2.3h-1.04zM8 60h1.04v1.3h-1.04z"/><path fill="#e98b8a" d="M8 62h1.04v2.3h-1.04zM8 81h1.04v1.3h-1.04zM8 83h1.04v1.3h-1.04zM8 85h1.04v1.3h-1.04zM8 91h1.04v1.3h-1.04zM8 97h1.04v1.3h-1.04z"/><path fill="#ea8f8e" d="M8 64h1.04v1.3h-1.04zM8 67h1.04v1.3h-1.04zM8 69h1.04v1.3h-1.04zM8 73h1.04v1.3h-1.04zM8 75h1.04v2.3h-1.04zM8 78h1.04v1.3h-1.04zM8 80h1.04v1.3h-1.04zM8 82h1.04v1.3h-1.04zM8 86h1.04v1.3h-1.04zM8 88h1.04v3.3h-1.04zM8 99h1.04v1.3h-1.04z"/><path fill="#eb9190" d="M8 68h1.04v1.3h-1.04zM8 70h1.04v1.3h-1.04zM8 72h1.04v1.3h-1.04zM8 74h1.04v1.3h-1.04zM8 77h1.04v1.3h-1.04zM8 94h1.04v2.3h-1.04z"/><path fill="#e15c5c" d="M9 0h1.04v2.3h-1.04zM9 3h1.04v1.3h-1.04zM9 16h1.04v1.3h-1.04zM9 23h1.04v1.3h-1.04zM9 28h1.04v1.3h-1.04zM9 31h1.04v1.3h-1.04zM9 33h1.04v1.3h-1.04zM9 45h1.04v1.3h-1.04zM9 47h1.04v1.3h-1.04zM9 56h1.04v1.3h-1.04zM12 7h1.04v1.3h-1.04zM12 15h1.04v1.3h-1.04zM12 30h1.04v1.3h-1.04zM12 45h1.04v1.3h-1.04zM12 54h1.04v1.3h-1.04zM12 57h1.04v1.3h-1.04zM12 61h1.04v1.3h-1.04zM12 66h1.04v1.3h-1.04zM12 75h1.04v1.3h-1.04zM12 91h1.04v2.3h-1.04zM12 94h1.04v1.3h-1.04z"/><path fill="#df5656" d="M9 2h1.04v1.3h-1.04zM9 17h1.04v1.3h-1.04zM9 24h1.04v1.3h-1.04zM9 39h1.04v1.3h-1.04zM9 43h1.04v2.3h-1.04zM9 49h1.04v1.3h-1.04zM9 52h1.04v1.3h-1.04zM12 1h1.04v1.3h-1.04zM12 6h1.04v1.3h-1.04zM12 10h1.04v1.3h-1.04zM12 18h1.04v1.3h-1.04zM12 31h1.04v1.3h-1.04zM12 35h1.04v1.3h-1.04zM12 50h1.04v1.3h-1.04zM12 58h1.04v1.3h-1.04zM12 65h1.04v1.3h-1.04zM12 67h1.04v2.3h-1.04zM12 77h1.04v2.3h-1.04zM12 80h1.04v1.3h-1.04zM12 84h1.04v1.3h-1.04zM12 95h1.04v1.3h-1.04zM17 16h1.04v1.3h-1.04zM17 19h1.04v1.3h-1.04zM17 24h1.04v2.3h-1.04zM17 30h1.04v1.3h-1.04zM17 37h1.04v1.3h-1.04zM17 42h1.04v1.3h-1.04zM17 51h1.04v1.3h-1.04zM17 56h1.04v1.3h-1.04zM17 63h1.04v1.3h-1.04zM17 67h1.04v1.3h-1.04zM17 84h1.04v1.3h-1.04zM17 91h1.04v1.3h-1.04z"/><path fill="#e05858" d="M9 4h1.04v1.3h-1.04zM9 6h1.04v3.3h-1.04zM9 10h1.04v2.3h-1.04zM9 15h1.04v1.3h-1.04zM9 18h1.04v1.3h-1.04zM9 21h1.04v2.3h-1.04zM9 25h1.04v3.3h-1.04zM9 30h1.04v1.3h-1.04zM9 34h1.04v1.3h-1.04zM9 36h1.04v2.3h-1.04zM9 42h1.04v1.3h-1.04zM9 46h1.04v1.3h-1.04zM9 48h1.04v1.3h-1.04zM9 50h1.04v1.3h-1.04zM9 53h1.04v3.3h-1.04zM9 57h1.04v2.3h-1.04zM9 60h1.04v4.3h-1.04z"/><path fill="#eb8e8e" d="M9 64h1.04v1.3h-1.04zM9 67h1.04v1.3h-1.04zM9 72h1.04v1.3h-1.04zM9 74h1.04v1.3h-1.04zM9 78h1.04v2.3h-1.04zM9 82h1.04v2.3h-1.04zM9 86h1.04v2.3h-1.04zM9 89h1.04v2.3h-1.04zM9 92h1.04v1.3h-1.04zM9 94h1.04v1.3h-1.04zM9 96h1.04v1.3h-1.04zM10 85h1.04v1.3h-1.04zM10 92h1.04v1.3h-1.04z"/><path fill="#ec9292" d="M9 69h1.04v1.3h-1.04zM9 73h1.04v1.3h-1.04zM9 76h1.04v2.3h-1.04zM9 80h1.04v2.3h-1.04zM9 88h1.04v1.3h-1.04zM9 91h1.04v1.3h-1.04zM9 95h1.04v1.3h-1.04z"/><path fill="#ec9090" d="M9 75h1.04v1.3h-1.04zM9 85h1.04v1.3h-1.04zM9 93h1.04v1.3h-1.04zM9 97h1.04v2.3h-1.04z"/><path fill="#dc4a4a" d="M10 0h1.04v1.3h-1.04zM10 9h1.04v7.3h-1.04zM10 21h1.04v3.3h-1.04zM10 27h1.04v2.3h-1.04zM10 30h1.04v2.3h-1.04zM10 36h1.04v1.3h-1.04zM10 41h1.04v2.3h-1.04zM10 44h1.04v3.3h-1.04zM10 50h1.04v2.3h-1.04zM10 54h1.04v2.3h-1.04zM10 57h1.04v1.3h-1.04zM10 60h1.04v1.3h-1.04zM10 62h1.04v2.3h-1.04zM10 65h1.04v1.3h-1.04zM10 68h1.04v3.3h-1.04zM10 73h1.04v1.3h-1.04zM10 77h1.04v1.3h-1.04z"/><path fill="#db4848" d="M10 1h1.04v2.3h-1.04zM10 6h1.04v1.3h-1.04zM10 19h1.04v2.3h-1.04zM10 24h1.04v1.3h-1.04zM10 29h1.04v1.3h-1.04zM10 32h1.04v1.3h-1.04zM10 35h1.04v1.3h-1.04zM10 37h1.04v1.3h-1.04zM10 40h1.04v1.3h-1.04zM10 43h1.04v1.3h-1.04zM10 52h1.04v1.3h-1.04zM10 72h1.04v1.3h-1.04z"/><path fill="#db4646" d="M10 8h1.04v1.3h-1.04zM10 16h1.04v1.3h-1.04zM10 25h1.04v2.3h-1.04zM10 33h1.04v1.3h-1.04zM10 47h1.04v1.3h-1.04zM10 56h1.04v1.3h-1.04zM10 58h1.04v1.3h-1.04zM10 61h1.04v1.3h-1.04zM10 71h1.04v1.3h-1.04zM10 76h1.04v1.3h-1.04z"/><path fill="#e16060" d="M11 0h1.04v1.3h-1.04zM11 22h1.04v1.3h-1.04zM11 28h1.04v1.3h-1.04zM11 38h1.04v1.3h-1.04zM11 41h1.04v1.3h-1.04zM11 52h1.04v2.3h-1.04zM11 78h1.04v1.3h-1.04zM14 6h1.04v1.3h-1.04zM14 31h1.04v1.3h-1.04zM14 42h1.04v1.3h-1.04zM14 55h1.04v1.3h-1.04zM14 61h1.04v1.3h-1.04zM14 66h1.04v1.3h-1.04zM14 75h1.04v1.3h-1.04zM14 77h1.04v1.3h-1.04zM14 93h1.04v2.3h-1.04z"/><path fill="#e36464" d="M11 1h1.04v2.3h-1.04zM11 15h1.04v1.3h-1.04zM11 17h1.04v1.3h-1.04zM11 21h1.04v1.3h-1.04zM11 33h1.04v1.3h-1.04zM11 39h1.04v1.3h-1.04zM11 43h1.04v1.3h-1.04zM11 46h1.04v1.3h-1.04zM11 55h1.04v1.3h-1.04zM11 72h1.04v1.3h-1.04zM11 81h1.04v1.3h-1.04zM14 9h1.04v1.3h-1.04zM14 13h1.04v1.3h-1.04zM14 15h1.04v1.3h-1.04zM14 17h1.04v1.3h-1.04zM14 19h1.04v1.3h-1.04zM14 25h1.04v2.3h-1.04zM14 30h1.04v1.3h-1.04zM14 41h1.04v1.3h-1.04zM14 43h1.04v1.3h-1.04zM14 54h1.04v1.3h-1.04zM14 62h1.04v1.3h-1.04zM14 74h1.04v1.3h-1.04zM14 78h1.04v1.3h-1.04zM14 80h1.04v1.3h-1.04z"/><path fill="#e36666" d="M11 3h1.04v1.3h-1.04zM11 26h1.04v1.3h-1.04zM11 37h1.04v1.3h-1.04zM11 49h1.04v1.3h-1.04zM11 65h1.04v3.3h-1.04zM14 3h1.04v1.3h-1.04zM14 12h1.04v1.3h-1.04zM14 21h1.04v1.3h-1.04zM14 28h1.04v1.3h-1.04zM14 36h1.04v1.3h-1.04zM14 38h1.04v2.3h-1.04zM14 46h1.04v1.3h-1.04zM14 48h1.04v1.3h-1.04zM14 72h1.04v1.3h-1.04zM14 86h1.04v1.3h-1.04zM14 88h1.04v1.3h-1.04z"/><path fill="#e26262" d="M11 4h1.04v4.3h-1.04zM11 9h1.04v6.3h-1.04zM11 16h1.04v1.3h-1.04zM11 19h1.04v2.3h-1.04zM11 23h1.04v1.3h-1.04zM11 25h1.04v1.3h-1.04zM11 27h1.04v1.3h-1.04zM11 29h1.04v2.3h-1.04zM11 32h1.04v1.3h-1.04zM11 34h1.04v3.3h-1.04zM11 45h1.04v1.3h-1.04zM11 47h1.04v2.3h-1.04zM11 50h1.04v2.3h-1.04zM11 54h1.04v1.3h-1.04zM11 56h1.04v5.3h-1.04zM11 62h1.04v3.3h-1.04zM11 68h1.04v4.3h-1.04zM11 74h1.04v2.3h-1.04zM11 79h1.04v1.3h-1.04zM11 82h1.04v1.3h-1.04zM14 0h1.04v2.3h-1.04zM14 4h1.04v2.3h-1.04zM14 8h1.04v1.3h-1.04zM14 10h1.04v2.3h-1.04zM14 14h1.04v1.3h-1.04zM14 16h1.04v1.3h-1.04zM14 18h1.04v1.3h-1.04zM14 22h1.04v2.3h-1.04zM14 27h1.04v1.3h-1.04zM14 32h1.04v3.3h-1.04zM14 37h1.04v1.3h-1.04zM14 40h1.04v1.3h-1.04zM14 44h1.04v2.3h-1.04zM14 47h1.04v1.3h-1.04zM14 50h1.04v1.3h-1.04zM14 52h1.04v1.3h-1.04zM14 57h1.04v1.3h-1.04zM14 59h1.04v2.3h-1.04zM14 65h1.04v1.3h-1.04zM14 67h1.04v1.3h-1.04zM14 69h1.04v3.3h-1.04zM14 73h1.04v1.3h-1.04zM14 79h1.04v1.3h-1.04zM14 81h1.04v3.3h-1.04zM14 85h1.04v1.3h-1.04zM14 87h1.04v1.3h-1.04zM14 89h1.04v4.3h-1.04zM14 95h1.04v3.3h-1.04z"/><path fill="#e15e5e" d="M11 8h1.04v1.3h-1.04zM11 18h1.04v1.3h-1.04zM11 24h1.04v1.3h-1.04zM11 31h1.04v1.3h-1.04zM11 40h1.04v1.3h-1.04zM11 42h1.04v1.3h-1.04zM11 44h1.04v1.3h-1.04zM11 61h1.04v1.3h-1.04zM11 73h1.04v1.3h-1.04zM11 76h1.04v2.3h-1.04zM11 80h1.04v1.3h-1.04zM12 2h1.04v1.3h-1.04zM12 16h1.04v1.3h-1.04zM12 20h1.04v1.3h-1.04zM12 22h1.04v1.3h-1.04zM12 24h1.04v1.3h-1.04zM12 36h1.04v1.3h-1.04zM12 38h1.04v1.3h-1.04zM12 51h1.04v1.3h-1.04zM12 53h1.04v1.3h-1.04zM12 69h1.04v2.3h-1.04zM12 82h1.04v1.3h-1.04zM12 93h1.04v1.3h-1.04zM14 2h1.04v1.3h-1.04zM14 7h1.04v1.3h-1.04zM14 20h1.04v1.3h-1.04zM14 24h1.04v1.3h-1.04zM14 29h1.04v1.3h-1.04zM14 35h1.04v1.3h-1.04zM14 49h1.04v1.3h-1.04zM14 51h1.04v1.3h-1.04zM14 53h1.04v1.3h-1.04zM14 56h1.04v1.3h-1.04zM14 58h1.04v1.3h-1.04zM14 63h1.04v2.3h-1.04zM14 68h1.04v1.3h-1.04zM14 76h1.04v1.3h-1.04zM14 84h1.04v1.3h-1.04z"/><path fill="#e05a5a" d="M12 0h1.04v1.3h-1.04zM12 3h1.04v2.3h-1.04zM12 11h1.04v1.3h-1.04zM12 13h1.04v2.3h-1.04zM12 19h1.04v1.3h-1.04zM12 21h1.04v1.3h-1.04zM12 25h1.04v4.3h-1.04zM12 32h1.04v3.3h-1.04zM12 37h1.04v1.3h-1.04zM12 39h1.04v2.3h-1.04zM12 42h1.04v3.3h-1.04zM12 48h1.04v1.3h-1.04zM12 52h1.04v1.3h-1.04zM12 55h1.04v2.3h-1.04zM12 60h1.04v1.3h-1.04zM12 62h1.04v3.3h-1.04zM12 71h1.04v4.3h-1.04zM12 76h1.04v1.3h-1.04zM12 79h1.04v1.3h-1.04zM12 81h1.04v1.3h-1.04zM12 83h1.04v1.3h-1.04zM12 85h1.04v2.3h-1.04zM12 88h1.04v3.3h-1.04z"/><path fill="#df5858" d="M12 5h1.04v1.3h-1.04zM12 8h1.04v2.3h-1.04zM12 12h1.04v1.3h-1.04zM12 17h1.04v1.3h-1.04zM12 23h1.04v1.3h-1.04zM12 29h1.04v1.3h-1.04zM12 41h1.04v1.3h-1.04zM12 46h1.04v2.3h-1.04zM12 49h1.04v1.3h-1.04zM12 59h1.04v1.3h-1.04zM12 87h1.04v1.3h-1.04z"/><path fill="#db4c4e" d="M13 0h1.04v1.3h-1.04zM13 14h1.04v1.3h-1.04zM13 16h1.04v1.3h-1.04zM13 33h1.04v1.3h-1.04zM13 36h1.04v1.3h-1.04zM13 44h1.04v1.3h-1.04zM13 47h1.04v1.3h-1.04zM13 60h1.04v1.3h-1.04zM13 78h1.04v1.3h-1.04zM13 82h1.04v1.3h-1.04zM13 85h1.04v2.3h-1.04zM13 92h1.04v1.3h-1.04z"/><path fill="#da484a" d="M13 1h1.04v1.3h-1.04zM13 4h1.04v1.3h-1.04zM13 10h1.04v3.3h-1.04zM13 15h1.04v1.3h-1.04zM13 17h1.04v2.3h-1.04zM13 21h1.04v1.3h-1.04zM13 24h1.04v1.3h-1.04zM13 30h1.04v2.3h-1.04zM13 34h1.04v2.3h-1.04zM13 37h1.04v2.3h-1.04zM13 40h1.04v4.3h-1.04zM13 46h1.04v1.3h-1.04zM13 48h1.04v1.3h-1.04zM13 50h1.04v1.3h-1.04zM13 52h1.04v1.3h-1.04zM13 55h1.04v4.3h-1.04zM13 61h1.04v1.3h-1.04zM13 68h1.04v2.3h-1.04zM13 71h1.04v1.3h-1.04zM13 73h1.04v1.3h-1.04zM13 75h1.04v1.3h-1.04zM13 81h1.04v1.3h-1.04zM13 83h1.04v1.3h-1.04zM13 88h1.04v4.3h-1.04zM13 93h1.04v1.3h-1.04zM13 95h1.04v1.3h-1.04z"/><path fill="#d94648" d="M13 2h1.04v1.3h-1.04zM13 13h1.04v1.3h-1.04zM13 28h1.04v1.3h-1.04zM13 39h1.04v1.3h-1.04zM13 51h1.04v1.3h-1.04zM13 53h1.04v1.3h-1.04zM13 62h1.04v1.3h-1.04zM13 64h1.04v3.3h-1.04zM13 70h1.04v1.3h-1.04zM13 72h1.04v1.3h-1.04zM13 74h1.04v1.3h-1.04zM13 79h1.04v1.3h-1.04zM13 94h1.04v1.3h-1.04zM13 96h1.04v1.3h-1.04z"/><path fill="#db4a4c" d="M13 3h1.04v1.3h-1.04zM13 5h1.04v1.3h-1.04zM13 9h1.04v1.3h-1.04zM13 20h1.04v1.3h-1.04zM13 22h1.04v2.3h-1.04zM13 27h1.04v1.3h-1.04zM13 32h1.04v1.3h-1.04zM13 45h1.04v1.3h-1.04zM13 49h1.04v1.3h-1.04zM13 54h1.04v1.3h-1.04zM13 59h1.04v1.3h-1.04zM13 80h1.04v1.3h-1.04zM13 87h1.04v1.3h-1.04z"/><path fill="#d94446" d="M13 6h1.04v3.3h-1.04zM13 19h1.04v1.3h-1.04zM13 25h1.04v2.3h-1.04zM13 29h1.04v1.3h-1.04zM13 63h1.04v1.3h-1.04zM13 67h1.04v1.3h-1.04zM13 76h1.04v2.3h-1.04zM13 84h1.04v1.3h-1.04z"/><path fill="#db4244" d="M15 0h1.04v1.3h-1.04zM15 10h1.04v1.3h-1.04zM15 22h1.04v1.3h-1.04zM15 24h1.04v1.3h-1.04zM15 26h1.04v1.3h-1.04zM15 33h1.04v1.3h-1.04zM15 49h1.04v2.3h-1.04zM15 62h1.04v1.3h-1.04zM15 80h1.04v2.3h-1.04zM15 85h1.04v1.3h-1.04zM15 99h1.04v1.3h-1.04z"/><path fill="#dc4446" d="M15 1h1.04v1.3h-1.04zM15 3h1.04v2.3h-1.04zM15 6h1.04v4.3h-1.04zM15 11h1.04v2.3h-1.04zM15 14h1.04v1.3h-1.04zM15 16h1.04v5.3h-1.04zM15 27h1.04v1.3h-1.04zM15 29h1.04v4.3h-1.04zM15 34h1.04v2.3h-1.04zM15 37h1.04v1.3h-1.04zM15 39h1.04v2.3h-1.04zM15 42h1.04v2.3h-1.04zM15 47h1.04v1.3h-1.04zM15 53h1.04v2.3h-1.04zM15 56h1.04v3.3h-1.04zM15 60h1.04v2.3h-1.04zM15 65h1.04v3.3h-1.04zM15 69h1.04v1.3h-1.04zM15 72h1.04v3.3h-1.04zM15 77h1.04v2.3h-1.04zM15 82h1.04v1.3h-1.04zM15 84h1.04v1.3h-1.04zM15 86h1.04v1.3h-1.04z"/><path fill="#db4042" d="M15 2h1.04v1.3h-1.04zM15 21h1.04v1.3h-1.04zM15 44h1.04v1.3h-1.04zM15 46h1.04v1.3h-1.04zM15 48h1.04v1.3h-1.04zM15 52h1.04v1.3h-1.04zM15 55h1.04v1.3h-1.04zM15 59h1.04v1.3h-1.04zM15 68h1.04v1.3h-1.04zM15 71h1.04v1.3h-1.04zM15 83h1.04v1.3h-1.04z"/><path fill="#dd484a" d="M15 5h1.04v1.3h-1.04zM15 13h1.04v1.3h-1.04zM15 15h1.04v1.3h-1.04zM15 28h1.04v1.3h-1.04zM15 36h1.04v1.3h-1.04zM15 41h1.04v1.3h-1.04zM15 51h1.04v1.3h-1.04zM15 63h1.04v2.3h-1.04zM15 79h1.04v1.3h-1.04zM15 98h1.04v1.3h-1.04z"/><path fill="#dd4648" d="M15 23h1.04v1.3h-1.04zM15 25h1.04v1.3h-1.04zM15 38h1.04v1.3h-1.04zM15 45h1.04v1.3h-1.04zM15 70h1.04v1.3h-1.04zM15 75h1.04v2.3h-1.04zM15 87h1.04v3.3h-1.04z"/><path fill="#d4363c" d="M15 90h1.04v1.3h-1.04zM15 92h1.04v1.3h-1.04zM15 94h1.04v3.3h-1.04z"/><path fill="#d53a40" d="M15 91h1.04v1.3h-1.04zM15 93h1.04v1.3h-1.04zM15 97h1.04v1.3h-1.04z"/><path fill="#e88282" d="M16 0h1.04v1.3h-1.04zM16 5h1.04v1.3h-1.04zM16 20h1.04v1.3h-1.04zM16 30h1.04v1.3h-1.04zM16 32h1.04v1.3h-1.04zM16 36h1.04v1.3h-1.04zM16 46h1.04v1.3h-1.04zM16 48h1.04v3.3h-1.04zM16 52h1.04v1.3h-1.04zM16 57h1.04v1.3h-1.04zM16 71h1.04v1.3h-1.04zM16 76h1.04v1.3h-1.04zM16 82h1.04v1.3h-1.04zM16 86h1.04v1.3h-1.04zM16 94h1.04v1.3h-1.04z"/><path fill="#e88080" d="M16 1h1.04v1.3h-1.04zM16 11h1.04v1.3h-1.04zM16 17h1.04v1.3h-1.04zM16 21h1.04v2.3h-1.04zM16 28h1.04v2.3h-1.04zM16 33h1.04v1.3h-1.04zM16 39h1.04v1.3h-1.04zM16 60h1.04v1.3h-1.04zM16 62h1.04v1.3h-1.04zM16 64h1.04v1.3h-1.04zM16 66h1.04v1.3h-1.04zM16 75h1.04v1.3h-1.04zM16 80h1.04v1.3h-1.04zM16 90h1.04v1.3h-1.04zM16 98h1.04v1.3h-1.04z"/><path fill="#e67c7c" d="M16 3h1.04v1.3h-1.04zM16 7h1.04v1.3h-1.04zM16 70h1.04v1.3h-1.04zM16 77h1.04v1.3h-1.04zM16 79h1.04v1.3h-1.04zM16 85h1.04v1.3h-1.04zM16 96h1.04v1.3h-1.04z"/><path fill="#de5252" d="M17 0h1.04v1.3h-1.04zM17 3h1.04v3.3h-1.04zM17 7h1.04v2.3h-1.04zM17 11h1.04v3.3h-1.04zM17 15h1.04v1.3h-1.04zM17 17h1.04v1.3h-1.04zM17 20h1.04v1.3h-1.04zM17 22h1.04v2.3h-1.04zM17 26h1.04v1.3h-1.04zM17 29h1.04v1.3h-1.04zM17 33h1.04v2.3h-1.04zM17 40h1.04v1.3h-1.04zM17 47h1.04v1.3h-1.04zM17 49h1.04v1.3h-1.04zM17 53h1.04v1.3h-1.04zM17 55h1.04v1.3h-1.04zM17 60h1.04v1.3h-1.04zM17 62h1.04v1.3h-1.04zM17 66h1.04v1.3h-1.04zM17 68h1.04v1.3h-1.04zM17 71h1.04v1.3h-1.04zM17 74h1.04v2.3h-1.04zM17 77h1.04v2.3h-1.04zM17 83h1.04v1.3h-1.04zM17 86h1.04v1.3h-1.04zM17 90h1.04v1.3h-1.04zM17 92h1.04v1.3h-1.04zM17 99h1.04v1.3h-1.04z"/><path fill="#dd5050" d="M17 10h1.04v1.3h-1.04zM17 28h1.04v1.3h-1.04zM17 36h1.04v1.3h-1.04zM17 41h1.04v1.3h-1.04zM17 45h1.04v2.3h-1.04zM17 52h1.04v1.3h-1.04zM17 57h1.04v1.3h-1.04zM17 73h1.04v1.3h-1.04zM17 81h1.04v1.3h-1.04zM17 89h1.04v1.3h-1.04zM17 98h1.04v1.3h-1.04z"/></svg>
<rect x="345.90" y="356.60" width="8.20" height="3.10" fill="#111" />
<rect x="354.10" y="356.60" width="18.90" height="3.10" fill="#5a9a2c" />
<rect x="388.70" y="356.60" width="12.20" height="3.10" fill="#5a3aa8" />
<rect x="432.90" y="356.60" width="12.10" height="3.10" fill="#5aaeea" />
<rect x="445.00" y="356.60" width="13.50" height="3.10" fill="#f0c030" />
<text transform="translate(351.19,366.2) rotate(-90)" font-size="5.3" fill="#222" font-weight="bold" text-anchor="end" textLength="12.8" lengthAdjust="spacingAndGlyphs">8983</text>
<text transform="translate(358.17,366.2) rotate(-90)" font-size="5.3" fill="#222" font-weight="bold" text-anchor="end" textLength="12.8" lengthAdjust="spacingAndGlyphs">6996</text>
<text transform="translate(365.14,366.2) rotate(-90)" font-size="5.3" fill="#222" font-weight="bold" text-anchor="end" textLength="12.8" lengthAdjust="spacingAndGlyphs">7255</text>
<text transform="translate(372.12,366.2) rotate(-90)" font-size="5.3" fill="#222" font-weight="bold" text-anchor="end" textLength="12.8" lengthAdjust="spacingAndGlyphs">4414</text>
<text transform="translate(379.10,366.2) rotate(-90)" font-size="5.3" fill="#222" font-weight="bold" text-anchor="end" textLength="12.8" lengthAdjust="spacingAndGlyphs">7619</text>
<text transform="translate(386.08,366.2) rotate(-90)" font-size="5.3" fill="#222" font-weight="bold" text-anchor="end" textLength="12.8" lengthAdjust="spacingAndGlyphs">7828</text>
<text transform="translate(393.06,366.2) rotate(-90)" font-size="5.3" fill="#222" font-weight="bold" text-anchor="end" textLength="12.8" lengthAdjust="spacingAndGlyphs">6111</text>
<text transform="translate(400.03,366.2) rotate(-90)" font-size="5.3" fill="#222" font-weight="bold" text-anchor="end" textLength="12.8" lengthAdjust="spacingAndGlyphs">4279</text>
<text transform="translate(407.01,366.2) rotate(-90)" font-size="5.3" fill="#222" font-weight="bold" text-anchor="end" textLength="12.8" lengthAdjust="spacingAndGlyphs">7093</text>
<text transform="translate(413.99,366.2) rotate(-90)" font-size="5.3" fill="#222" font-weight="bold" text-anchor="end" textLength="12.8" lengthAdjust="spacingAndGlyphs">5898</text>
<text transform="translate(420.97,366.2) rotate(-90)" font-size="5.3" fill="#222" font-weight="bold" text-anchor="end" textLength="15.0" lengthAdjust="spacingAndGlyphs">11706</text>
<text transform="translate(427.94,366.2) rotate(-90)" font-size="5.3" fill="#222" font-weight="bold" text-anchor="end" textLength="12.8" lengthAdjust="spacingAndGlyphs">8743</text>
<text transform="translate(434.92,366.2) rotate(-90)" font-size="5.3" fill="#222" font-weight="bold" text-anchor="end" textLength="12.8" lengthAdjust="spacingAndGlyphs">7583</text>
<text transform="translate(441.90,366.2) rotate(-90)" font-size="5.3" fill="#222" font-weight="bold" text-anchor="end" textLength="12.8" lengthAdjust="spacingAndGlyphs">9028</text>
<text transform="translate(448.88,366.2) rotate(-90)" font-size="5.3" fill="#222" font-weight="bold" text-anchor="end" textLength="12.8" lengthAdjust="spacingAndGlyphs">7732</text>
<text transform="translate(455.86,366.2) rotate(-90)" font-size="5.3" fill="#222" font-weight="bold" text-anchor="end" textLength="12.8" lengthAdjust="spacingAndGlyphs">7045</text>
<text transform="translate(462.83,366.2) rotate(-90)" font-size="5.3" fill="#222" font-weight="bold" text-anchor="end" textLength="12.8" lengthAdjust="spacingAndGlyphs">6783</text>
<text transform="translate(469.81,366.2) rotate(-90)" font-size="5.3" fill="#222" font-weight="bold" text-anchor="end" textLength="12.8" lengthAdjust="spacingAndGlyphs">9864</text>
<line x1="483.8" y1="215.5" x2="483.8" y2="358.2" stroke="#555" stroke-width="0.9"/>
<rect x="479.0" y="223.00" width="9.1" height="3.90" rx="1.2" fill="#111111"/>
<text x="491.60" y="226.90" font-size="6.2" fill="#1a1a1a" text-anchor="start" font-weight="bold"  textLength="15.5" lengthAdjust="spacingAndGlyphs">KCNJ6</text>
<rect x="479.0" y="256.70" width="9.1" height="12.80" rx="1.2" fill="#5a9a2c"/>
<text x="491.60" y="265.00" font-size="6.2" fill="#1a1a1a" text-anchor="start" font-weight="bold"  textLength="18.2" lengthAdjust="spacingAndGlyphs">DSCAM</text>
<rect x="479.0" y="292.60" width="9.1" height="4.00" rx="1.2" fill="#5a3aa8"/>
<text x="492.00" y="296.60" font-size="6.2" fill="#1a1a1a" text-anchor="start" font-weight="bold"  textLength="15.9" lengthAdjust="spacingAndGlyphs">PDE9A</text>
<rect x="479.0" y="342.80" width="9.1" height="4.40" rx="1.2" fill="#5aaeea"/>
<text x="490.20" y="346.60" font-size="6.2" fill="#1a1a1a" text-anchor="start" font-weight="bold"  textLength="19.2" lengthAdjust="spacingAndGlyphs">COL6A2</text>
<rect x="479.0" y="351.50" width="9.1" height="4.80" rx="1.2" fill="#f0c030"/>
<text x="491.30" y="355.40" font-size="6.2" fill="#1a1a1a" text-anchor="start" font-weight="bold"  textLength="12.7" lengthAdjust="spacingAndGlyphs">PCNT</text>
<text x="499.80" y="384.60" font-size="6.6" fill="#333" text-anchor="start" font-weight="normal"  textLength="18.5" lengthAdjust="spacingAndGlyphs">~9 Mb</text></svg>
</body></html>
